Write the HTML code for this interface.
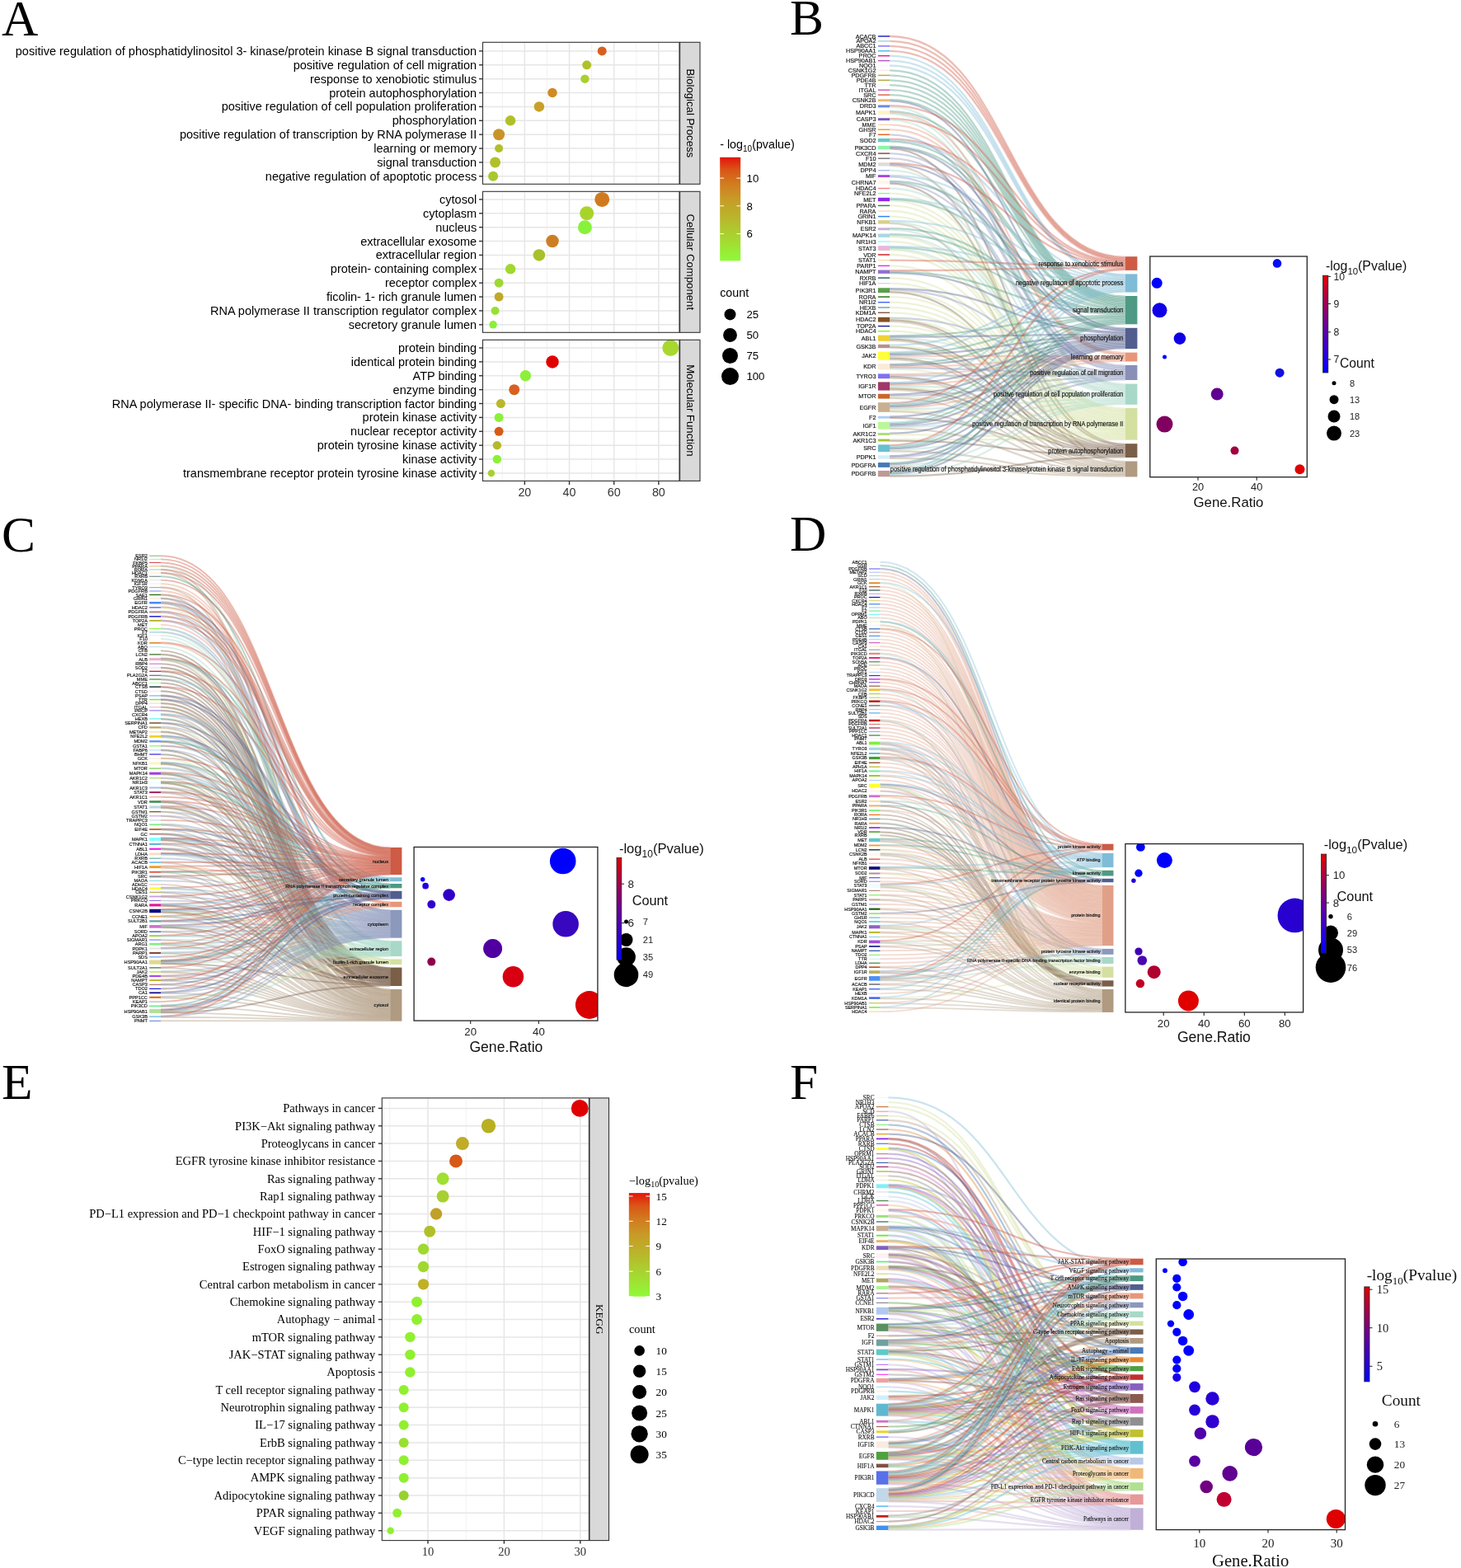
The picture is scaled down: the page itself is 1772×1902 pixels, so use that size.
<!DOCTYPE html>
<html><head><meta charset="utf-8"><title>Enrichment figure</title>
<style>
html,body{margin:0;padding:0;background:#fff;}
body{width:1772px;height:1902px;overflow:hidden;}
svg{display:block;font-family:'Liberation Sans',Arial,Helvetica,sans-serif;}
.sl{stroke:#111;stroke-width:0.16px;}
.sls{stroke:#111;stroke-width:0.1px;}
</style></head><body>
<svg width="1772" height="1902" viewBox="0 0 1772 1902">
<rect width="1772" height="1902" fill="#fff"/>
<text transform="translate(2 43) scale(0.99 1)" font-size="62" font-family="&#39;Liberation Serif&#39;, &#39;Times New Roman&#39;, serif" fill="#000">A</text>
<rect x="585.5" y="51.3" width="238.5" height="172" fill="#ffffff"/>
<line x1="609.28" y1="51.3" x2="609.28" y2="223.3" stroke="#efefef" stroke-width="0.9"/>
<line x1="663.44" y1="51.3" x2="663.44" y2="223.3" stroke="#efefef" stroke-width="0.9"/>
<line x1="717.6" y1="51.3" x2="717.6" y2="223.3" stroke="#efefef" stroke-width="0.9"/>
<line x1="771.76" y1="51.3" x2="771.76" y2="223.3" stroke="#efefef" stroke-width="0.9"/>
<line x1="636.36" y1="51.3" x2="636.36" y2="223.3" stroke="#e6e6e6" stroke-width="1.5"/>
<line x1="690.52" y1="51.3" x2="690.52" y2="223.3" stroke="#e6e6e6" stroke-width="1.5"/>
<line x1="744.68" y1="51.3" x2="744.68" y2="223.3" stroke="#e6e6e6" stroke-width="1.5"/>
<line x1="798.84" y1="51.3" x2="798.84" y2="223.3" stroke="#e6e6e6" stroke-width="1.5"/>
<line x1="585.5" y1="61.9" x2="824" y2="61.9" stroke="#e6e6e6" stroke-width="1.5"/>
<line x1="585.5" y1="78.78" x2="824" y2="78.78" stroke="#e6e6e6" stroke-width="1.5"/>
<line x1="585.5" y1="95.66" x2="824" y2="95.66" stroke="#e6e6e6" stroke-width="1.5"/>
<line x1="585.5" y1="112.54" x2="824" y2="112.54" stroke="#e6e6e6" stroke-width="1.5"/>
<line x1="585.5" y1="129.42" x2="824" y2="129.42" stroke="#e6e6e6" stroke-width="1.5"/>
<line x1="585.5" y1="146.3" x2="824" y2="146.3" stroke="#e6e6e6" stroke-width="1.5"/>
<line x1="585.5" y1="163.18" x2="824" y2="163.18" stroke="#e6e6e6" stroke-width="1.5"/>
<line x1="585.5" y1="180.06" x2="824" y2="180.06" stroke="#e6e6e6" stroke-width="1.5"/>
<line x1="585.5" y1="196.94" x2="824" y2="196.94" stroke="#e6e6e6" stroke-width="1.5"/>
<line x1="585.5" y1="213.82" x2="824" y2="213.82" stroke="#e6e6e6" stroke-width="1.5"/>
<circle cx="730.2" cy="61.9" r="5.5" fill="#d8601e"/>
<circle cx="711.7" cy="78.78" r="5.5" fill="#b0c02a"/>
<circle cx="709.4" cy="95.66" r="5.25" fill="#a8d030"/>
<circle cx="670" cy="112.54" r="5.75" fill="#d08a22"/>
<circle cx="653.9" cy="129.42" r="6.25" fill="#c8a028"/>
<circle cx="619.1" cy="146.3" r="6.25" fill="#b0c02a"/>
<circle cx="605.1" cy="163.18" r="7" fill="#c89428"/>
<circle cx="605.1" cy="180.06" r="5" fill="#b0c02a"/>
<circle cx="600.6" cy="196.94" r="6.5" fill="#b0c02a"/>
<circle cx="598.1" cy="213.82" r="6" fill="#a8c82c"/>
<rect x="585.5" y="51.3" width="238.5" height="172" fill="none" stroke="#333333" stroke-width="1.1"/>
<rect x="824.6" y="51.3" width="24.4" height="172" fill="#d9d9d9" stroke="#333333" stroke-width="1.1"/>
<text x="837.3" y="137.3" font-size="13.2" text-anchor="middle" transform="rotate(90 837.3 137.3)" dominant-baseline="central">Biological Process</text>
<line x1="581" y1="61.9" x2="585.5" y2="61.9" stroke="#333333" stroke-width="1.4"/>
<text x="578.2" y="66.9" font-size="14.5" text-anchor="end">positive regulation of phosphatidylinositol 3- kinase/protein kinase B signal transduction</text>
<line x1="581" y1="78.78" x2="585.5" y2="78.78" stroke="#333333" stroke-width="1.4"/>
<text x="578.2" y="83.78" font-size="14.5" text-anchor="end">positive regulation of cell migration</text>
<line x1="581" y1="95.66" x2="585.5" y2="95.66" stroke="#333333" stroke-width="1.4"/>
<text x="578.2" y="100.66" font-size="14.5" text-anchor="end">response to xenobiotic stimulus</text>
<line x1="581" y1="112.54" x2="585.5" y2="112.54" stroke="#333333" stroke-width="1.4"/>
<text x="578.2" y="117.54" font-size="14.5" text-anchor="end">protein autophosphorylation</text>
<line x1="581" y1="129.42" x2="585.5" y2="129.42" stroke="#333333" stroke-width="1.4"/>
<text x="578.2" y="134.42" font-size="14.5" text-anchor="end">positive regulation of cell population proliferation</text>
<line x1="581" y1="146.3" x2="585.5" y2="146.3" stroke="#333333" stroke-width="1.4"/>
<text x="578.2" y="151.3" font-size="14.5" text-anchor="end">phosphorylation</text>
<line x1="581" y1="163.18" x2="585.5" y2="163.18" stroke="#333333" stroke-width="1.4"/>
<text x="578.2" y="168.18" font-size="14.5" text-anchor="end">positive regulation of transcription by RNA polymerase II</text>
<line x1="581" y1="180.06" x2="585.5" y2="180.06" stroke="#333333" stroke-width="1.4"/>
<text x="578.2" y="185.06" font-size="14.5" text-anchor="end">learning or memory</text>
<line x1="581" y1="196.94" x2="585.5" y2="196.94" stroke="#333333" stroke-width="1.4"/>
<text x="578.2" y="201.94" font-size="14.5" text-anchor="end">signal transduction</text>
<line x1="581" y1="213.82" x2="585.5" y2="213.82" stroke="#333333" stroke-width="1.4"/>
<text x="578.2" y="218.82" font-size="14.5" text-anchor="end">negative regulation of apoptotic process</text>
<rect x="585.5" y="232.3" width="238.5" height="171" fill="#ffffff"/>
<line x1="609.28" y1="232.3" x2="609.28" y2="403.3" stroke="#efefef" stroke-width="0.9"/>
<line x1="663.44" y1="232.3" x2="663.44" y2="403.3" stroke="#efefef" stroke-width="0.9"/>
<line x1="717.6" y1="232.3" x2="717.6" y2="403.3" stroke="#efefef" stroke-width="0.9"/>
<line x1="771.76" y1="232.3" x2="771.76" y2="403.3" stroke="#efefef" stroke-width="0.9"/>
<line x1="636.36" y1="232.3" x2="636.36" y2="403.3" stroke="#e6e6e6" stroke-width="1.5"/>
<line x1="690.52" y1="232.3" x2="690.52" y2="403.3" stroke="#e6e6e6" stroke-width="1.5"/>
<line x1="744.68" y1="232.3" x2="744.68" y2="403.3" stroke="#e6e6e6" stroke-width="1.5"/>
<line x1="798.84" y1="232.3" x2="798.84" y2="403.3" stroke="#e6e6e6" stroke-width="1.5"/>
<line x1="585.5" y1="241.9" x2="824" y2="241.9" stroke="#e6e6e6" stroke-width="1.5"/>
<line x1="585.5" y1="258.78" x2="824" y2="258.78" stroke="#e6e6e6" stroke-width="1.5"/>
<line x1="585.5" y1="275.66" x2="824" y2="275.66" stroke="#e6e6e6" stroke-width="1.5"/>
<line x1="585.5" y1="292.54" x2="824" y2="292.54" stroke="#e6e6e6" stroke-width="1.5"/>
<line x1="585.5" y1="309.42" x2="824" y2="309.42" stroke="#e6e6e6" stroke-width="1.5"/>
<line x1="585.5" y1="326.3" x2="824" y2="326.3" stroke="#e6e6e6" stroke-width="1.5"/>
<line x1="585.5" y1="343.18" x2="824" y2="343.18" stroke="#e6e6e6" stroke-width="1.5"/>
<line x1="585.5" y1="360.06" x2="824" y2="360.06" stroke="#e6e6e6" stroke-width="1.5"/>
<line x1="585.5" y1="376.94" x2="824" y2="376.94" stroke="#e6e6e6" stroke-width="1.5"/>
<line x1="585.5" y1="393.82" x2="824" y2="393.82" stroke="#e6e6e6" stroke-width="1.5"/>
<circle cx="730.2" cy="241.9" r="9" fill="#d07a20"/>
<circle cx="711.7" cy="258.78" r="8.5" fill="#a8d42a"/>
<circle cx="709.4" cy="275.66" r="8.5" fill="#88f23a"/>
<circle cx="670" cy="292.54" r="7.75" fill="#cc7f22"/>
<circle cx="653.9" cy="309.42" r="7.25" fill="#a8c02a"/>
<circle cx="619.1" cy="326.3" r="6.25" fill="#a0d830"/>
<circle cx="605.1" cy="343.18" r="5.5" fill="#9ed835"/>
<circle cx="605.1" cy="360.06" r="5.5" fill="#c0a828"/>
<circle cx="600.6" cy="376.94" r="5" fill="#98e032"/>
<circle cx="598.1" cy="393.82" r="4.75" fill="#8aef3a"/>
<rect x="585.5" y="232.3" width="238.5" height="171" fill="none" stroke="#333333" stroke-width="1.1"/>
<rect x="824.6" y="232.3" width="24.4" height="171" fill="#d9d9d9" stroke="#333333" stroke-width="1.1"/>
<text x="837.3" y="317.8" font-size="13.2" text-anchor="middle" transform="rotate(90 837.3 317.8)" dominant-baseline="central">Cellular Component</text>
<line x1="581" y1="241.9" x2="585.5" y2="241.9" stroke="#333333" stroke-width="1.4"/>
<text x="578.2" y="246.9" font-size="14.5" text-anchor="end">cytosol</text>
<line x1="581" y1="258.78" x2="585.5" y2="258.78" stroke="#333333" stroke-width="1.4"/>
<text x="578.2" y="263.78" font-size="14.5" text-anchor="end">cytoplasm</text>
<line x1="581" y1="275.66" x2="585.5" y2="275.66" stroke="#333333" stroke-width="1.4"/>
<text x="578.2" y="280.66" font-size="14.5" text-anchor="end">nucleus</text>
<line x1="581" y1="292.54" x2="585.5" y2="292.54" stroke="#333333" stroke-width="1.4"/>
<text x="578.2" y="297.54" font-size="14.5" text-anchor="end">extracellular exosome</text>
<line x1="581" y1="309.42" x2="585.5" y2="309.42" stroke="#333333" stroke-width="1.4"/>
<text x="578.2" y="314.42" font-size="14.5" text-anchor="end">extracellular region</text>
<line x1="581" y1="326.3" x2="585.5" y2="326.3" stroke="#333333" stroke-width="1.4"/>
<text x="578.2" y="331.3" font-size="14.5" text-anchor="end">protein- containing complex</text>
<line x1="581" y1="343.18" x2="585.5" y2="343.18" stroke="#333333" stroke-width="1.4"/>
<text x="578.2" y="348.18" font-size="14.5" text-anchor="end">receptor complex</text>
<line x1="581" y1="360.06" x2="585.5" y2="360.06" stroke="#333333" stroke-width="1.4"/>
<text x="578.2" y="365.06" font-size="14.5" text-anchor="end">ficolin- 1- rich granule lumen</text>
<line x1="581" y1="376.94" x2="585.5" y2="376.94" stroke="#333333" stroke-width="1.4"/>
<text x="578.2" y="381.94" font-size="14.5" text-anchor="end">RNA polymerase II transcription regulator complex</text>
<line x1="581" y1="393.82" x2="585.5" y2="393.82" stroke="#333333" stroke-width="1.4"/>
<text x="578.2" y="398.82" font-size="14.5" text-anchor="end">secretory granule lumen</text>
<rect x="585.5" y="412.3" width="238.5" height="171.1" fill="#ffffff"/>
<line x1="609.28" y1="412.3" x2="609.28" y2="583.4" stroke="#efefef" stroke-width="0.9"/>
<line x1="663.44" y1="412.3" x2="663.44" y2="583.4" stroke="#efefef" stroke-width="0.9"/>
<line x1="717.6" y1="412.3" x2="717.6" y2="583.4" stroke="#efefef" stroke-width="0.9"/>
<line x1="771.76" y1="412.3" x2="771.76" y2="583.4" stroke="#efefef" stroke-width="0.9"/>
<line x1="636.36" y1="412.3" x2="636.36" y2="583.4" stroke="#e6e6e6" stroke-width="1.5"/>
<line x1="690.52" y1="412.3" x2="690.52" y2="583.4" stroke="#e6e6e6" stroke-width="1.5"/>
<line x1="744.68" y1="412.3" x2="744.68" y2="583.4" stroke="#e6e6e6" stroke-width="1.5"/>
<line x1="798.84" y1="412.3" x2="798.84" y2="583.4" stroke="#e6e6e6" stroke-width="1.5"/>
<line x1="585.5" y1="422" x2="824" y2="422" stroke="#e6e6e6" stroke-width="1.5"/>
<line x1="585.5" y1="438.88" x2="824" y2="438.88" stroke="#e6e6e6" stroke-width="1.5"/>
<line x1="585.5" y1="455.76" x2="824" y2="455.76" stroke="#e6e6e6" stroke-width="1.5"/>
<line x1="585.5" y1="472.64" x2="824" y2="472.64" stroke="#e6e6e6" stroke-width="1.5"/>
<line x1="585.5" y1="489.52" x2="824" y2="489.52" stroke="#e6e6e6" stroke-width="1.5"/>
<line x1="585.5" y1="506.4" x2="824" y2="506.4" stroke="#e6e6e6" stroke-width="1.5"/>
<line x1="585.5" y1="523.28" x2="824" y2="523.28" stroke="#e6e6e6" stroke-width="1.5"/>
<line x1="585.5" y1="540.16" x2="824" y2="540.16" stroke="#e6e6e6" stroke-width="1.5"/>
<line x1="585.5" y1="557.04" x2="824" y2="557.04" stroke="#e6e6e6" stroke-width="1.5"/>
<line x1="585.5" y1="573.92" x2="824" y2="573.92" stroke="#e6e6e6" stroke-width="1.5"/>
<circle cx="813.3" cy="422" r="10" fill="#a8d830"/>
<circle cx="670" cy="438.88" r="7.75" fill="#e00000"/>
<circle cx="637.4" cy="455.76" r="6.75" fill="#8cf038"/>
<circle cx="623.7" cy="472.64" r="6.5" fill="#d86020"/>
<circle cx="607.4" cy="489.52" r="5.5" fill="#b8b82c"/>
<circle cx="605.1" cy="506.4" r="5.5" fill="#8cf038"/>
<circle cx="605.1" cy="523.28" r="5.5" fill="#d85a18"/>
<circle cx="602.9" cy="540.16" r="5.25" fill="#b8b82c"/>
<circle cx="602.9" cy="557.04" r="5.25" fill="#8cf038"/>
<circle cx="595.9" cy="573.92" r="4.25" fill="#a8d030"/>
<rect x="585.5" y="412.3" width="238.5" height="171.1" fill="none" stroke="#333333" stroke-width="1.1"/>
<rect x="824.6" y="412.3" width="24.4" height="171.1" fill="#d9d9d9" stroke="#333333" stroke-width="1.1"/>
<text x="837.3" y="497.85" font-size="13.2" text-anchor="middle" transform="rotate(90 837.3 497.85)" dominant-baseline="central">Molecular Function</text>
<line x1="581" y1="422" x2="585.5" y2="422" stroke="#333333" stroke-width="1.4"/>
<text x="578.2" y="427" font-size="14.5" text-anchor="end">protein binding</text>
<line x1="581" y1="438.88" x2="585.5" y2="438.88" stroke="#333333" stroke-width="1.4"/>
<text x="578.2" y="443.88" font-size="14.5" text-anchor="end">identical protein binding</text>
<line x1="581" y1="455.76" x2="585.5" y2="455.76" stroke="#333333" stroke-width="1.4"/>
<text x="578.2" y="460.76" font-size="14.5" text-anchor="end">ATP binding</text>
<line x1="581" y1="472.64" x2="585.5" y2="472.64" stroke="#333333" stroke-width="1.4"/>
<text x="578.2" y="477.64" font-size="14.5" text-anchor="end">enzyme binding</text>
<line x1="581" y1="489.52" x2="585.5" y2="489.52" stroke="#333333" stroke-width="1.4"/>
<text x="578.2" y="494.52" font-size="14.5" text-anchor="end">RNA polymerase II- specific DNA- binding transcription factor binding</text>
<line x1="581" y1="506.4" x2="585.5" y2="506.4" stroke="#333333" stroke-width="1.4"/>
<text x="578.2" y="511.4" font-size="14.5" text-anchor="end">protein kinase activity</text>
<line x1="581" y1="523.28" x2="585.5" y2="523.28" stroke="#333333" stroke-width="1.4"/>
<text x="578.2" y="528.28" font-size="14.5" text-anchor="end">nuclear receptor activity</text>
<line x1="581" y1="540.16" x2="585.5" y2="540.16" stroke="#333333" stroke-width="1.4"/>
<text x="578.2" y="545.16" font-size="14.5" text-anchor="end">protein tyrosine kinase activity</text>
<line x1="581" y1="557.04" x2="585.5" y2="557.04" stroke="#333333" stroke-width="1.4"/>
<text x="578.2" y="562.04" font-size="14.5" text-anchor="end">kinase activity</text>
<line x1="581" y1="573.92" x2="585.5" y2="573.92" stroke="#333333" stroke-width="1.4"/>
<text x="578.2" y="578.92" font-size="14.5" text-anchor="end">transmembrane receptor protein tyrosine kinase activity</text>
<line x1="636.36" y1="583.4" x2="636.36" y2="588" stroke="#333333" stroke-width="1.4"/>
<text x="636.36" y="602.3" font-size="14.3" text-anchor="middle" fill="#333333">20</text>
<line x1="690.52" y1="583.4" x2="690.52" y2="588" stroke="#333333" stroke-width="1.4"/>
<text x="690.52" y="602.3" font-size="14.3" text-anchor="middle" fill="#333333">40</text>
<line x1="744.68" y1="583.4" x2="744.68" y2="588" stroke="#333333" stroke-width="1.4"/>
<text x="744.68" y="602.3" font-size="14.3" text-anchor="middle" fill="#333333">60</text>
<line x1="798.84" y1="583.4" x2="798.84" y2="588" stroke="#333333" stroke-width="1.4"/>
<text x="798.84" y="602.3" font-size="14.3" text-anchor="middle" fill="#333333">80</text>
<defs><linearGradient id="gA" x1="0" y1="1" x2="0" y2="0"><stop offset="0" stop-color="#8ffa38"/><stop offset="0.2" stop-color="#a5d931"/><stop offset="0.4" stop-color="#b8b82c"/><stop offset="0.6" stop-color="#c89a26"/><stop offset="0.75" stop-color="#d27a1f"/><stop offset="0.88" stop-color="#da5516"/><stop offset="1" stop-color="#e3140b"/></linearGradient><linearGradient id="gB" x1="0" y1="1" x2="0" y2="0"><stop offset="0" stop-color="#0000ff"/><stop offset="0.35" stop-color="#3a00c0"/><stop offset="0.6" stop-color="#70008a"/><stop offset="0.8" stop-color="#a00050"/><stop offset="1" stop-color="#e00000"/></linearGradient></defs>
<text x="873.2" y="179.5" font-size="14.3">- log<tspan font-size="10" dy="4">10</tspan><tspan dy="-4">(pvalue)</tspan></text>
<rect x="873.2" y="190.8" width="25" height="125.6" fill="url(#gA)"/>
<line x1="873.2" y1="216.1" x2="878" y2="216.1" stroke="#ffffff" stroke-width="1"/>
<line x1="893.4" y1="216.1" x2="898.2" y2="216.1" stroke="#ffffff" stroke-width="1"/>
<text x="905.6" y="220.9" font-size="13.2">10</text>
<line x1="873.2" y1="249.8" x2="878" y2="249.8" stroke="#ffffff" stroke-width="1"/>
<line x1="893.4" y1="249.8" x2="898.2" y2="249.8" stroke="#ffffff" stroke-width="1"/>
<text x="905.6" y="254.6" font-size="13.2">8</text>
<line x1="873.2" y1="283.6" x2="878" y2="283.6" stroke="#ffffff" stroke-width="1"/>
<line x1="893.4" y1="283.6" x2="898.2" y2="283.6" stroke="#ffffff" stroke-width="1"/>
<text x="905.6" y="288.4" font-size="13.2">6</text>
<text x="873.2" y="360" font-size="14.3">count</text>
<circle cx="885.5" cy="381.4" r="7" fill="#000"/>
<text x="905.4" y="386.2" font-size="13.2">25</text>
<circle cx="885.5" cy="406.5" r="8.4" fill="#000"/>
<text x="905.4" y="411.3" font-size="13.2">50</text>
<circle cx="885.5" cy="431.5" r="9.5" fill="#000"/>
<text x="905.4" y="436.3" font-size="13.2">75</text>
<circle cx="885.5" cy="456.6" r="10.5" fill="#000"/>
<text x="905.4" y="461.4" font-size="13.2">100</text>
<text transform="translate(958 42.4) scale(0.99 1)" font-size="62" font-family="&#39;Liberation Serif&#39;, &#39;Times New Roman&#39;, serif" fill="#000">B</text>
<g fill="none" stroke-opacity="0.4" stroke-width="2.3">
<path d="M1079.1 44C1222 44 1222 311.9 1364.9 311.9" stroke="#cf5b45"/>
<path d="M1079.1 49.9C1222 49.9 1222 313.29 1364.9 313.29" stroke="#cf5b45"/>
<path d="M1079.1 55.9C1222 55.9 1222 314.68 1364.9 314.68" stroke="#cf5b45"/>
<path d="M1079.1 61.8C1222 61.8 1222 316.07 1364.9 316.07" stroke="#cf5b45"/>
<path d="M1079.1 67.7C1222 67.7 1222 333.14 1364.9 333.14" stroke="#7fbcd6"/>
<path d="M1079.1 73.6C1222 73.6 1222 334.61 1364.9 334.61" stroke="#7fbcd6"/>
<path d="M1079.1 79.5C1222 79.5 1222 336.08 1364.9 336.08" stroke="#7fbcd6"/>
<path d="M1079.1 85.4C1222 85.4 1222 359.71 1364.9 359.71" stroke="#4e9a84"/>
<path d="M1079.1 91.4C1222 91.4 1222 361.14 1364.9 361.14" stroke="#4e9a84"/>
<path d="M1079.1 97.3C1222 97.3 1222 362.57 1364.9 362.57" stroke="#4e9a84"/>
<path d="M1079.1 103.2C1222 103.2 1222 364 1364.9 364" stroke="#4e9a84"/>
<path d="M1079.1 109.2C1222 109.2 1222 365.43 1364.9 365.43" stroke="#4e9a84"/>
<path d="M1079.1 115.1C1222 115.1 1222 366.86 1364.9 366.86" stroke="#4e9a84"/>
<path d="M1079.1 120.97C1222 120.97 1222 368.29 1364.9 368.29" stroke="#4e9a84"/>
<path d="M1079.1 122.42C1222 122.42 1222 398.5 1364.9 398.5" stroke="#525e8e"/>
<path d="M1079.1 128.18C1222 128.18 1222 317.46 1364.9 317.46" stroke="#cf5b45"/>
<path d="M1079.1 129.62C1222 129.62 1222 466.34 1364.9 466.34" stroke="#a8d8c8"/>
<path d="M1079.1 135.15C1222 135.15 1222 369.72 1364.9 369.72" stroke="#4e9a84"/>
<path d="M1079.1 136.6C1222 136.6 1222 428.28 1364.9 428.28" stroke="#e8967a"/>
<path d="M1079.1 138.05C1222 138.05 1222 467.82 1364.9 467.82" stroke="#a8d8c8"/>
<path d="M1079.1 143.97C1222 143.97 1222 318.85 1364.9 318.85" stroke="#cf5b45"/>
<path d="M1079.1 145.43C1222 145.43 1222 469.31 1364.9 469.31" stroke="#a8d8c8"/>
<path d="M1079.1 151.3C1222 151.3 1222 429.64 1364.9 429.64" stroke="#e8967a"/>
<path d="M1079.1 157.2C1222 157.2 1222 431.01 1364.9 431.01" stroke="#e8967a"/>
<path d="M1079.1 163.3C1222 163.3 1222 443.75 1364.9 443.75" stroke="#8890b8"/>
<path d="M1079.1 168.65C1222 168.65 1222 320.25 1364.9 320.25" stroke="#cf5b45"/>
<path d="M1079.1 170.1C1222 170.1 1222 337.56 1364.9 337.56" stroke="#7fbcd6"/>
<path d="M1079.1 171.55C1222 171.55 1222 371.15 1364.9 371.15" stroke="#4e9a84"/>
<path d="M1079.1 177.55C1222 177.55 1222 372.58 1364.9 372.58" stroke="#4e9a84"/>
<path d="M1079.1 179C1222 179 1222 399.91 1364.9 399.91" stroke="#525e8e"/>
<path d="M1079.1 180.45C1222 180.45 1222 538.9 1364.9 538.9" stroke="#7a5e48"/>
<path d="M1079.1 186.1C1222 186.1 1222 445.25 1364.9 445.25" stroke="#8890b8"/>
<path d="M1079.1 192.2C1222 192.2 1222 446.75 1364.9 446.75" stroke="#8890b8"/>
<path d="M1079.1 197.85C1222 197.85 1222 321.64 1364.9 321.64" stroke="#cf5b45"/>
<path d="M1079.1 199.3C1222 199.3 1222 401.31 1364.9 401.31" stroke="#525e8e"/>
<path d="M1079.1 200.75C1222 200.75 1222 560.23 1364.9 560.23" stroke="#b09a80"/>
<path d="M1079.1 206.7C1222 206.7 1222 470.79 1364.9 470.79" stroke="#a8d8c8"/>
<path d="M1079.1 212.88C1222 212.88 1222 339.03 1364.9 339.03" stroke="#7fbcd6"/>
<path d="M1079.1 214.33C1222 214.33 1222 448.25 1364.9 448.25" stroke="#8890b8"/>
<path d="M1079.1 219.75C1222 219.75 1222 374.01 1364.9 374.01" stroke="#4e9a84"/>
<path d="M1079.1 221.2C1222 221.2 1222 449.75 1364.9 449.75" stroke="#8890b8"/>
<path d="M1079.1 222.65C1222 222.65 1222 540.3 1364.9 540.3" stroke="#7a5e48"/>
<path d="M1079.1 228.5C1222 228.5 1222 472.27 1364.9 472.27" stroke="#a8d8c8"/>
<path d="M1079.1 234.6C1222 234.6 1222 495.62 1364.9 495.62" stroke="#d4e0a0"/>
<path d="M1079.1 240.55C1222 240.55 1222 340.5 1364.9 340.5" stroke="#7fbcd6"/>
<path d="M1079.1 242C1222 242 1222 375.44 1364.9 375.44" stroke="#4e9a84"/>
<path d="M1079.1 243.45C1222 243.45 1222 497.06 1364.9 497.06" stroke="#d4e0a0"/>
<path d="M1079.1 249.4C1222 249.4 1222 498.49 1364.9 498.49" stroke="#d4e0a0"/>
<path d="M1079.1 256C1222 256 1222 499.93 1364.9 499.93" stroke="#d4e0a0"/>
<path d="M1079.1 262.6C1222 262.6 1222 501.37 1364.9 501.37" stroke="#d4e0a0"/>
<path d="M1079.1 267.95C1222 267.95 1222 341.98 1364.9 341.98" stroke="#7fbcd6"/>
<path d="M1079.1 269.4C1222 269.4 1222 473.75 1364.9 473.75" stroke="#a8d8c8"/>
<path d="M1079.1 270.85C1222 270.85 1222 561.68 1364.9 561.68" stroke="#b09a80"/>
<path d="M1079.1 277.08C1222 277.08 1222 376.86 1364.9 376.86" stroke="#4e9a84"/>
<path d="M1079.1 278.53C1222 278.53 1222 475.24 1364.9 475.24" stroke="#a8d8c8"/>
<path d="M1079.1 284.25C1222 284.25 1222 378.29 1364.9 378.29" stroke="#4e9a84"/>
<path d="M1079.1 285.7C1222 285.7 1222 476.72 1364.9 476.72" stroke="#a8d8c8"/>
<path d="M1079.1 287.15C1222 287.15 1222 502.8 1364.9 502.8" stroke="#d4e0a0"/>
<path d="M1079.1 293C1222 293 1222 504.24 1364.9 504.24" stroke="#d4e0a0"/>
<path d="M1079.1 298.83C1222 298.83 1222 343.45 1364.9 343.45" stroke="#7fbcd6"/>
<path d="M1079.1 300.28C1222 300.28 1222 379.72 1364.9 379.72" stroke="#4e9a84"/>
<path d="M1079.1 301.73C1222 301.73 1222 478.2 1364.9 478.2" stroke="#a8d8c8"/>
<path d="M1079.1 303.18C1222 303.18 1222 505.68 1364.9 505.68" stroke="#d4e0a0"/>
<path d="M1079.1 309C1222 309 1222 507.11 1364.9 507.11" stroke="#d4e0a0"/>
<path d="M1079.1 315.6C1222 315.6 1222 323.03 1364.9 323.03" stroke="#cf5b45"/>
<path d="M1079.1 322.4C1222 322.4 1222 508.55 1364.9 508.55" stroke="#d4e0a0"/>
<path d="M1079.1 328.25C1222 328.25 1222 324.42 1364.9 324.42" stroke="#cf5b45"/>
<path d="M1079.1 329.7C1222 329.7 1222 381.15 1364.9 381.15" stroke="#4e9a84"/>
<path d="M1079.1 331.15C1222 331.15 1222 402.72 1364.9 402.72" stroke="#525e8e"/>
<path d="M1079.1 337.1C1222 337.1 1222 509.99 1364.9 509.99" stroke="#d4e0a0"/>
<path d="M1079.1 343.7C1222 343.7 1222 511.43 1364.9 511.43" stroke="#d4e0a0"/>
<path d="M1079.1 350.03C1222 350.03 1222 404.12 1364.9 404.12" stroke="#525e8e"/>
<path d="M1079.1 351.48C1222 351.48 1222 451.25 1364.9 451.25" stroke="#8890b8"/>
<path d="M1079.1 352.93C1222 352.93 1222 512.86 1364.9 512.86" stroke="#d4e0a0"/>
<path d="M1079.1 354.38C1222 354.38 1222 541.7 1364.9 541.7" stroke="#7a5e48"/>
<path d="M1079.1 360.1C1222 360.1 1222 514.3 1364.9 514.3" stroke="#d4e0a0"/>
<path d="M1079.1 366.7C1222 366.7 1222 515.74 1364.9 515.74" stroke="#d4e0a0"/>
<path d="M1079.1 373C1222 373 1222 517.17 1364.9 517.17" stroke="#d4e0a0"/>
<path d="M1079.1 379.3C1222 379.3 1222 518.61 1364.9 518.61" stroke="#d4e0a0"/>
<path d="M1079.1 385.53C1222 385.53 1222 452.75 1364.9 452.75" stroke="#8890b8"/>
<path d="M1079.1 386.98C1222 386.98 1222 520.05 1364.9 520.05" stroke="#d4e0a0"/>
<path d="M1079.1 388.43C1222 388.43 1222 543.1 1364.9 543.1" stroke="#7a5e48"/>
<path d="M1079.1 389.88C1222 389.88 1222 563.13 1364.9 563.13" stroke="#b09a80"/>
<path d="M1079.1 395.6C1222 395.6 1222 521.49 1364.9 521.49" stroke="#d4e0a0"/>
<path d="M1079.1 401.7C1222 401.7 1222 522.92 1364.9 522.92" stroke="#d4e0a0"/>
<path d="M1079.1 407.3C1222 407.3 1222 382.58 1364.9 382.58" stroke="#4e9a84"/>
<path d="M1079.1 408.75C1222 408.75 1222 405.53 1364.9 405.53" stroke="#525e8e"/>
<path d="M1079.1 410.2C1222 410.2 1222 479.68 1364.9 479.68" stroke="#a8d8c8"/>
<path d="M1079.1 411.65C1222 411.65 1222 544.5 1364.9 544.5" stroke="#7a5e48"/>
<path d="M1079.1 413.1C1222 413.1 1222 564.59 1364.9 564.59" stroke="#b09a80"/>
<path d="M1079.1 418.55C1222 418.55 1222 344.92 1364.9 344.92" stroke="#7fbcd6"/>
<path d="M1079.1 420C1222 420 1222 524.36 1364.9 524.36" stroke="#d4e0a0"/>
<path d="M1079.1 421.45C1222 421.45 1222 545.9 1364.9 545.9" stroke="#7a5e48"/>
<path d="M1079.1 427.35C1222 427.35 1222 346.4 1364.9 346.4" stroke="#7fbcd6"/>
<path d="M1079.1 428.8C1222 428.8 1222 384.01 1364.9 384.01" stroke="#4e9a84"/>
<path d="M1079.1 430.25C1222 430.25 1222 406.94 1364.9 406.94" stroke="#525e8e"/>
<path d="M1079.1 431.7C1222 431.7 1222 432.37 1364.9 432.37" stroke="#e8967a"/>
<path d="M1079.1 433.15C1222 433.15 1222 481.16 1364.9 481.16" stroke="#a8d8c8"/>
<path d="M1079.1 434.6C1222 434.6 1222 547.3 1364.9 547.3" stroke="#7a5e48"/>
<path d="M1079.1 436.05C1222 436.05 1222 566.04 1364.9 566.04" stroke="#b09a80"/>
<path d="M1079.1 441.9C1222 441.9 1222 385.44 1364.9 385.44" stroke="#4e9a84"/>
<path d="M1079.1 443.35C1222 443.35 1222 408.34 1364.9 408.34" stroke="#525e8e"/>
<path d="M1079.1 444.8C1222 444.8 1222 433.73 1364.9 433.73" stroke="#e8967a"/>
<path d="M1079.1 446.25C1222 446.25 1222 454.25 1364.9 454.25" stroke="#8890b8"/>
<path d="M1079.1 447.7C1222 447.7 1222 525.8 1364.9 525.8" stroke="#d4e0a0"/>
<path d="M1079.1 454.13C1222 454.13 1222 435.09 1364.9 435.09" stroke="#e8967a"/>
<path d="M1079.1 455.58C1222 455.58 1222 455.75 1364.9 455.75" stroke="#8890b8"/>
<path d="M1079.1 457.03C1222 457.03 1222 548.7 1364.9 548.7" stroke="#7a5e48"/>
<path d="M1079.1 458.48C1222 458.48 1222 567.5 1364.9 567.5" stroke="#b09a80"/>
<path d="M1079.1 464.15C1222 464.15 1222 347.87 1364.9 347.87" stroke="#7fbcd6"/>
<path d="M1079.1 465.6C1222 465.6 1222 409.75 1364.9 409.75" stroke="#525e8e"/>
<path d="M1079.1 467.05C1222 467.05 1222 436.46 1364.9 436.46" stroke="#e8967a"/>
<path d="M1079.1 468.5C1222 468.5 1222 482.65 1364.9 482.65" stroke="#a8d8c8"/>
<path d="M1079.1 469.95C1222 469.95 1222 527.23 1364.9 527.23" stroke="#d4e0a0"/>
<path d="M1079.1 471.4C1222 471.4 1222 550.1 1364.9 550.1" stroke="#7a5e48"/>
<path d="M1079.1 472.85C1222 472.85 1222 568.95 1364.9 568.95" stroke="#b09a80"/>
<path d="M1079.1 478.53C1222 478.53 1222 411.15 1364.9 411.15" stroke="#525e8e"/>
<path d="M1079.1 479.98C1222 479.98 1222 457.25 1364.9 457.25" stroke="#8890b8"/>
<path d="M1079.1 481.43C1222 481.43 1222 528.67 1364.9 528.67" stroke="#d4e0a0"/>
<path d="M1079.1 482.88C1222 482.88 1222 570.4 1364.9 570.4" stroke="#b09a80"/>
<path d="M1079.1 488.93C1222 488.93 1222 325.81 1364.9 325.81" stroke="#cf5b45"/>
<path d="M1079.1 490.38C1222 490.38 1222 349.34 1364.9 349.34" stroke="#7fbcd6"/>
<path d="M1079.1 491.82C1222 491.82 1222 386.87 1364.9 386.87" stroke="#4e9a84"/>
<path d="M1079.1 493.27C1222 493.27 1222 412.56 1364.9 412.56" stroke="#525e8e"/>
<path d="M1079.1 494.72C1222 494.72 1222 437.82 1364.9 437.82" stroke="#e8967a"/>
<path d="M1079.1 496.18C1222 496.18 1222 484.13 1364.9 484.13" stroke="#a8d8c8"/>
<path d="M1079.1 497.62C1222 497.62 1222 530.11 1364.9 530.11" stroke="#d4e0a0"/>
<path d="M1079.1 499.07C1222 499.07 1222 571.86 1364.9 571.86" stroke="#b09a80"/>
<path d="M1079.1 505.48C1222 505.48 1222 413.96 1364.9 413.96" stroke="#525e8e"/>
<path d="M1079.1 506.93C1222 506.93 1222 551.5 1364.9 551.5" stroke="#7a5e48"/>
<path d="M1079.1 512.67C1222 512.67 1222 350.82 1364.9 350.82" stroke="#7fbcd6"/>
<path d="M1079.1 514.12C1222 514.12 1222 388.3 1364.9 388.3" stroke="#4e9a84"/>
<path d="M1079.1 515.57C1222 515.57 1222 415.37 1364.9 415.37" stroke="#525e8e"/>
<path d="M1079.1 517.02C1222 517.02 1222 458.75 1364.9 458.75" stroke="#8890b8"/>
<path d="M1079.1 518.47C1222 518.47 1222 485.61 1364.9 485.61" stroke="#a8d8c8"/>
<path d="M1079.1 519.92C1222 519.92 1222 573.31 1364.9 573.31" stroke="#b09a80"/>
<path d="M1079.1 525.77C1222 525.77 1222 416.78 1364.9 416.78" stroke="#525e8e"/>
<path d="M1079.1 527.22C1222 527.22 1222 531.54 1364.9 531.54" stroke="#d4e0a0"/>
<path d="M1079.1 533.27C1222 533.27 1222 532.98 1364.9 532.98" stroke="#d4e0a0"/>
<path d="M1079.1 534.72C1222 534.72 1222 552.9 1364.9 552.9" stroke="#7a5e48"/>
<path d="M1079.1 540.08C1222 540.08 1222 327.2 1364.9 327.2" stroke="#cf5b45"/>
<path d="M1079.1 541.52C1222 541.52 1222 352.29 1364.9 352.29" stroke="#7fbcd6"/>
<path d="M1079.1 542.98C1222 542.98 1222 389.73 1364.9 389.73" stroke="#4e9a84"/>
<path d="M1079.1 544.43C1222 544.43 1222 418.18 1364.9 418.18" stroke="#525e8e"/>
<path d="M1079.1 545.88C1222 545.88 1222 487.09 1364.9 487.09" stroke="#a8d8c8"/>
<path d="M1079.1 547.33C1222 547.33 1222 574.77 1364.9 574.77" stroke="#b09a80"/>
<path d="M1079.1 553.05C1222 553.05 1222 419.59 1364.9 419.59" stroke="#525e8e"/>
<path d="M1079.1 554.5C1222 554.5 1222 460.25 1364.9 460.25" stroke="#8890b8"/>
<path d="M1079.1 555.95C1222 555.95 1222 576.22 1364.9 576.22" stroke="#b09a80"/>
<path d="M1079.1 561.83C1222 561.83 1222 391.16 1364.9 391.16" stroke="#4e9a84"/>
<path d="M1079.1 563.27C1222 563.27 1222 420.99 1364.9 420.99" stroke="#525e8e"/>
<path d="M1079.1 564.73C1222 564.73 1222 488.58 1364.9 488.58" stroke="#a8d8c8"/>
<path d="M1079.1 566.18C1222 566.18 1222 577.67 1364.9 577.67" stroke="#b09a80"/>
<path d="M1079.1 571.7C1222 571.7 1222 353.76 1364.9 353.76" stroke="#7fbcd6"/>
<path d="M1079.1 573.15C1222 573.15 1222 392.59 1364.9 392.59" stroke="#4e9a84"/>
<path d="M1079.1 574.6C1222 574.6 1222 422.4 1364.9 422.4" stroke="#525e8e"/>
<path d="M1079.1 576.05C1222 576.05 1222 490.06 1364.9 490.06" stroke="#a8d8c8"/>
<path d="M1079.1 577.5C1222 577.5 1222 554.3 1364.9 554.3" stroke="#7a5e48"/>
</g>
<rect x="1064.9" y="43.27" width="14.2" height="1.45" fill="#2020c8"/>
<rect x="1064.9" y="49.17" width="14.2" height="1.45" fill="#a8d0e0"/>
<rect x="1064.9" y="55.17" width="14.2" height="1.45" fill="#8070f8"/>
<rect x="1064.9" y="61.07" width="14.2" height="1.45" fill="#50b8f0"/>
<rect x="1064.9" y="66.98" width="14.2" height="1.45" fill="#e0208a"/>
<rect x="1064.9" y="72.88" width="14.2" height="1.45" fill="#c050c0"/>
<rect x="1064.9" y="78.78" width="14.2" height="1.45" fill="#eefaff"/>
<rect x="1064.9" y="84.68" width="14.2" height="1.45" fill="#ffe4ee"/>
<rect x="1064.9" y="90.68" width="14.2" height="1.45" fill="#b8b020"/>
<rect x="1064.9" y="96.58" width="14.2" height="1.45" fill="#b0a848"/>
<rect x="1064.9" y="102.48" width="14.2" height="1.45" fill="#eefff0"/>
<rect x="1064.9" y="108.48" width="14.2" height="1.45" fill="#c858c0"/>
<rect x="1064.9" y="114.38" width="14.2" height="1.45" fill="#e06048"/>
<rect x="1064.9" y="120.25" width="14.2" height="2.9" fill="#f0b878"/>
<rect x="1064.9" y="127.45" width="14.2" height="2.9" fill="#6888e8"/>
<rect x="1064.9" y="134.42" width="14.2" height="4.35" fill="#fff2c4"/>
<rect x="1064.9" y="143.25" width="14.2" height="2.9" fill="#7858c8"/>
<rect x="1064.9" y="150.58" width="14.2" height="1.45" fill="#f8d8b0"/>
<rect x="1064.9" y="156.47" width="14.2" height="1.45" fill="#f0a020"/>
<rect x="1064.9" y="162.58" width="14.2" height="1.45" fill="#e06818"/>
<rect x="1064.9" y="167.92" width="14.2" height="4.35" fill="#68c8c8"/>
<rect x="1064.9" y="176.82" width="14.2" height="4.35" fill="#88f8a8"/>
<rect x="1064.9" y="185.38" width="14.2" height="1.45" fill="#884838"/>
<rect x="1064.9" y="191.47" width="14.2" height="1.45" fill="#787878"/>
<rect x="1064.9" y="197.12" width="14.2" height="4.35" fill="#dcdcdc"/>
<rect x="1064.9" y="205.97" width="14.2" height="1.45" fill="#a8b8f0"/>
<rect x="1064.9" y="212.15" width="14.2" height="2.9" fill="#a848d8"/>
<rect x="1064.9" y="219.02" width="14.2" height="4.35" fill="#fff6e8"/>
<rect x="1064.9" y="227.78" width="14.2" height="1.45" fill="#f08888"/>
<rect x="1064.9" y="233.88" width="14.2" height="1.45" fill="#88f898"/>
<rect x="1064.9" y="239.82" width="14.2" height="4.35" fill="#9028e8"/>
<rect x="1064.9" y="248.68" width="14.2" height="1.45" fill="#288848"/>
<rect x="1064.9" y="255.28" width="14.2" height="1.45" fill="#f8dcc0"/>
<rect x="1064.9" y="261.88" width="14.2" height="1.45" fill="#2888f0"/>
<rect x="1064.9" y="267.22" width="14.2" height="4.35" fill="#d8d088"/>
<rect x="1064.9" y="276.35" width="14.2" height="2.9" fill="#c8b0d8"/>
<rect x="1064.9" y="283.52" width="14.2" height="4.35" fill="#a8d8e0"/>
<rect x="1064.9" y="292.27" width="14.2" height="1.45" fill="#88ffff"/>
<rect x="1064.9" y="298.1" width="14.2" height="5.8" fill="#e8b8d8"/>
<rect x="1064.9" y="308.27" width="14.2" height="1.45" fill="#c82020"/>
<rect x="1064.9" y="314.88" width="14.2" height="1.45" fill="#f8dca8"/>
<rect x="1064.9" y="321.67" width="14.2" height="1.45" fill="#f028f0"/>
<rect x="1064.9" y="327.52" width="14.2" height="4.35" fill="#9070d0"/>
<rect x="1064.9" y="336.38" width="14.2" height="1.45" fill="#286858"/>
<rect x="1064.9" y="342.97" width="14.2" height="1.45" fill="#d8d8d8"/>
<rect x="1064.9" y="349.3" width="14.2" height="5.8" fill="#58a048"/>
<rect x="1064.9" y="359.38" width="14.2" height="1.45" fill="#287010"/>
<rect x="1064.9" y="365.97" width="14.2" height="1.45" fill="#4868f0"/>
<rect x="1064.9" y="372.27" width="14.2" height="1.45" fill="#68a8a8"/>
<rect x="1064.9" y="378.57" width="14.2" height="1.45" fill="#885848"/>
<rect x="1064.9" y="384.8" width="14.2" height="5.8" fill="#885020"/>
<rect x="1064.9" y="394.88" width="14.2" height="1.45" fill="#2020a0"/>
<rect x="1064.9" y="400.97" width="14.2" height="1.45" fill="#88f040"/>
<rect x="1064.9" y="406.57" width="14.2" height="7.25" fill="#f0d038"/>
<rect x="1064.9" y="417.82" width="14.2" height="4.35" fill="#b89090"/>
<rect x="1064.9" y="426.62" width="14.2" height="10.15" fill="#ffff38"/>
<rect x="1064.9" y="441.18" width="14.2" height="7.25" fill="#f8ecd8"/>
<rect x="1064.9" y="453.4" width="14.2" height="5.8" fill="#8070f0"/>
<rect x="1064.9" y="463.43" width="14.2" height="10.15" fill="#a03868"/>
<rect x="1064.9" y="477.8" width="14.2" height="5.8" fill="#c86828"/>
<rect x="1064.9" y="488.2" width="14.2" height="11.6" fill="#c8b090"/>
<rect x="1064.9" y="504.75" width="14.2" height="2.9" fill="#a8d0f0"/>
<rect x="1064.9" y="511.95" width="14.2" height="8.7" fill="#b8f898"/>
<rect x="1064.9" y="525.05" width="14.2" height="2.9" fill="#a8e078"/>
<rect x="1064.9" y="532.55" width="14.2" height="2.9" fill="#a8c038"/>
<rect x="1064.9" y="539.35" width="14.2" height="8.7" fill="#68c0d0"/>
<rect x="1064.9" y="552.33" width="14.2" height="4.35" fill="#d0f0f8"/>
<rect x="1064.9" y="561.1" width="14.2" height="5.8" fill="#4878b8"/>
<rect x="1064.9" y="570.98" width="14.2" height="7.25" fill="#c09898"/>
<text x="1062.4" y="46.59" font-size="7.2" text-anchor="end" fill="#111" class="sl">ACACB</text>
<text x="1062.4" y="52.49" font-size="7.2" text-anchor="end" fill="#111" class="sl">APOA2</text>
<text x="1062.4" y="58.49" font-size="7.2" text-anchor="end" fill="#111" class="sl">ABCC1</text>
<text x="1062.4" y="64.39" font-size="7.2" text-anchor="end" fill="#111" class="sl">HSP90AA1</text>
<text x="1062.4" y="70.29" font-size="7.2" text-anchor="end" fill="#111" class="sl">PROC</text>
<text x="1062.4" y="76.19" font-size="7.2" text-anchor="end" fill="#111" class="sl">HSP90AB1</text>
<text x="1062.4" y="82.09" font-size="7.2" text-anchor="end" fill="#111" class="sl">NQO1</text>
<text x="1062.4" y="87.99" font-size="7.2" text-anchor="end" fill="#111" class="sl">CSNK1G2</text>
<text x="1062.4" y="93.99" font-size="7.2" text-anchor="end" fill="#111" class="sl">PDGFRB</text>
<text x="1062.4" y="99.89" font-size="7.2" text-anchor="end" fill="#111" class="sl">PDE4B</text>
<text x="1062.4" y="105.79" font-size="7.2" text-anchor="end" fill="#111" class="sl">TTR</text>
<text x="1062.4" y="111.79" font-size="7.2" text-anchor="end" fill="#111" class="sl">ITGAL</text>
<text x="1062.4" y="117.69" font-size="7.2" text-anchor="end" fill="#111" class="sl">SRC</text>
<text x="1062.4" y="124.29" font-size="7.2" text-anchor="end" fill="#111" class="sl">CSNK2B</text>
<text x="1062.4" y="131.49" font-size="7.2" text-anchor="end" fill="#111" class="sl">DRD3</text>
<text x="1062.4" y="139.19" font-size="7.2" text-anchor="end" fill="#111" class="sl">MAPK1</text>
<text x="1062.4" y="147.29" font-size="7.2" text-anchor="end" fill="#111" class="sl">CASP3</text>
<text x="1062.4" y="153.89" font-size="7.2" text-anchor="end" fill="#111" class="sl">MME</text>
<text x="1062.4" y="159.79" font-size="7.2" text-anchor="end" fill="#111" class="sl">GHSR</text>
<text x="1062.4" y="165.89" font-size="7.2" text-anchor="end" fill="#111" class="sl">F7</text>
<text x="1062.4" y="172.69" font-size="7.2" text-anchor="end" fill="#111" class="sl">SOD2</text>
<text x="1062.4" y="181.59" font-size="7.2" text-anchor="end" fill="#111" class="sl">PIK3CD</text>
<text x="1062.4" y="188.69" font-size="7.2" text-anchor="end" fill="#111" class="sl">CXCR4</text>
<text x="1062.4" y="194.79" font-size="7.2" text-anchor="end" fill="#111" class="sl">F10</text>
<text x="1062.4" y="201.89" font-size="7.2" text-anchor="end" fill="#111" class="sl">MDM2</text>
<text x="1062.4" y="209.29" font-size="7.2" text-anchor="end" fill="#111" class="sl">DPP4</text>
<text x="1062.4" y="216.19" font-size="7.2" text-anchor="end" fill="#111" class="sl">MIF</text>
<text x="1062.4" y="223.79" font-size="7.2" text-anchor="end" fill="#111" class="sl">CHRNA7</text>
<text x="1062.4" y="231.09" font-size="7.2" text-anchor="end" fill="#111" class="sl">HDAC4</text>
<text x="1062.4" y="237.19" font-size="7.2" text-anchor="end" fill="#111" class="sl">NFE2L2</text>
<text x="1062.4" y="244.59" font-size="7.2" text-anchor="end" fill="#111" class="sl">MET</text>
<text x="1062.4" y="251.99" font-size="7.2" text-anchor="end" fill="#111" class="sl">PPARA</text>
<text x="1062.4" y="258.59" font-size="7.2" text-anchor="end" fill="#111" class="sl">RARA</text>
<text x="1062.4" y="265.19" font-size="7.2" text-anchor="end" fill="#111" class="sl">GRIN1</text>
<text x="1062.4" y="271.99" font-size="7.2" text-anchor="end" fill="#111" class="sl">NFKB1</text>
<text x="1062.4" y="280.39" font-size="7.2" text-anchor="end" fill="#111" class="sl">ESR2</text>
<text x="1062.4" y="288.29" font-size="7.2" text-anchor="end" fill="#111" class="sl">MAPK14</text>
<text x="1062.4" y="295.59" font-size="7.2" text-anchor="end" fill="#111" class="sl">NR1H3</text>
<text x="1062.4" y="303.59" font-size="7.2" text-anchor="end" fill="#111" class="sl">STAT3</text>
<text x="1062.4" y="311.59" font-size="7.2" text-anchor="end" fill="#111" class="sl">VDR</text>
<text x="1062.4" y="318.19" font-size="7.2" text-anchor="end" fill="#111" class="sl">STAT1</text>
<text x="1062.4" y="324.99" font-size="7.2" text-anchor="end" fill="#111" class="sl">PARP1</text>
<text x="1062.4" y="332.29" font-size="7.2" text-anchor="end" fill="#111" class="sl">NAMPT</text>
<text x="1062.4" y="339.69" font-size="7.2" text-anchor="end" fill="#111" class="sl">RXRB</text>
<text x="1062.4" y="346.29" font-size="7.2" text-anchor="end" fill="#111" class="sl">HIF1A</text>
<text x="1062.4" y="354.79" font-size="7.2" text-anchor="end" fill="#111" class="sl">PIK3R1</text>
<text x="1062.4" y="362.69" font-size="7.2" text-anchor="end" fill="#111" class="sl">RORA</text>
<text x="1062.4" y="369.29" font-size="7.2" text-anchor="end" fill="#111" class="sl">NR1I2</text>
<text x="1062.4" y="375.59" font-size="7.2" text-anchor="end" fill="#111" class="sl">HEXB</text>
<text x="1062.4" y="381.89" font-size="7.2" text-anchor="end" fill="#111" class="sl">KDM1A</text>
<text x="1062.4" y="390.29" font-size="7.2" text-anchor="end" fill="#111" class="sl">HDAC2</text>
<text x="1062.4" y="398.19" font-size="7.2" text-anchor="end" fill="#111" class="sl">TOP2A</text>
<text x="1062.4" y="404.29" font-size="7.2" text-anchor="end" fill="#111" class="sl">HDAC4</text>
<text x="1062.4" y="412.79" font-size="7.2" text-anchor="end" fill="#111" class="sl">ABL1</text>
<text x="1062.4" y="422.59" font-size="7.2" text-anchor="end" fill="#111" class="sl">GSK3B</text>
<text x="1062.4" y="434.29" font-size="7.2" text-anchor="end" fill="#111" class="sl">JAK2</text>
<text x="1062.4" y="447.39" font-size="7.2" text-anchor="end" fill="#111" class="sl">KDR</text>
<text x="1062.4" y="458.89" font-size="7.2" text-anchor="end" fill="#111" class="sl">TYRO3</text>
<text x="1062.4" y="471.09" font-size="7.2" text-anchor="end" fill="#111" class="sl">IGF1R</text>
<text x="1062.4" y="483.29" font-size="7.2" text-anchor="end" fill="#111" class="sl">MTOR</text>
<text x="1062.4" y="496.59" font-size="7.2" text-anchor="end" fill="#111" class="sl">EGFR</text>
<text x="1062.4" y="508.79" font-size="7.2" text-anchor="end" fill="#111" class="sl">F2</text>
<text x="1062.4" y="518.89" font-size="7.2" text-anchor="end" fill="#111" class="sl">IGF1</text>
<text x="1062.4" y="529.09" font-size="7.2" text-anchor="end" fill="#111" class="sl">AKR1C2</text>
<text x="1062.4" y="536.59" font-size="7.2" text-anchor="end" fill="#111" class="sl">AKR1C3</text>
<text x="1062.4" y="546.29" font-size="7.2" text-anchor="end" fill="#111" class="sl">SRC</text>
<text x="1062.4" y="557.09" font-size="7.2" text-anchor="end" fill="#111" class="sl">PDPK1</text>
<text x="1062.4" y="566.59" font-size="7.2" text-anchor="end" fill="#111" class="sl">PDGFRA</text>
<text x="1062.4" y="577.19" font-size="7.2" text-anchor="end" fill="#111" class="sl">PDGFRB</text>
<rect x="1364.9" y="311.2" width="14.5" height="16.7" fill="#cf5b45"/>
<text transform="translate(1362.4 322.5) scale(0.9 1)" font-size="8.2" text-anchor="end" fill="#111" class="sl">response to xenobiotic stimulus</text>
<rect x="1364.9" y="332.4" width="14.5" height="22.1" fill="#7fbcd6"/>
<text transform="translate(1362.4 346.4) scale(0.9 1)" font-size="8.2" text-anchor="end" fill="#111" class="sl">negative regulation of apoptotic process</text>
<rect x="1364.9" y="359" width="14.5" height="34.3" fill="#4e9a84"/>
<text transform="translate(1362.4 379.1) scale(0.9 1)" font-size="8.2" text-anchor="end" fill="#111" class="sl">signal transduction</text>
<rect x="1364.9" y="397.8" width="14.5" height="25.3" fill="#525e8e"/>
<text transform="translate(1362.4 413.4) scale(0.9 1)" font-size="8.2" text-anchor="end" fill="#111" class="sl">phosphorylation</text>
<rect x="1364.9" y="427.6" width="14.5" height="10.9" fill="#e8967a"/>
<text transform="translate(1362.4 436) scale(0.9 1)" font-size="8.2" text-anchor="end" fill="#111" class="sl">learning or memory</text>
<rect x="1364.9" y="443" width="14.5" height="18" fill="#8890b8"/>
<text transform="translate(1362.4 454.95) scale(0.9 1)" font-size="8.2" text-anchor="end" fill="#111" class="sl">positive regulation of cell migration</text>
<rect x="1364.9" y="465.6" width="14.5" height="25.2" fill="#a8d8c8"/>
<text transform="translate(1362.4 481.15) scale(0.9 1)" font-size="8.2" text-anchor="end" fill="#111" class="sl">positive regulation of cell population proliferation</text>
<rect x="1364.9" y="494.9" width="14.5" height="38.8" fill="#d4e0a0"/>
<text transform="translate(1362.4 517.25) scale(0.9 1)" font-size="8.2" text-anchor="end" fill="#111" class="sl">positive regulation of transcription by RNA polymerase II</text>
<rect x="1364.9" y="538.2" width="14.5" height="16.8" fill="#7a5e48"/>
<text transform="translate(1362.4 549.55) scale(0.9 1)" font-size="8.2" text-anchor="end" fill="#111" class="sl">protein autophosphorylation</text>
<rect x="1364.9" y="559.5" width="14.5" height="18.9" fill="#b09a80"/>
<text transform="translate(1362.4 571.9) scale(0.9 1)" font-size="8.2" text-anchor="end" fill="#111" class="sl">positive regulation of phosphatidylinositol 3-kinase/protein kinase B signal transduction</text>
<defs><clipPath id="clipB"><rect x="1394.8" y="311" width="190.5" height="267.7"/></clipPath></defs>
<g clip-path="url(#clipB)">
<circle cx="1549" cy="319.4" r="5.3" fill="#0010f0"/>
<circle cx="1403.2" cy="343.3" r="6.5" fill="#0000ff"/>
<circle cx="1406.5" cy="376.3" r="9" fill="#1000e8"/>
<circle cx="1430.9" cy="410.6" r="7.3" fill="#1000e4"/>
<circle cx="1412.5" cy="432.9" r="2.5" fill="#0000ff"/>
<circle cx="1552.1" cy="452.2" r="5.5" fill="#1010e0"/>
<circle cx="1476.2" cy="478" r="7.5" fill="#600090"/>
<circle cx="1412.5" cy="514.6" r="10" fill="#800060"/>
<circle cx="1497.5" cy="546.6" r="5" fill="#a00040"/>
<circle cx="1576.5" cy="569.2" r="6" fill="#e00000"/>
</g>
<rect x="1394.8" y="311" width="190.5" height="267.7" fill="none" stroke="#222" stroke-width="1.3"/>
<line x1="1453" y1="578.7" x2="1453" y2="582.7" stroke="#222" stroke-width="1.1"/>
<text x="1453" y="595.4" font-size="12.8" text-anchor="middle" fill="#222">20</text>
<line x1="1524.2" y1="578.7" x2="1524.2" y2="582.7" stroke="#222" stroke-width="1.1"/>
<text x="1524.2" y="595.4" font-size="12.8" text-anchor="middle" fill="#222">40</text>
<text x="1490" y="614.6" font-size="16.8" text-anchor="middle" fill="#111">Gene.Ratio</text>
<defs><linearGradient id="gBR" x1="0" y1="1" x2="0" y2="0"><stop offset="0" stop-color="#0000ff"/><stop offset="0.5" stop-color="#6a0095"/><stop offset="1" stop-color="#e00000"/></linearGradient></defs>
<text x="1607.9" y="327.8" font-size="15.9" fill="#111">-log<tspan font-size="11.4" dy="5">10</tspan><tspan dy="-5">(Pvalue)</tspan></text>
<rect x="1604.6" y="334.2" width="6.2" height="117.8" fill="url(#gBR)" stroke="#222" stroke-width="0.8"/>
<line x1="1610.8" y1="335.4" x2="1614" y2="335.4" stroke="#222" stroke-width="1"/>
<text x="1617.5" y="339.7" font-size="12.2" fill="#222">10</text>
<line x1="1610.8" y1="368.5" x2="1614" y2="368.5" stroke="#222" stroke-width="1"/>
<text x="1617.5" y="372.8" font-size="12.2" fill="#222">9</text>
<line x1="1610.8" y1="402.8" x2="1614" y2="402.8" stroke="#222" stroke-width="1"/>
<text x="1617.5" y="407.1" font-size="12.2" fill="#222">8</text>
<line x1="1610.8" y1="436" x2="1614" y2="436" stroke="#222" stroke-width="1"/>
<text x="1617.5" y="440.3" font-size="12.2" fill="#222">7</text>
<text x="1625" y="446" font-size="15.7" fill="#111">Count</text>
<circle cx="1618" cy="464.8" r="2.5" fill="#000"/>
<text x="1637" y="468.8" font-size="11" fill="#222">8</text>
<circle cx="1618" cy="484.7" r="5.5" fill="#000"/>
<text x="1637" y="488.7" font-size="11" fill="#222">13</text>
<circle cx="1618" cy="505" r="7.5" fill="#000"/>
<text x="1637" y="509" font-size="11" fill="#222">18</text>
<circle cx="1618" cy="525.6" r="9" fill="#000"/>
<text x="1637" y="529.6" font-size="11" fill="#222">23</text>
<text transform="translate(2 668.5) scale(0.99 1)" font-size="62" font-family="&#39;Liberation Serif&#39;, &#39;Times New Roman&#39;, serif" fill="#000">C</text>
<g fill="none" stroke-opacity="0.42" stroke-width="1.9">
<path d="M195 674.2C334.1 674.2 334.1 1028.32 473.2 1028.32" stroke="#cd5b45"/>
<path d="M195 678.4C334.1 678.4 334.1 1028.97 473.2 1028.97" stroke="#cd5b45"/>
<path d="M195 682.5C334.1 682.5 334.1 1029.62 473.2 1029.62" stroke="#cd5b45"/>
<path d="M195 686.5C334.1 686.5 334.1 1030.27 473.2 1030.27" stroke="#cd5b45"/>
<path d="M195 687.1C334.1 687.1 334.1 1141.62 473.2 1141.62" stroke="#a8d8c8"/>
<path d="M195 690.6C334.1 690.6 334.1 1030.92 473.2 1030.92" stroke="#cd5b45"/>
<path d="M195 691.2C334.1 691.2 334.1 1200.32 473.2 1200.32" stroke="#b09a80"/>
<path d="M195 694.7C334.1 694.7 334.1 1031.57 473.2 1031.57" stroke="#cd5b45"/>
<path d="M195 695.3C334.1 695.3 334.1 1200.97 473.2 1200.97" stroke="#b09a80"/>
<path d="M195 699.2C334.1 699.2 334.1 1072.33 473.2 1072.33" stroke="#4e9a84"/>
<path d="M195 703.6C334.1 703.6 334.1 1032.22 473.2 1032.22" stroke="#cd5b45"/>
<path d="M195 708.1C334.1 708.1 334.1 1094.12 473.2 1094.12" stroke="#e8967a"/>
<path d="M195 712.3C334.1 712.3 334.1 1094.77 473.2 1094.77" stroke="#e8967a"/>
<path d="M195 712.9C334.1 712.9 334.1 1201.61 473.2 1201.61" stroke="#b09a80"/>
<path d="M195 717C334.1 717 334.1 1095.42 473.2 1095.42" stroke="#e8967a"/>
<path d="M195 721.2C334.1 721.2 334.1 1032.87 473.2 1032.87" stroke="#cd5b45"/>
<path d="M195 721.8C334.1 721.8 334.1 1202.26 473.2 1202.26" stroke="#b09a80"/>
<path d="M195 725.6C334.1 725.6 334.1 1081.12 473.2 1081.12" stroke="#505e90"/>
<path d="M195 726.2C334.1 726.2 334.1 1202.9 473.2 1202.9" stroke="#b09a80"/>
<path d="M195 730.26C334.1 730.26 334.1 1033.52 473.2 1033.52" stroke="#cd5b45"/>
<path d="M195 730.89C334.1 730.89 334.1 1064.61 473.2 1064.61" stroke="#80bcd8"/>
<path d="M195 731.51C334.1 731.51 334.1 1104.13 473.2 1104.13" stroke="#8c98bc"/>
<path d="M195 732.14C334.1 732.14 334.1 1203.55 473.2 1203.55" stroke="#b09a80"/>
<path d="M195 736.55C334.1 736.55 334.1 1034.17 473.2 1034.17" stroke="#cd5b45"/>
<path d="M195 737.25C334.1 737.25 334.1 1163.83 473.2 1163.83" stroke="#d4e0a0"/>
<path d="M195 741.67C334.1 741.67 334.1 1034.81 473.2 1034.81" stroke="#cd5b45"/>
<path d="M195 742.4C334.1 742.4 334.1 1104.78 473.2 1104.78" stroke="#8c98bc"/>
<path d="M195 743.13C334.1 743.13 334.1 1204.19 473.2 1204.19" stroke="#b09a80"/>
<path d="M195 747.45C334.1 747.45 334.1 1035.46 473.2 1035.46" stroke="#cd5b45"/>
<path d="M195 748.15C334.1 748.15 334.1 1105.43 473.2 1105.43" stroke="#8c98bc"/>
<path d="M195 752.47C334.1 752.47 334.1 1036.11 473.2 1036.11" stroke="#cd5b45"/>
<path d="M195 753.32C334.1 753.32 334.1 1106.08 473.2 1106.08" stroke="#8c98bc"/>
<path d="M195 757.9C334.1 757.9 334.1 1096.08 473.2 1096.08" stroke="#e8967a"/>
<path d="M195 762.3C334.1 762.3 334.1 1106.73 473.2 1106.73" stroke="#8c98bc"/>
<path d="M195 762.9C334.1 762.9 334.1 1142.27 473.2 1142.27" stroke="#a8d8c8"/>
<path d="M195 766.6C334.1 766.6 334.1 1107.39 473.2 1107.39" stroke="#8c98bc"/>
<path d="M195 767.2C334.1 767.2 334.1 1142.91 473.2 1142.91" stroke="#a8d8c8"/>
<path d="M195 770.9C334.1 770.9 334.1 1143.56 473.2 1143.56" stroke="#a8d8c8"/>
<path d="M195 775C334.1 775 334.1 1144.2 473.2 1144.2" stroke="#a8d8c8"/>
<path d="M195 779.55C334.1 779.55 334.1 1036.76 473.2 1036.76" stroke="#cd5b45"/>
<path d="M195 780.25C334.1 780.25 334.1 1096.72 473.2 1096.72" stroke="#e8967a"/>
<path d="M195 784.7C334.1 784.7 334.1 1144.85 473.2 1144.85" stroke="#a8d8c8"/>
<path d="M195 789.4C334.1 789.4 334.1 1173.92 473.2 1173.92" stroke="#7a5e48"/>
<path d="M195 793.6C334.1 793.6 334.1 1174.56 473.2 1174.56" stroke="#7a5e48"/>
<path d="M195 794.2C334.1 794.2 334.1 1204.84 473.2 1204.84" stroke="#b09a80"/>
<path d="M195 798.5C334.1 798.5 334.1 1037.41 473.2 1037.41" stroke="#cd5b45"/>
<path d="M195 799.1C334.1 799.1 334.1 1072.99 473.2 1072.99" stroke="#4e9a84"/>
<path d="M195 799.7C334.1 799.7 334.1 1108.04 473.2 1108.04" stroke="#8c98bc"/>
<path d="M195 800.3C334.1 800.3 334.1 1164.47 473.2 1164.47" stroke="#d4e0a0"/>
<path d="M195 800.9C334.1 800.9 334.1 1205.48 473.2 1205.48" stroke="#b09a80"/>
<path d="M195 805.2C334.1 805.2 334.1 1175.2 473.2 1175.2" stroke="#7a5e48"/>
<path d="M195 809.7C334.1 809.7 334.1 1175.84 473.2 1175.84" stroke="#7a5e48"/>
<path d="M195 810.3C334.1 810.3 334.1 1206.13 473.2 1206.13" stroke="#b09a80"/>
<path d="M195 814C334.1 814 334.1 1038.06 473.2 1038.06" stroke="#cd5b45"/>
<path d="M195 814.6C334.1 814.6 334.1 1176.48 473.2 1176.48" stroke="#7a5e48"/>
<path d="M195 819C334.1 819 334.1 1145.49 473.2 1145.49" stroke="#a8d8c8"/>
<path d="M195 819.6C334.1 819.6 334.1 1177.12 473.2 1177.12" stroke="#7a5e48"/>
<path d="M195 823.65C334.1 823.65 334.1 1065.22 473.2 1065.22" stroke="#80bcd8"/>
<path d="M195 824.35C334.1 824.35 334.1 1177.76 473.2 1177.76" stroke="#7a5e48"/>
<path d="M195 828.5C334.1 828.5 334.1 1178.4 473.2 1178.4" stroke="#7a5e48"/>
<path d="M195 832.83C334.1 832.83 334.1 1038.71 473.2 1038.71" stroke="#cd5b45"/>
<path d="M195 833.58C334.1 833.58 334.1 1179.04 473.2 1179.04" stroke="#7a5e48"/>
<path d="M195 838.12C334.1 838.12 334.1 1179.68 473.2 1179.68" stroke="#7a5e48"/>
<path d="M195 838.88C334.1 838.88 334.1 1206.77 473.2 1206.77" stroke="#b09a80"/>
<path d="M195 843.55C334.1 843.55 334.1 1081.77 473.2 1081.77" stroke="#505e90"/>
<path d="M195 844.25C334.1 844.25 334.1 1180.32 473.2 1180.32" stroke="#7a5e48"/>
<path d="M195 848.25C334.1 848.25 334.1 1082.42 473.2 1082.42" stroke="#505e90"/>
<path d="M195 848.95C334.1 848.95 334.1 1180.96 473.2 1180.96" stroke="#7a5e48"/>
<path d="M195 852.9C334.1 852.9 334.1 1181.6 473.2 1181.6" stroke="#7a5e48"/>
<path d="M195 853.5C334.1 853.5 334.1 1207.42 473.2 1207.42" stroke="#b09a80"/>
<path d="M195 857.5C334.1 857.5 334.1 1182.24 473.2 1182.24" stroke="#7a5e48"/>
<path d="M195 858.1C334.1 858.1 334.1 1208.06 473.2 1208.06" stroke="#b09a80"/>
<path d="M195 861.6C334.1 861.6 334.1 1182.88 473.2 1182.88" stroke="#7a5e48"/>
<path d="M195 862.2C334.1 862.2 334.1 1208.71 473.2 1208.71" stroke="#b09a80"/>
<path d="M195 866.07C334.1 866.07 334.1 1065.83 473.2 1065.83" stroke="#80bcd8"/>
<path d="M195 866.8C334.1 866.8 334.1 1108.69 473.2 1108.69" stroke="#8c98bc"/>
<path d="M195 867.53C334.1 867.53 334.1 1209.35 473.2 1209.35" stroke="#b09a80"/>
<path d="M195 871.52C334.1 871.52 334.1 1146.14 473.2 1146.14" stroke="#a8d8c8"/>
<path d="M195 872.27C334.1 872.27 334.1 1183.52 473.2 1183.52" stroke="#7a5e48"/>
<path d="M195 876.62C334.1 876.62 334.1 1083.06 473.2 1083.06" stroke="#505e90"/>
<path d="M195 877.38C334.1 877.38 334.1 1184.16 473.2 1184.16" stroke="#7a5e48"/>
<path d="M195 881.67C334.1 881.67 334.1 1109.34 473.2 1109.34" stroke="#8c98bc"/>
<path d="M195 882.4C334.1 882.4 334.1 1165.12 473.2 1165.12" stroke="#d4e0a0"/>
<path d="M195 883.13C334.1 883.13 334.1 1210 473.2 1210" stroke="#b09a80"/>
<path d="M195 887.55C334.1 887.55 334.1 1184.8 473.2 1184.8" stroke="#7a5e48"/>
<path d="M195 888.25C334.1 888.25 334.1 1210.64 473.2 1210.64" stroke="#b09a80"/>
<path d="M195 892.43C334.1 892.43 334.1 1083.71 473.2 1083.71" stroke="#505e90"/>
<path d="M195 893.08C334.1 893.08 334.1 1109.99 473.2 1109.99" stroke="#8c98bc"/>
<path d="M195 893.73C334.1 893.73 334.1 1146.78 473.2 1146.78" stroke="#a8d8c8"/>
<path d="M195 894.38C334.1 894.38 334.1 1211.29 473.2 1211.29" stroke="#b09a80"/>
<path d="M195 898.57C334.1 898.57 334.1 1066.44 473.2 1066.44" stroke="#80bcd8"/>
<path d="M195 899.3C334.1 899.3 334.1 1073.66 473.2 1073.66" stroke="#4e9a84"/>
<path d="M195 900.03C334.1 900.03 334.1 1185.44 473.2 1185.44" stroke="#7a5e48"/>
<path d="M195 904.45C334.1 904.45 334.1 1039.36 473.2 1039.36" stroke="#cd5b45"/>
<path d="M195 905.15C334.1 905.15 334.1 1067.06 473.2 1067.06" stroke="#80bcd8"/>
<path d="M195 909.37C334.1 909.37 334.1 1110.65 473.2 1110.65" stroke="#8c98bc"/>
<path d="M195 910.22C334.1 910.22 334.1 1186.08 473.2 1186.08" stroke="#7a5e48"/>
<path d="M195 914.65C334.1 914.65 334.1 1147.43 473.2 1147.43" stroke="#a8d8c8"/>
<path d="M195 915.35C334.1 915.35 334.1 1186.72 473.2 1186.72" stroke="#7a5e48"/>
<path d="M195 919.8C334.1 919.8 334.1 1040.01 473.2 1040.01" stroke="#cd5b45"/>
<path d="M195 920.4C334.1 920.4 334.1 1165.78 473.2 1165.78" stroke="#d4e0a0"/>
<path d="M195 924.66C334.1 924.66 334.1 1074.32 473.2 1074.32" stroke="#4e9a84"/>
<path d="M195 925.28C334.1 925.28 334.1 1111.3 473.2 1111.3" stroke="#8c98bc"/>
<path d="M195 925.9C334.1 925.9 334.1 1148.07 473.2 1148.07" stroke="#a8d8c8"/>
<path d="M195 926.52C334.1 926.52 334.1 1187.36 473.2 1187.36" stroke="#7a5e48"/>
<path d="M195 927.14C334.1 927.14 334.1 1211.93 473.2 1211.93" stroke="#b09a80"/>
<path d="M195 931.73C334.1 931.73 334.1 1111.95 473.2 1111.95" stroke="#8c98bc"/>
<path d="M195 932.48C334.1 932.48 334.1 1148.72 473.2 1148.72" stroke="#a8d8c8"/>
<path d="M195 936.96C334.1 936.96 334.1 1040.66 473.2 1040.66" stroke="#cd5b45"/>
<path d="M195 937.58C334.1 937.58 334.1 1112.6 473.2 1112.6" stroke="#8c98bc"/>
<path d="M195 938.2C334.1 938.2 334.1 1149.36 473.2 1149.36" stroke="#a8d8c8"/>
<path d="M195 938.82C334.1 938.82 334.1 1188 473.2 1188" stroke="#7a5e48"/>
<path d="M195 939.44C334.1 939.44 334.1 1212.58 473.2 1212.58" stroke="#b09a80"/>
<path d="M195 943.5C334.1 943.5 334.1 1067.67 473.2 1067.67" stroke="#80bcd8"/>
<path d="M195 944.1C334.1 944.1 334.1 1213.22 473.2 1213.22" stroke="#b09a80"/>
<path d="M195 948C334.1 948 334.1 1041.3 473.2 1041.3" stroke="#cd5b45"/>
<path d="M195 948.6C334.1 948.6 334.1 1074.98 473.2 1074.98" stroke="#4e9a84"/>
<path d="M195 949.2C334.1 949.2 334.1 1166.42 473.2 1166.42" stroke="#d4e0a0"/>
<path d="M195 949.8C334.1 949.8 334.1 1188.64 473.2 1188.64" stroke="#7a5e48"/>
<path d="M195 950.4C334.1 950.4 334.1 1213.87 473.2 1213.87" stroke="#b09a80"/>
<path d="M195 954.83C334.1 954.83 334.1 1113.25 473.2 1113.25" stroke="#8c98bc"/>
<path d="M195 955.5C334.1 955.5 334.1 1167.08 473.2 1167.08" stroke="#d4e0a0"/>
<path d="M195 956.17C334.1 956.17 334.1 1189.28 473.2 1189.28" stroke="#7a5e48"/>
<path d="M195 960.43C334.1 960.43 334.1 1041.95 473.2 1041.95" stroke="#cd5b45"/>
<path d="M195 961.1C334.1 961.1 334.1 1113.9 473.2 1113.9" stroke="#8c98bc"/>
<path d="M195 961.77C334.1 961.77 334.1 1214.51 473.2 1214.51" stroke="#b09a80"/>
<path d="M195 966.8C334.1 966.8 334.1 1042.6 473.2 1042.6" stroke="#cd5b45"/>
<path d="M195 971.53C334.1 971.53 334.1 1043.25 473.2 1043.25" stroke="#cd5b45"/>
<path d="M195 972.18C334.1 972.18 334.1 1114.56 473.2 1114.56" stroke="#8c98bc"/>
<path d="M195 972.83C334.1 972.83 334.1 1189.92 473.2 1189.92" stroke="#7a5e48"/>
<path d="M195 973.48C334.1 973.48 334.1 1215.16 473.2 1215.16" stroke="#b09a80"/>
<path d="M195 977.76C334.1 977.76 334.1 1043.9 473.2 1043.9" stroke="#cd5b45"/>
<path d="M195 978.38C334.1 978.38 334.1 1115.21 473.2 1115.21" stroke="#8c98bc"/>
<path d="M195 979C334.1 979 334.1 1167.72 473.2 1167.72" stroke="#d4e0a0"/>
<path d="M195 979.62C334.1 979.62 334.1 1190.56 473.2 1190.56" stroke="#7a5e48"/>
<path d="M195 980.24C334.1 980.24 334.1 1215.8 473.2 1215.8" stroke="#b09a80"/>
<path d="M195 984.4C334.1 984.4 334.1 1115.86 473.2 1115.86" stroke="#8c98bc"/>
<path d="M195 985C334.1 985 334.1 1216.45 473.2 1216.45" stroke="#b09a80"/>
<path d="M195 989.5C334.1 989.5 334.1 1116.51 473.2 1116.51" stroke="#8c98bc"/>
<path d="M195 990.1C334.1 990.1 334.1 1217.09 473.2 1217.09" stroke="#b09a80"/>
<path d="M195 994.9C334.1 994.9 334.1 1044.55 473.2 1044.55" stroke="#cd5b45"/>
<path d="M195 999.7C334.1 999.7 334.1 1117.16 473.2 1117.16" stroke="#8c98bc"/>
<path d="M195 1000.3C334.1 1000.3 334.1 1150.01 473.2 1150.01" stroke="#a8d8c8"/>
<path d="M195 1000.9C334.1 1000.9 334.1 1217.74 473.2 1217.74" stroke="#b09a80"/>
<path d="M195 1005.4C334.1 1005.4 334.1 1045.2 473.2 1045.2" stroke="#cd5b45"/>
<path d="M195 1006C334.1 1006 334.1 1084.36 473.2 1084.36" stroke="#505e90"/>
<path d="M195 1006.6C334.1 1006.6 334.1 1218.38 473.2 1218.38" stroke="#b09a80"/>
<path d="M195 1011.1C334.1 1011.1 334.1 1117.82 473.2 1117.82" stroke="#8c98bc"/>
<path d="M195 1011.7C334.1 1011.7 334.1 1191.2 473.2 1191.2" stroke="#7a5e48"/>
<path d="M195 1012.3C334.1 1012.3 334.1 1219.03 473.2 1219.03" stroke="#b09a80"/>
<path d="M195 1016.42C334.1 1016.42 334.1 1045.85 473.2 1045.85" stroke="#cd5b45"/>
<path d="M195 1017.05C334.1 1017.05 334.1 1085 473.2 1085" stroke="#505e90"/>
<path d="M195 1017.68C334.1 1017.68 334.1 1118.47 473.2 1118.47" stroke="#8c98bc"/>
<path d="M195 1018.32C334.1 1018.32 334.1 1150.65 473.2 1150.65" stroke="#a8d8c8"/>
<path d="M195 1018.95C334.1 1018.95 334.1 1191.84 473.2 1191.84" stroke="#7a5e48"/>
<path d="M195 1019.58C334.1 1019.58 334.1 1219.67 473.2 1219.67" stroke="#b09a80"/>
<path d="M195 1023.17C334.1 1023.17 334.1 1046.5 473.2 1046.5" stroke="#cd5b45"/>
<path d="M195 1023.9C334.1 1023.9 334.1 1119.12 473.2 1119.12" stroke="#8c98bc"/>
<path d="M195 1024.63C334.1 1024.63 334.1 1220.32 473.2 1220.32" stroke="#b09a80"/>
<path d="M195 1029.07C334.1 1029.07 334.1 1119.77 473.2 1119.77" stroke="#8c98bc"/>
<path d="M195 1029.8C334.1 1029.8 334.1 1192.48 473.2 1192.48" stroke="#7a5e48"/>
<path d="M195 1030.53C334.1 1030.53 334.1 1220.96 473.2 1220.96" stroke="#b09a80"/>
<path d="M195 1034.85C334.1 1034.85 334.1 1047.15 473.2 1047.15" stroke="#cd5b45"/>
<path d="M195 1035.55C334.1 1035.55 334.1 1085.65 473.2 1085.65" stroke="#505e90"/>
<path d="M195 1036.25C334.1 1036.25 334.1 1120.42 473.2 1120.42" stroke="#8c98bc"/>
<path d="M195 1036.95C334.1 1036.95 334.1 1151.29 473.2 1151.29" stroke="#a8d8c8"/>
<path d="M195 1041.2C334.1 1041.2 334.1 1121.08 473.2 1121.08" stroke="#8c98bc"/>
<path d="M195 1045.75C334.1 1045.75 334.1 1047.8 473.2 1047.8" stroke="#cd5b45"/>
<path d="M195 1046.45C334.1 1046.45 334.1 1221.61 473.2 1221.61" stroke="#b09a80"/>
<path d="M195 1050.65C334.1 1050.65 334.1 1048.44 473.2 1048.44" stroke="#cd5b45"/>
<path d="M195 1051.35C334.1 1051.35 334.1 1097.38 473.2 1097.38" stroke="#e8967a"/>
<path d="M195 1052.05C334.1 1052.05 334.1 1168.38 473.2 1168.38" stroke="#d4e0a0"/>
<path d="M195 1052.75C334.1 1052.75 334.1 1222.25 473.2 1222.25" stroke="#b09a80"/>
<path d="M195 1057.2C334.1 1057.2 334.1 1049.09 473.2 1049.09" stroke="#cd5b45"/>
<path d="M195 1057.8C334.1 1057.8 334.1 1075.64 473.2 1075.64" stroke="#4e9a84"/>
<path d="M195 1058.4C334.1 1058.4 334.1 1222.9 473.2 1222.9" stroke="#b09a80"/>
<path d="M195 1062.57C334.1 1062.57 334.1 1049.74 473.2 1049.74" stroke="#cd5b45"/>
<path d="M195 1063.3C334.1 1063.3 334.1 1121.73 473.2 1121.73" stroke="#8c98bc"/>
<path d="M195 1064.03C334.1 1064.03 334.1 1223.54 473.2 1223.54" stroke="#b09a80"/>
<path d="M195 1068.4C334.1 1068.4 334.1 1122.38 473.2 1122.38" stroke="#8c98bc"/>
<path d="M195 1072.9C334.1 1072.9 334.1 1224.19 473.2 1224.19" stroke="#b09a80"/>
<path d="M195 1076.77C334.1 1076.77 334.1 1050.39 473.2 1050.39" stroke="#cd5b45"/>
<path d="M195 1077.5C334.1 1077.5 334.1 1123.03 473.2 1123.03" stroke="#8c98bc"/>
<path d="M195 1078.23C334.1 1078.23 334.1 1151.94 473.2 1151.94" stroke="#a8d8c8"/>
<path d="M195 1082.05C334.1 1082.05 334.1 1123.68 473.2 1123.68" stroke="#8c98bc"/>
<path d="M195 1082.75C334.1 1082.75 334.1 1224.83 473.2 1224.83" stroke="#b09a80"/>
<path d="M195 1086.9C334.1 1086.9 334.1 1051.04 473.2 1051.04" stroke="#cd5b45"/>
<path d="M195 1087.5C334.1 1087.5 334.1 1124.34 473.2 1124.34" stroke="#8c98bc"/>
<path d="M195 1088.1C334.1 1088.1 334.1 1225.48 473.2 1225.48" stroke="#b09a80"/>
<path d="M195 1092.4C334.1 1092.4 334.1 1124.99 473.2 1124.99" stroke="#8c98bc"/>
<path d="M195 1096.66C334.1 1096.66 334.1 1051.69 473.2 1051.69" stroke="#cd5b45"/>
<path d="M195 1097.28C334.1 1097.28 334.1 1068.28 473.2 1068.28" stroke="#80bcd8"/>
<path d="M195 1097.9C334.1 1097.9 334.1 1125.64 473.2 1125.64" stroke="#8c98bc"/>
<path d="M195 1098.52C334.1 1098.52 334.1 1193.12 473.2 1193.12" stroke="#7a5e48"/>
<path d="M195 1099.14C334.1 1099.14 334.1 1226.12 473.2 1226.12" stroke="#b09a80"/>
<path d="M195 1103.07C334.1 1103.07 334.1 1052.34 473.2 1052.34" stroke="#cd5b45"/>
<path d="M195 1103.71C334.1 1103.71 334.1 1086.3 473.2 1086.3" stroke="#505e90"/>
<path d="M195 1104.36C334.1 1104.36 334.1 1126.29 473.2 1126.29" stroke="#8c98bc"/>
<path d="M195 1105C334.1 1105 334.1 1152.58 473.2 1152.58" stroke="#a8d8c8"/>
<path d="M195 1105.64C334.1 1105.64 334.1 1169.03 473.2 1169.03" stroke="#d4e0a0"/>
<path d="M195 1106.29C334.1 1106.29 334.1 1193.76 473.2 1193.76" stroke="#7a5e48"/>
<path d="M195 1106.93C334.1 1106.93 334.1 1226.77 473.2 1226.77" stroke="#b09a80"/>
<path d="M195 1111.1C334.1 1111.1 334.1 1052.99 473.2 1052.99" stroke="#cd5b45"/>
<path d="M195 1111.7C334.1 1111.7 334.1 1153.23 473.2 1153.23" stroke="#a8d8c8"/>
<path d="M195 1112.3C334.1 1112.3 334.1 1227.41 473.2 1227.41" stroke="#b09a80"/>
<path d="M195 1116.67C334.1 1116.67 334.1 1053.64 473.2 1053.64" stroke="#cd5b45"/>
<path d="M195 1117.4C334.1 1117.4 334.1 1086.94 473.2 1086.94" stroke="#505e90"/>
<path d="M195 1118.13C334.1 1118.13 334.1 1126.94 473.2 1126.94" stroke="#8c98bc"/>
<path d="M195 1122.4C334.1 1122.4 334.1 1087.59 473.2 1087.59" stroke="#505e90"/>
<path d="M195 1123C334.1 1123 334.1 1098.02 473.2 1098.02" stroke="#e8967a"/>
<path d="M195 1123.6C334.1 1123.6 334.1 1127.6 473.2 1127.6" stroke="#8c98bc"/>
<path d="M195 1124.2C334.1 1124.2 334.1 1153.87 473.2 1153.87" stroke="#a8d8c8"/>
<path d="M195 1124.8C334.1 1124.8 334.1 1194.4 473.2 1194.4" stroke="#7a5e48"/>
<path d="M195 1125.4C334.1 1125.4 334.1 1228.06 473.2 1228.06" stroke="#b09a80"/>
<path d="M195 1129.85C334.1 1129.85 334.1 1128.25 473.2 1128.25" stroke="#8c98bc"/>
<path d="M195 1130.55C334.1 1130.55 334.1 1228.7 473.2 1228.7" stroke="#b09a80"/>
<path d="M195 1134.6C334.1 1134.6 334.1 1054.29 473.2 1054.29" stroke="#cd5b45"/>
<path d="M195 1135.2C334.1 1135.2 334.1 1128.9 473.2 1128.9" stroke="#8c98bc"/>
<path d="M195 1135.8C334.1 1135.8 334.1 1154.52 473.2 1154.52" stroke="#a8d8c8"/>
<path d="M195 1139.75C334.1 1139.75 334.1 1155.16 473.2 1155.16" stroke="#a8d8c8"/>
<path d="M195 1140.45C334.1 1140.45 334.1 1229.35 473.2 1229.35" stroke="#b09a80"/>
<path d="M195 1144.23C334.1 1144.23 334.1 1054.93 473.2 1054.93" stroke="#cd5b45"/>
<path d="M195 1144.88C334.1 1144.88 334.1 1129.55 473.2 1129.55" stroke="#8c98bc"/>
<path d="M195 1145.53C334.1 1145.53 334.1 1155.81 473.2 1155.81" stroke="#a8d8c8"/>
<path d="M195 1146.18C334.1 1146.18 334.1 1229.99 473.2 1229.99" stroke="#b09a80"/>
<path d="M195 1149.9C334.1 1149.9 334.1 1055.58 473.2 1055.58" stroke="#cd5b45"/>
<path d="M195 1150.5C334.1 1150.5 334.1 1130.2 473.2 1130.2" stroke="#8c98bc"/>
<path d="M195 1151.1C334.1 1151.1 334.1 1156.45 473.2 1156.45" stroke="#a8d8c8"/>
<path d="M195 1155.4C334.1 1155.4 334.1 1130.85 473.2 1130.85" stroke="#8c98bc"/>
<path d="M195 1156C334.1 1156 334.1 1157.1 473.2 1157.1" stroke="#a8d8c8"/>
<path d="M195 1156.6C334.1 1156.6 334.1 1230.64 473.2 1230.64" stroke="#b09a80"/>
<path d="M195 1160.45C334.1 1160.45 334.1 1056.23 473.2 1056.23" stroke="#cd5b45"/>
<path d="M195 1161.15C334.1 1161.15 334.1 1157.74 473.2 1157.74" stroke="#a8d8c8"/>
<path d="M195 1164.87C334.1 1164.87 334.1 1056.88 473.2 1056.88" stroke="#cd5b45"/>
<path d="M195 1165.51C334.1 1165.51 334.1 1076.31 473.2 1076.31" stroke="#4e9a84"/>
<path d="M195 1166.14C334.1 1166.14 334.1 1088.24 473.2 1088.24" stroke="#505e90"/>
<path d="M195 1166.78C334.1 1166.78 334.1 1098.67 473.2 1098.67" stroke="#e8967a"/>
<path d="M195 1167.42C334.1 1167.42 334.1 1131.51 473.2 1131.51" stroke="#8c98bc"/>
<path d="M195 1168.06C334.1 1168.06 334.1 1158.39 473.2 1158.39" stroke="#a8d8c8"/>
<path d="M195 1168.69C334.1 1168.69 334.1 1195.04 473.2 1195.04" stroke="#7a5e48"/>
<path d="M195 1169.33C334.1 1169.33 334.1 1231.28 473.2 1231.28" stroke="#b09a80"/>
<path d="M195 1173.55C334.1 1173.55 334.1 1057.53 473.2 1057.53" stroke="#cd5b45"/>
<path d="M195 1174.25C334.1 1174.25 334.1 1231.93 473.2 1231.93" stroke="#b09a80"/>
<path d="M195 1178.3C334.1 1178.3 334.1 1132.16 473.2 1132.16" stroke="#8c98bc"/>
<path d="M195 1178.9C334.1 1178.9 334.1 1159.03 473.2 1159.03" stroke="#a8d8c8"/>
<path d="M195 1179.5C334.1 1179.5 334.1 1232.57 473.2 1232.57" stroke="#b09a80"/>
<path d="M195 1183.4C334.1 1183.4 334.1 1099.33 473.2 1099.33" stroke="#e8967a"/>
<path d="M195 1184C334.1 1184 334.1 1132.81 473.2 1132.81" stroke="#8c98bc"/>
<path d="M195 1184.6C334.1 1184.6 334.1 1233.22 473.2 1233.22" stroke="#b09a80"/>
<path d="M195 1188.5C334.1 1188.5 334.1 1058.18 473.2 1058.18" stroke="#cd5b45"/>
<path d="M195 1189.1C334.1 1189.1 334.1 1133.46 473.2 1133.46" stroke="#8c98bc"/>
<path d="M195 1189.7C334.1 1189.7 334.1 1233.86 473.2 1233.86" stroke="#b09a80"/>
<path d="M195 1194.05C334.1 1194.05 334.1 1088.88 473.2 1088.88" stroke="#505e90"/>
<path d="M195 1194.75C334.1 1194.75 334.1 1234.51 473.2 1234.51" stroke="#b09a80"/>
<path d="M195 1199.1C334.1 1199.1 334.1 1058.83 473.2 1058.83" stroke="#cd5b45"/>
<path d="M195 1199.7C334.1 1199.7 334.1 1134.11 473.2 1134.11" stroke="#8c98bc"/>
<path d="M195 1203.7C334.1 1203.7 334.1 1089.53 473.2 1089.53" stroke="#505e90"/>
<path d="M195 1204.3C334.1 1204.3 334.1 1134.77 473.2 1134.77" stroke="#8c98bc"/>
<path d="M195 1204.9C334.1 1204.9 334.1 1235.15 473.2 1235.15" stroke="#b09a80"/>
<path d="M195 1209.07C334.1 1209.07 334.1 1135.42 473.2 1135.42" stroke="#8c98bc"/>
<path d="M195 1209.8C334.1 1209.8 334.1 1169.67 473.2 1169.67" stroke="#d4e0a0"/>
<path d="M195 1210.53C334.1 1210.53 334.1 1235.8 473.2 1235.8" stroke="#b09a80"/>
<path d="M195 1215.1C334.1 1215.1 334.1 1059.48 473.2 1059.48" stroke="#cd5b45"/>
<path d="M195 1219.8C334.1 1219.8 334.1 1076.97 473.2 1076.97" stroke="#4e9a84"/>
<path d="M195 1220.4C334.1 1220.4 334.1 1136.07 473.2 1136.07" stroke="#8c98bc"/>
<path d="M195 1221C334.1 1221 334.1 1236.44 473.2 1236.44" stroke="#b09a80"/>
<path d="M195 1224.4C334.1 1224.4 334.1 1060.13 473.2 1060.13" stroke="#cd5b45"/>
<path d="M195 1225C334.1 1225 334.1 1068.89 473.2 1068.89" stroke="#80bcd8"/>
<path d="M195 1225.6C334.1 1225.6 334.1 1090.18 473.2 1090.18" stroke="#505e90"/>
<path d="M195 1226.2C334.1 1226.2 334.1 1099.97 473.2 1099.97" stroke="#e8967a"/>
<path d="M195 1226.8C334.1 1226.8 334.1 1136.72 473.2 1136.72" stroke="#8c98bc"/>
<path d="M195 1227.4C334.1 1227.4 334.1 1159.68 473.2 1159.68" stroke="#a8d8c8"/>
<path d="M195 1228C334.1 1228 334.1 1195.68 473.2 1195.68" stroke="#7a5e48"/>
<path d="M195 1228.6C334.1 1228.6 334.1 1237.09 473.2 1237.09" stroke="#b09a80"/>
<path d="M195 1232.6C334.1 1232.6 334.1 1060.78 473.2 1060.78" stroke="#cd5b45"/>
<path d="M195 1233.2C334.1 1233.2 334.1 1137.37 473.2 1137.37" stroke="#8c98bc"/>
<path d="M195 1233.8C334.1 1233.8 334.1 1237.73 473.2 1237.73" stroke="#b09a80"/>
<path d="M195 1238.3C334.1 1238.3 334.1 1238.38 473.2 1238.38" stroke="#b09a80"/>
</g>
<rect x="181.2" y="673.75" width="13.8" height="0.9" fill="#70b050"/>
<rect x="181.2" y="677.95" width="13.8" height="0.9" fill="#b8dce8"/>
<rect x="181.2" y="682.05" width="13.8" height="0.9" fill="#d03040"/>
<rect x="181.2" y="686.2" width="13.8" height="1.2" fill="#f8c088"/>
<rect x="181.2" y="690.3" width="13.8" height="1.2" fill="#90e0e0"/>
<rect x="181.2" y="694.4" width="13.8" height="1.2" fill="#fff0c8"/>
<rect x="181.2" y="698.75" width="13.8" height="0.9" fill="#507068"/>
<rect x="181.2" y="703.15" width="13.8" height="0.9" fill="#e0e0e0"/>
<rect x="181.2" y="707.7" width="13.8" height="0.8" fill="#e8e8e8"/>
<rect x="181.2" y="712" width="13.8" height="1.2" fill="#c0a890"/>
<rect x="181.2" y="716.55" width="13.8" height="0.9" fill="#6080f8"/>
<rect x="181.2" y="720.9" width="13.8" height="1.2" fill="#206010"/>
<rect x="181.2" y="725.3" width="13.8" height="1.2" fill="#f8e8c8"/>
<rect x="181.2" y="729.95" width="13.8" height="2.5" fill="#4888f8"/>
<rect x="181.2" y="736.2" width="13.8" height="1.4" fill="#7060e8"/>
<rect x="181.2" y="741.3" width="13.8" height="2.2" fill="#b89088"/>
<rect x="181.2" y="747.1" width="13.8" height="1.4" fill="#1010d0"/>
<rect x="181.2" y="752.05" width="13.8" height="1.7" fill="#b0b020"/>
<rect x="181.2" y="757.45" width="13.8" height="0.9" fill="#fffaf0"/>
<rect x="181.2" y="762" width="13.8" height="1.2" fill="#90f840"/>
<rect x="181.2" y="766.3" width="13.8" height="1.2" fill="#90d0e0"/>
<rect x="181.2" y="770.45" width="13.8" height="0.9" fill="#ececec"/>
<rect x="181.2" y="774.6" width="13.8" height="0.8" fill="#fffcf4"/>
<rect x="181.2" y="779.2" width="13.8" height="1.4" fill="#e87010"/>
<rect x="181.2" y="784.25" width="13.8" height="0.9" fill="#b0d8e8"/>
<rect x="181.2" y="788.95" width="13.8" height="0.9" fill="#f4fff4"/>
<rect x="181.2" y="793.3" width="13.8" height="1.2" fill="#306820"/>
<rect x="181.2" y="798.2" width="13.8" height="3" fill="#e8b0d0"/>
<rect x="181.2" y="804.75" width="13.8" height="0.9" fill="#d050c0"/>
<rect x="181.2" y="809.4" width="13.8" height="1.2" fill="#d0e8f0"/>
<rect x="181.2" y="813.7" width="13.8" height="1.2" fill="#c01818"/>
<rect x="181.2" y="818.7" width="13.8" height="1.2" fill="#8050c0"/>
<rect x="181.2" y="823.3" width="13.8" height="1.4" fill="#60a040"/>
<rect x="181.2" y="828.1" width="13.8" height="0.8" fill="#a8f898"/>
<rect x="181.2" y="832.45" width="13.8" height="1.5" fill="#204040"/>
<rect x="181.2" y="837.75" width="13.8" height="1.5" fill="#ffe8f0"/>
<rect x="181.2" y="843.2" width="13.8" height="1.4" fill="#90c0e8"/>
<rect x="181.2" y="847.9" width="13.8" height="1.4" fill="#70f020"/>
<rect x="181.2" y="852.6" width="13.8" height="1.2" fill="#f8e0c0"/>
<rect x="181.2" y="857.2" width="13.8" height="1.2" fill="#f0b8d8"/>
<rect x="181.2" y="861.3" width="13.8" height="1.2" fill="#9080f8"/>
<rect x="181.2" y="865.7" width="13.8" height="2.2" fill="#f0ffff"/>
<rect x="181.2" y="871.15" width="13.8" height="1.5" fill="#70f8f8"/>
<rect x="181.2" y="876.25" width="13.8" height="1.5" fill="#804838"/>
<rect x="181.2" y="881.3" width="13.8" height="2.2" fill="#b0a860"/>
<rect x="181.2" y="887.2" width="13.8" height="1.4" fill="#f8dcb0"/>
<rect x="181.2" y="892.1" width="13.8" height="2.6" fill="#f0d020"/>
<rect x="181.2" y="898.2" width="13.8" height="2.2" fill="#6090e8"/>
<rect x="181.2" y="904.1" width="13.8" height="1.4" fill="#a0f080"/>
<rect x="181.2" y="908.95" width="13.8" height="1.7" fill="#c8e8f8"/>
<rect x="181.2" y="914.3" width="13.8" height="1.4" fill="#5040e8"/>
<rect x="181.2" y="919.5" width="13.8" height="1.2" fill="#fce8dc"/>
<rect x="181.2" y="924.35" width="13.8" height="3.1" fill="#fff4c0"/>
<rect x="181.2" y="931.35" width="13.8" height="1.5" fill="#90d870"/>
<rect x="181.2" y="936.65" width="13.8" height="3.1" fill="#a040d8"/>
<rect x="181.2" y="943.2" width="13.8" height="1.2" fill="#a8d870"/>
<rect x="181.2" y="947.7" width="13.8" height="3" fill="#f0ffff"/>
<rect x="181.2" y="954.5" width="13.8" height="2" fill="#a8c0e8"/>
<rect x="181.2" y="960.1" width="13.8" height="2" fill="#a02060"/>
<rect x="181.2" y="966.3" width="13.8" height="1" fill="#f09090"/>
<rect x="181.2" y="971.2" width="13.8" height="2.6" fill="#409050"/>
<rect x="181.2" y="977.45" width="13.8" height="3.1" fill="#b8d8e0"/>
<rect x="181.2" y="984.1" width="13.8" height="1.2" fill="#804010"/>
<rect x="181.2" y="989.2" width="13.8" height="1.2" fill="#c0a8e0"/>
<rect x="181.2" y="994.4" width="13.8" height="1" fill="#c0d0f0"/>
<rect x="181.2" y="999.4" width="13.8" height="1.8" fill="#80f080"/>
<rect x="181.2" y="1005.1" width="13.8" height="1.8" fill="#c06020"/>
<rect x="181.2" y="1010.8" width="13.8" height="1.8" fill="#b08080"/>
<rect x="181.2" y="1016.1" width="13.8" height="3.8" fill="#80ffff"/>
<rect x="181.2" y="1022.8" width="13.8" height="2.2" fill="#60b8d0"/>
<rect x="181.2" y="1028.7" width="13.8" height="2.2" fill="#f020f0"/>
<rect x="181.2" y="1034.5" width="13.8" height="2.8" fill="#f8dcc0"/>
<rect x="181.2" y="1040.7" width="13.8" height="1" fill="#50a0a0"/>
<rect x="181.2" y="1045.4" width="13.8" height="1.4" fill="#50b0f0"/>
<rect x="181.2" y="1050.3" width="13.8" height="2.8" fill="#e8a020"/>
<rect x="181.2" y="1056.9" width="13.8" height="1.8" fill="#e05040"/>
<rect x="181.2" y="1062.2" width="13.8" height="2.2" fill="#909090"/>
<rect x="181.2" y="1067.9" width="13.8" height="1" fill="#80d8e0"/>
<rect x="181.2" y="1072.4" width="13.8" height="1" fill="#f8b0b0"/>
<rect x="181.2" y="1076.4" width="13.8" height="2.2" fill="#ffff20"/>
<rect x="181.2" y="1081.7" width="13.8" height="1.4" fill="#b8b060"/>
<rect x="181.2" y="1086.6" width="13.8" height="1.8" fill="#c0a0e0"/>
<rect x="181.2" y="1091.9" width="13.8" height="1" fill="#9060e0"/>
<rect x="181.2" y="1096.35" width="13.8" height="3.1" fill="#e01890"/>
<rect x="181.2" y="1102.75" width="13.8" height="4.5" fill="#101080"/>
<rect x="181.2" y="1110.8" width="13.8" height="1.8" fill="#f0b060"/>
<rect x="181.2" y="1116.3" width="13.8" height="2.2" fill="#60a0a0"/>
<rect x="181.2" y="1122.1" width="13.8" height="3.6" fill="#d070c8"/>
<rect x="181.2" y="1129.5" width="13.8" height="1.4" fill="#3060c0"/>
<rect x="181.2" y="1134.3" width="13.8" height="1.8" fill="#a0c830"/>
<rect x="181.2" y="1139.4" width="13.8" height="1.4" fill="#80a0f8"/>
<rect x="181.2" y="1143.9" width="13.8" height="2.6" fill="#80f080"/>
<rect x="181.2" y="1149.6" width="13.8" height="1.8" fill="#e0e0e0"/>
<rect x="181.2" y="1155.1" width="13.8" height="1.8" fill="#803020"/>
<rect x="181.2" y="1160.1" width="13.8" height="1.4" fill="#80b0f8"/>
<rect x="181.2" y="1164.55" width="13.8" height="5.1" fill="#e0d890"/>
<rect x="181.2" y="1173.2" width="13.8" height="1.4" fill="#409050"/>
<rect x="181.2" y="1178" width="13.8" height="1.8" fill="#d8e070"/>
<rect x="181.2" y="1183.1" width="13.8" height="1.8" fill="#a030f0"/>
<rect x="181.2" y="1188.2" width="13.8" height="1.8" fill="#c0b020"/>
<rect x="181.2" y="1193.7" width="13.8" height="1.4" fill="#c08080"/>
<rect x="181.2" y="1198.8" width="13.8" height="1.2" fill="#2020d0"/>
<rect x="181.2" y="1203.4" width="13.8" height="1.8" fill="#101090"/>
<rect x="181.2" y="1208.7" width="13.8" height="2.2" fill="#e87010"/>
<rect x="181.2" y="1214.7" width="13.8" height="0.8" fill="#909090"/>
<rect x="181.2" y="1219.5" width="13.8" height="1.8" fill="#70f090"/>
<rect x="181.2" y="1224.1" width="13.8" height="4.8" fill="#b0e090"/>
<rect x="181.2" y="1232.3" width="13.8" height="1.8" fill="#90c8f0"/>
<rect x="181.2" y="1237.9" width="13.8" height="0.8" fill="#3060c0"/>
<text x="178.9" y="676.22" font-size="5.6" text-anchor="end" fill="#111" class="sl">ESR2</text>
<text x="178.9" y="680.42" font-size="5.6" text-anchor="end" fill="#111" class="sl">NR1I2</text>
<text x="178.9" y="684.52" font-size="5.6" text-anchor="end" fill="#111" class="sl">FKBP5</text>
<text x="178.9" y="688.82" font-size="5.6" text-anchor="end" fill="#111" class="sl">PPARA</text>
<text x="178.9" y="692.92" font-size="5.6" text-anchor="end" fill="#111" class="sl">RORA</text>
<text x="178.9" y="697.02" font-size="5.6" text-anchor="end" fill="#111" class="sl">HDAC1</text>
<text x="178.9" y="701.22" font-size="5.6" text-anchor="end" fill="#111" class="sl">RXRB</text>
<text x="178.9" y="705.62" font-size="5.6" text-anchor="end" fill="#111" class="sl">KDM1A</text>
<text x="178.9" y="710.12" font-size="5.6" text-anchor="end" fill="#111" class="sl">IGF1R</text>
<text x="178.9" y="714.62" font-size="5.6" text-anchor="end" fill="#111" class="sl">TYRO3</text>
<text x="178.9" y="719.02" font-size="5.6" text-anchor="end" fill="#111" class="sl">PDGFRB</text>
<text x="178.9" y="723.52" font-size="5.6" text-anchor="end" fill="#111" class="sl">SAE1</text>
<text x="178.9" y="727.92" font-size="5.6" text-anchor="end" fill="#111" class="sl">GRIN1</text>
<text x="178.9" y="733.22" font-size="5.6" text-anchor="end" fill="#111" class="sl">EGFR</text>
<text x="178.9" y="738.92" font-size="5.6" text-anchor="end" fill="#111" class="sl">HDAC2</text>
<text x="178.9" y="744.42" font-size="5.6" text-anchor="end" fill="#111" class="sl">PDGFRA</text>
<text x="178.9" y="749.82" font-size="5.6" text-anchor="end" fill="#111" class="sl">PDGFRB</text>
<text x="178.9" y="754.92" font-size="5.6" text-anchor="end" fill="#111" class="sl">TOP2A</text>
<text x="178.9" y="759.92" font-size="5.6" text-anchor="end" fill="#111" class="sl">MET</text>
<text x="178.9" y="764.62" font-size="5.6" text-anchor="end" fill="#111" class="sl">PROC</text>
<text x="178.9" y="768.92" font-size="5.6" text-anchor="end" fill="#111" class="sl">F7</text>
<text x="178.9" y="772.92" font-size="5.6" text-anchor="end" fill="#111" class="sl">IGF1</text>
<text x="178.9" y="777.02" font-size="5.6" text-anchor="end" fill="#111" class="sl">F10</text>
<text x="178.9" y="781.92" font-size="5.6" text-anchor="end" fill="#111" class="sl">KDR</text>
<text x="178.9" y="786.72" font-size="5.6" text-anchor="end" fill="#111" class="sl">ABO</text>
<text x="178.9" y="791.42" font-size="5.6" text-anchor="end" fill="#111" class="sl">CFB</text>
<text x="178.9" y="795.92" font-size="5.6" text-anchor="end" fill="#111" class="sl">LCN2</text>
<text x="178.9" y="801.72" font-size="5.6" text-anchor="end" fill="#111" class="sl">ALB</text>
<text x="178.9" y="807.22" font-size="5.6" text-anchor="end" fill="#111" class="sl">RBP4</text>
<text x="178.9" y="812.02" font-size="5.6" text-anchor="end" fill="#111" class="sl">SOD2</text>
<text x="178.9" y="816.32" font-size="5.6" text-anchor="end" fill="#111" class="sl">F2</text>
<text x="178.9" y="821.32" font-size="5.6" text-anchor="end" fill="#111" class="sl">PLA2G2A</text>
<text x="178.9" y="826.02" font-size="5.6" text-anchor="end" fill="#111" class="sl">MME</text>
<text x="178.9" y="830.52" font-size="5.6" text-anchor="end" fill="#111" class="sl">ABCC1</text>
<text x="178.9" y="835.22" font-size="5.6" text-anchor="end" fill="#111" class="sl">CTSB</text>
<text x="178.9" y="840.52" font-size="5.6" text-anchor="end" fill="#111" class="sl">CTSD</text>
<text x="178.9" y="845.92" font-size="5.6" text-anchor="end" fill="#111" class="sl">PSAP</text>
<text x="178.9" y="850.62" font-size="5.6" text-anchor="end" fill="#111" class="sl">TTR</text>
<text x="178.9" y="855.22" font-size="5.6" text-anchor="end" fill="#111" class="sl">DPP4</text>
<text x="178.9" y="859.82" font-size="5.6" text-anchor="end" fill="#111" class="sl">ITGAL</text>
<text x="178.9" y="863.92" font-size="5.6" text-anchor="end" fill="#111" class="sl">PRCP</text>
<text x="178.9" y="868.82" font-size="5.6" text-anchor="end" fill="#111" class="sl">CXCR4</text>
<text x="178.9" y="873.92" font-size="5.6" text-anchor="end" fill="#111" class="sl">HEXB</text>
<text x="178.9" y="879.02" font-size="5.6" text-anchor="end" fill="#111" class="sl">SERPINA1</text>
<text x="178.9" y="884.42" font-size="5.6" text-anchor="end" fill="#111" class="sl">CFD</text>
<text x="178.9" y="889.92" font-size="5.6" text-anchor="end" fill="#111" class="sl">METAP2</text>
<text x="178.9" y="895.42" font-size="5.6" text-anchor="end" fill="#111" class="sl">NFE2L2</text>
<text x="178.9" y="901.32" font-size="5.6" text-anchor="end" fill="#111" class="sl">MDM2</text>
<text x="178.9" y="906.82" font-size="5.6" text-anchor="end" fill="#111" class="sl">GSTA1</text>
<text x="178.9" y="911.82" font-size="5.6" text-anchor="end" fill="#111" class="sl">FABP6</text>
<text x="178.9" y="917.02" font-size="5.6" text-anchor="end" fill="#111" class="sl">BHMT</text>
<text x="178.9" y="922.12" font-size="5.6" text-anchor="end" fill="#111" class="sl">GCK</text>
<text x="178.9" y="927.92" font-size="5.6" text-anchor="end" fill="#111" class="sl">NFKB1</text>
<text x="178.9" y="934.12" font-size="5.6" text-anchor="end" fill="#111" class="sl">MTOR</text>
<text x="178.9" y="940.22" font-size="5.6" text-anchor="end" fill="#111" class="sl">MAPK14</text>
<text x="178.9" y="945.82" font-size="5.6" text-anchor="end" fill="#111" class="sl">AKR1C2</text>
<text x="178.9" y="951.22" font-size="5.6" text-anchor="end" fill="#111" class="sl">NR1H3</text>
<text x="178.9" y="957.52" font-size="5.6" text-anchor="end" fill="#111" class="sl">AKR1C3</text>
<text x="178.9" y="963.12" font-size="5.6" text-anchor="end" fill="#111" class="sl">STAT3</text>
<text x="178.9" y="968.82" font-size="5.6" text-anchor="end" fill="#111" class="sl">AKR1C1</text>
<text x="178.9" y="974.52" font-size="5.6" text-anchor="end" fill="#111" class="sl">VDR</text>
<text x="178.9" y="981.02" font-size="5.6" text-anchor="end" fill="#111" class="sl">STAT1</text>
<text x="178.9" y="986.72" font-size="5.6" text-anchor="end" fill="#111" class="sl">GSTM1</text>
<text x="178.9" y="991.82" font-size="5.6" text-anchor="end" fill="#111" class="sl">GSTM2</text>
<text x="178.9" y="996.92" font-size="5.6" text-anchor="end" fill="#111" class="sl">TRAPPC3</text>
<text x="178.9" y="1002.32" font-size="5.6" text-anchor="end" fill="#111" class="sl">NQO1</text>
<text x="178.9" y="1008.02" font-size="5.6" text-anchor="end" fill="#111" class="sl">EIF4E</text>
<text x="178.9" y="1013.72" font-size="5.6" text-anchor="end" fill="#111" class="sl">GC</text>
<text x="178.9" y="1020.02" font-size="5.6" text-anchor="end" fill="#111" class="sl">MAPK1</text>
<text x="178.9" y="1025.92" font-size="5.6" text-anchor="end" fill="#111" class="sl">CTNNA1</text>
<text x="178.9" y="1031.82" font-size="5.6" text-anchor="end" fill="#111" class="sl">ABL1</text>
<text x="178.9" y="1037.92" font-size="5.6" text-anchor="end" fill="#111" class="sl">LDHA</text>
<text x="178.9" y="1043.22" font-size="5.6" text-anchor="end" fill="#111" class="sl">RXRB</text>
<text x="178.9" y="1048.12" font-size="5.6" text-anchor="end" fill="#111" class="sl">ACACB</text>
<text x="178.9" y="1053.72" font-size="5.6" text-anchor="end" fill="#111" class="sl">HIF1A</text>
<text x="178.9" y="1059.82" font-size="5.6" text-anchor="end" fill="#111" class="sl">PIK3R1</text>
<text x="178.9" y="1065.32" font-size="5.6" text-anchor="end" fill="#111" class="sl">SRC</text>
<text x="178.9" y="1070.42" font-size="5.6" text-anchor="end" fill="#111" class="sl">MAOA</text>
<text x="178.9" y="1074.92" font-size="5.6" text-anchor="end" fill="#111" class="sl">ADH1C</text>
<text x="178.9" y="1079.52" font-size="5.6" text-anchor="end" fill="#111" class="sl">HDAC4</text>
<text x="178.9" y="1084.42" font-size="5.6" text-anchor="end" fill="#111" class="sl">CES1</text>
<text x="178.9" y="1089.52" font-size="5.6" text-anchor="end" fill="#111" class="sl">CSNK1G2</text>
<text x="178.9" y="1094.42" font-size="5.6" text-anchor="end" fill="#111" class="sl">PRKCQ</text>
<text x="178.9" y="1099.92" font-size="5.6" text-anchor="end" fill="#111" class="sl">RARA</text>
<text x="178.9" y="1107.02" font-size="5.6" text-anchor="end" fill="#111" class="sl">CSNK2B</text>
<text x="178.9" y="1113.72" font-size="5.6" text-anchor="end" fill="#111" class="sl">CCNE1</text>
<text x="178.9" y="1119.42" font-size="5.6" text-anchor="end" fill="#111" class="sl">SULT2B1</text>
<text x="178.9" y="1125.92" font-size="5.6" text-anchor="end" fill="#111" class="sl">MIF</text>
<text x="178.9" y="1132.22" font-size="5.6" text-anchor="end" fill="#111" class="sl">SORD</text>
<text x="178.9" y="1137.22" font-size="5.6" text-anchor="end" fill="#111" class="sl">APOA2</text>
<text x="178.9" y="1142.12" font-size="5.6" text-anchor="end" fill="#111" class="sl">SIGMAR1</text>
<text x="178.9" y="1147.22" font-size="5.6" text-anchor="end" fill="#111" class="sl">ARG1</text>
<text x="178.9" y="1152.52" font-size="5.6" text-anchor="end" fill="#111" class="sl">PDPK1</text>
<text x="178.9" y="1158.02" font-size="5.6" text-anchor="end" fill="#111" class="sl">PARP1</text>
<text x="178.9" y="1162.82" font-size="5.6" text-anchor="end" fill="#111" class="sl">SDS</text>
<text x="178.9" y="1169.12" font-size="5.6" text-anchor="end" fill="#111" class="sl">HSP90AA1</text>
<text x="178.9" y="1175.92" font-size="5.6" text-anchor="end" fill="#111" class="sl">SULT2A1</text>
<text x="178.9" y="1180.92" font-size="5.6" text-anchor="end" fill="#111" class="sl">JAK2</text>
<text x="178.9" y="1186.02" font-size="5.6" text-anchor="end" fill="#111" class="sl">PDE4B</text>
<text x="178.9" y="1191.12" font-size="5.6" text-anchor="end" fill="#111" class="sl">NAMPT</text>
<text x="178.9" y="1196.42" font-size="5.6" text-anchor="end" fill="#111" class="sl">CASP3</text>
<text x="178.9" y="1201.42" font-size="5.6" text-anchor="end" fill="#111" class="sl">TDO2</text>
<text x="178.9" y="1206.32" font-size="5.6" text-anchor="end" fill="#111" class="sl">CA1</text>
<text x="178.9" y="1211.82" font-size="5.6" text-anchor="end" fill="#111" class="sl">PPP1CC</text>
<text x="178.9" y="1217.12" font-size="5.6" text-anchor="end" fill="#111" class="sl">KEAP1</text>
<text x="178.9" y="1222.42" font-size="5.6" text-anchor="end" fill="#111" class="sl">PIK3CD</text>
<text x="178.9" y="1228.52" font-size="5.6" text-anchor="end" fill="#111" class="sl">HSP90AB1</text>
<text x="178.9" y="1235.22" font-size="5.6" text-anchor="end" fill="#111" class="sl">GSK3B</text>
<text x="178.9" y="1240.32" font-size="5.6" text-anchor="end" fill="#111" class="sl">PNMT</text>
<rect x="473.2" y="1028" width="14.2" height="33.1" fill="#cd5b45"/>
<text x="471" y="1046.57" font-size="5.6" text-anchor="end" fill="#111" class="sl">nucleus</text>
<rect x="473.2" y="1064.3" width="14.2" height="4.9" fill="#80bcd8"/>
<text x="471" y="1068.77" font-size="5.6" text-anchor="end" fill="#111" class="sl">secretory granule lumen</text>
<rect x="473.2" y="1072" width="14.2" height="5.3" fill="#4e9a84"/>
<text x="471" y="1076.67" font-size="5.6" text-anchor="end" fill="#111" class="sl">RNA polymerase II transcription regulator complex</text>
<rect x="473.2" y="1080.8" width="14.2" height="9.7" fill="#505e90"/>
<text x="471" y="1087.67" font-size="5.6" text-anchor="end" fill="#111" class="sl">protein-containing complex</text>
<rect x="473.2" y="1093.8" width="14.2" height="6.5" fill="#e8967a"/>
<text x="471" y="1099.07" font-size="5.6" text-anchor="end" fill="#111" class="sl">receptor complex</text>
<rect x="473.2" y="1103.8" width="14.2" height="33.9" fill="#8c98bc"/>
<text x="471" y="1122.77" font-size="5.6" text-anchor="end" fill="#111" class="sl">cytoplasm</text>
<rect x="473.2" y="1141.3" width="14.2" height="18.7" fill="#a8d8c8"/>
<text x="471" y="1152.67" font-size="5.6" text-anchor="end" fill="#111" class="sl">extracellular region</text>
<rect x="473.2" y="1163.5" width="14.2" height="6.5" fill="#d4e0a0"/>
<text x="471" y="1168.77" font-size="5.6" text-anchor="end" fill="#111" class="sl">ficolin-1-rich granule lumen</text>
<rect x="473.2" y="1173.6" width="14.2" height="22.4" fill="#7a5e48"/>
<text x="471" y="1186.82" font-size="5.6" text-anchor="end" fill="#111" class="sl">extracellular exosome</text>
<rect x="473.2" y="1200" width="14.2" height="38.7" fill="#b09a80"/>
<text x="471" y="1221.37" font-size="5.6" text-anchor="end" fill="#111" class="sl">cytosol</text>
<defs><clipPath id="clipC"><rect x="502.1" y="1027.5" width="222.8" height="210.6"/></clipPath></defs>
<g clip-path="url(#clipC)">
<circle cx="682.7" cy="1044.5" r="15.8" fill="#0000ff"/>
<circle cx="512.7" cy="1066.8" r="2.7" fill="#0000ff"/>
<circle cx="516.1" cy="1074.7" r="3.85" fill="#2000e0"/>
<circle cx="544.6" cy="1085.6" r="7.35" fill="#3000c8"/>
<circle cx="523.3" cy="1097.1" r="5" fill="#3000d0"/>
<circle cx="686.1" cy="1120.8" r="15.8" fill="#3808c0"/>
<circle cx="597.6" cy="1150.6" r="11.5" fill="#5000a0"/>
<circle cx="523.3" cy="1166.6" r="5" fill="#900050"/>
<circle cx="622.4" cy="1184.7" r="12.75" fill="#d80010"/>
<circle cx="714.8" cy="1219" r="16.9" fill="#d80000"/>
</g>
<rect x="502.1" y="1027.5" width="222.8" height="210.6" fill="none" stroke="#222" stroke-width="1.3"/>
<line x1="570.7" y1="1238.1" x2="570.7" y2="1242.1" stroke="#222" stroke-width="1.1"/>
<text x="570.7" y="1256.4" font-size="13.2" text-anchor="middle" fill="#222">20</text>
<line x1="653.4" y1="1238.1" x2="653.4" y2="1242.1" stroke="#222" stroke-width="1.1"/>
<text x="653.4" y="1256.4" font-size="13.2" text-anchor="middle" fill="#222">40</text>
<text x="613.9" y="1276" font-size="17.6" text-anchor="middle" fill="#111">Gene.Ratio</text>
<text x="750.9" y="1034.5" font-size="16.6" fill="#111">-log<tspan font-size="12" dy="5">10</tspan><tspan dy="-5">(Pvalue)</tspan></text>
<circle cx="759.5" cy="1118" r="2.5" fill="#000"/>
<text x="779.8" y="1122" font-size="11.2" fill="#222">7</text>
<circle cx="759.5" cy="1140" r="8" fill="#000"/>
<text x="779.8" y="1144" font-size="11.2" fill="#222">21</text>
<circle cx="759.5" cy="1160.7" r="11.4" fill="#000"/>
<text x="779.8" y="1164.7" font-size="11.2" fill="#222">35</text>
<circle cx="759.5" cy="1182.4" r="14.8" fill="#000"/>
<text x="779.8" y="1186.4" font-size="11.2" fill="#222">49</text>
<rect x="748" y="1040.6" width="5.8" height="123.5" fill="url(#gBR)" stroke="#222" stroke-width="0.8"/>
<line x1="753.8" y1="1072.2" x2="757" y2="1072.2" stroke="#222" stroke-width="1"/>
<text x="761.5" y="1076.8" font-size="13.4" fill="#222">8</text>
<line x1="753.8" y1="1119.6" x2="757" y2="1119.6" stroke="#222" stroke-width="1"/>
<text x="761.5" y="1124.2" font-size="13.4" fill="#222">6</text>
<text x="766.7" y="1098.3" font-size="16.3" fill="#111">Count</text>
<text transform="translate(958 667.9) scale(0.99 1)" font-size="62" font-family="&#39;Liberation Serif&#39;, &#39;Times New Roman&#39;, serif" fill="#000">D</text>
<g fill="none" stroke-opacity="0.36" stroke-width="1.9">
<path d="M1067.4 681.7C1202 681.7 1202 1035.35 1336.6 1035.35" stroke="#80bcd8"/>
<path d="M1067.4 685.9C1202 685.9 1202 1056.28 1336.6 1056.28" stroke="#4e9a84"/>
<path d="M1067.4 690C1202 690 1202 1066.24 1336.6 1066.24" stroke="#505e90"/>
<path d="M1067.4 694.2C1202 694.2 1202 1074.29 1336.6 1074.29" stroke="#e0a088"/>
<path d="M1067.4 698.3C1202 698.3 1202 1075.08 1336.6 1075.08" stroke="#e0a088"/>
<path d="M1067.4 702.6C1202 702.6 1202 1075.87 1336.6 1075.87" stroke="#e0a088"/>
<path d="M1067.4 706.8C1202 706.8 1202 1036.26 1336.6 1036.26" stroke="#80bcd8"/>
<path d="M1067.4 707.6C1202 707.6 1202 1173.11 1336.6 1173.11" stroke="#d4e0a0"/>
<path d="M1067.4 711.7C1202 711.7 1202 1076.66 1336.6 1076.66" stroke="#e0a088"/>
<path d="M1067.4 716C1202 716 1202 1077.45 1336.6 1077.45" stroke="#e0a088"/>
<path d="M1067.4 720.3C1202 720.3 1202 1078.23 1336.6 1078.23" stroke="#e0a088"/>
<path d="M1067.4 724.5C1202 724.5 1202 1079.02 1336.6 1079.02" stroke="#e0a088"/>
<path d="M1067.4 728.6C1202 728.6 1202 1079.81 1336.6 1079.81" stroke="#e0a088"/>
<path d="M1067.4 732.8C1202 732.8 1202 1080.6 1336.6 1080.6" stroke="#e0a088"/>
<path d="M1067.4 737C1202 737 1202 1081.39 1336.6 1081.39" stroke="#e0a088"/>
<path d="M1067.4 741.1C1202 741.1 1202 1082.18 1336.6 1082.18" stroke="#e0a088"/>
<path d="M1067.4 745.3C1202 745.3 1202 1082.96 1336.6 1082.96" stroke="#e0a088"/>
<path d="M1067.4 749.5C1202 749.5 1202 1083.75 1336.6 1083.75" stroke="#e0a088"/>
<path d="M1067.4 753.6C1202 753.6 1202 1037.16 1336.6 1037.16" stroke="#80bcd8"/>
<path d="M1067.4 754.4C1202 754.4 1202 1057.24 1336.6 1057.24" stroke="#4e9a84"/>
<path d="M1067.4 758.2C1202 758.2 1202 1084.54 1336.6 1084.54" stroke="#e0a088"/>
<path d="M1067.4 759C1202 759 1202 1174.12 1336.6 1174.12" stroke="#d4e0a0"/>
<path d="M1067.4 762.4C1202 762.4 1202 1024.13 1336.6 1024.13" stroke="#cd5b45"/>
<path d="M1067.4 763.2C1202 763.2 1202 1085.33 1336.6 1085.33" stroke="#e0a088"/>
<path d="M1067.4 767.1C1202 767.1 1202 1086.12 1336.6 1086.12" stroke="#e0a088"/>
<path d="M1067.4 771.4C1202 771.4 1202 1086.9 1336.6 1086.9" stroke="#e0a088"/>
<path d="M1067.4 775.6C1202 775.6 1202 1087.69 1336.6 1087.69" stroke="#e0a088"/>
<path d="M1067.4 779.7C1202 779.7 1202 1088.48 1336.6 1088.48" stroke="#e0a088"/>
<path d="M1067.4 784C1202 784 1202 1089.27 1336.6 1089.27" stroke="#e0a088"/>
<path d="M1067.4 788.2C1202 788.2 1202 1090.06 1336.6 1090.06" stroke="#e0a088"/>
<path d="M1067.4 792.35C1202 792.35 1202 1090.85 1336.6 1090.85" stroke="#e0a088"/>
<path d="M1067.4 793.45C1202 793.45 1202 1161.44 1336.6 1161.44" stroke="#a8d8c8"/>
<path d="M1067.4 797.55C1202 797.55 1202 1067.12 1336.6 1067.12" stroke="#505e90"/>
<path d="M1067.4 798.45C1202 798.45 1202 1091.63 1336.6 1091.63" stroke="#e0a088"/>
<path d="M1067.4 802.8C1202 802.8 1202 1092.42 1336.6 1092.42" stroke="#e0a088"/>
<path d="M1067.4 806.9C1202 806.9 1202 1093.21 1336.6 1093.21" stroke="#e0a088"/>
<path d="M1067.4 811.2C1202 811.2 1202 1094 1336.6 1094" stroke="#e0a088"/>
<path d="M1067.4 815.4C1202 815.4 1202 1094.79 1336.6 1094.79" stroke="#e0a088"/>
<path d="M1067.4 819.5C1202 819.5 1202 1095.57 1336.6 1095.57" stroke="#e0a088"/>
<path d="M1067.4 823.5C1202 823.5 1202 1024.98 1336.6 1024.98" stroke="#cd5b45"/>
<path d="M1067.4 824.3C1202 824.3 1202 1096.36 1336.6 1096.36" stroke="#e0a088"/>
<path d="M1067.4 827.7C1202 827.7 1202 1097.15 1336.6 1097.15" stroke="#e0a088"/>
<path d="M1067.4 832.2C1202 832.2 1202 1097.94 1336.6 1097.94" stroke="#e0a088"/>
<path d="M1067.4 835.87C1202 835.87 1202 1025.84 1336.6 1025.84" stroke="#cd5b45"/>
<path d="M1067.4 836.7C1202 836.7 1202 1098.73 1336.6 1098.73" stroke="#e0a088"/>
<path d="M1067.4 837.53C1202 837.53 1202 1162.33 1336.6 1162.33" stroke="#a8d8c8"/>
<path d="M1067.4 841.7C1202 841.7 1202 1099.52 1336.6 1099.52" stroke="#e0a088"/>
<path d="M1067.4 846.2C1202 846.2 1202 1100.3 1336.6 1100.3" stroke="#e0a088"/>
<path d="M1067.4 849.87C1202 849.87 1202 1026.69 1336.6 1026.69" stroke="#cd5b45"/>
<path d="M1067.4 850.7C1202 850.7 1202 1101.09 1336.6 1101.09" stroke="#e0a088"/>
<path d="M1067.4 851.53C1202 851.53 1202 1151.33 1336.6 1151.33" stroke="#8c98bc"/>
<path d="M1067.4 855.5C1202 855.5 1202 1038.07 1336.6 1038.07" stroke="#80bcd8"/>
<path d="M1067.4 856.3C1202 856.3 1202 1101.88 1336.6 1101.88" stroke="#e0a088"/>
<path d="M1067.4 860.6C1202 860.6 1202 1102.67 1336.6 1102.67" stroke="#e0a088"/>
<path d="M1067.4 864.9C1202 864.9 1202 1103.46 1336.6 1103.46" stroke="#e0a088"/>
<path d="M1067.4 869.4C1202 869.4 1202 1104.24 1336.6 1104.24" stroke="#e0a088"/>
<path d="M1067.4 873.17C1202 873.17 1202 1105.03 1336.6 1105.03" stroke="#e0a088"/>
<path d="M1067.4 874C1202 874 1202 1163.22 1336.6 1163.22" stroke="#a8d8c8"/>
<path d="M1067.4 874.83C1202 874.83 1202 1200.52 1336.6 1200.52" stroke="#b09a80"/>
<path d="M1067.4 878.5C1202 878.5 1202 1105.82 1336.6 1105.82" stroke="#e0a088"/>
<path d="M1067.4 883C1202 883 1202 1106.61 1336.6 1106.61" stroke="#e0a088"/>
<path d="M1067.4 887.5C1202 887.5 1202 1107.4 1336.6 1107.4" stroke="#e0a088"/>
<path d="M1067.4 892C1202 892 1202 1108.19 1336.6 1108.19" stroke="#e0a088"/>
<path d="M1067.4 895.8C1202 895.8 1202 1108.97 1336.6 1108.97" stroke="#e0a088"/>
<path d="M1067.4 900.08C1202 900.08 1202 1038.97 1336.6 1038.97" stroke="#80bcd8"/>
<path d="M1067.4 901.02C1202 901.02 1202 1109.76 1336.6 1109.76" stroke="#e0a088"/>
<path d="M1067.4 901.98C1202 901.98 1202 1152.19 1336.6 1152.19" stroke="#8c98bc"/>
<path d="M1067.4 902.93C1202 902.93 1202 1201.55 1336.6 1201.55" stroke="#b09a80"/>
<path d="M1067.4 907.1C1202 907.1 1202 1039.88 1336.6 1039.88" stroke="#80bcd8"/>
<path d="M1067.4 907.9C1202 907.9 1202 1110.55 1336.6 1110.55" stroke="#e0a088"/>
<path d="M1067.4 908.7C1202 908.7 1202 1153.06 1336.6 1153.06" stroke="#8c98bc"/>
<path d="M1067.4 909.5C1202 909.5 1202 1202.58 1336.6 1202.58" stroke="#b09a80"/>
<path d="M1067.4 913.5C1202 913.5 1202 1111.34 1336.6 1111.34" stroke="#e0a088"/>
<path d="M1067.4 914.3C1202 914.3 1202 1203.62 1336.6 1203.62" stroke="#b09a80"/>
<path d="M1067.4 918.3C1202 918.3 1202 1027.55 1336.6 1027.55" stroke="#cd5b45"/>
<path d="M1067.4 919.1C1202 919.1 1202 1040.78 1336.6 1040.78" stroke="#80bcd8"/>
<path d="M1067.4 919.9C1202 919.9 1202 1112.13 1336.6 1112.13" stroke="#e0a088"/>
<path d="M1067.4 920.7C1202 920.7 1202 1204.65 1336.6 1204.65" stroke="#b09a80"/>
<path d="M1067.4 925.2C1202 925.2 1202 1112.91 1336.6 1112.91" stroke="#e0a088"/>
<path d="M1067.4 930.2C1202 930.2 1202 1113.7 1336.6 1113.7" stroke="#e0a088"/>
<path d="M1067.4 934.9C1202 934.9 1202 1041.69 1336.6 1041.69" stroke="#80bcd8"/>
<path d="M1067.4 935.9C1202 935.9 1202 1114.49 1336.6 1114.49" stroke="#e0a088"/>
<path d="M1067.4 940.5C1202 940.5 1202 1042.59 1336.6 1042.59" stroke="#80bcd8"/>
<path d="M1067.4 941.5C1202 941.5 1202 1115.28 1336.6 1115.28" stroke="#e0a088"/>
<path d="M1067.4 946.5C1202 946.5 1202 1116.07 1336.6 1116.07" stroke="#e0a088"/>
<path d="M1067.4 951C1202 951 1202 1043.5 1336.6 1043.5" stroke="#80bcd8"/>
<path d="M1067.4 951.8C1202 951.8 1202 1068 1336.6 1068" stroke="#505e90"/>
<path d="M1067.4 952.6C1202 952.6 1202 1116.86 1336.6 1116.86" stroke="#e0a088"/>
<path d="M1067.4 953.4C1202 953.4 1202 1164.11 1336.6 1164.11" stroke="#a8d8c8"/>
<path d="M1067.4 954.2C1202 954.2 1202 1175.14 1336.6 1175.14" stroke="#d4e0a0"/>
<path d="M1067.4 955C1202 955 1202 1205.68 1336.6 1205.68" stroke="#b09a80"/>
<path d="M1067.4 959.1C1202 959.1 1202 1117.64 1336.6 1117.64" stroke="#e0a088"/>
<path d="M1067.4 959.9C1202 959.9 1202 1153.92 1336.6 1153.92" stroke="#8c98bc"/>
<path d="M1067.4 964.87C1202 964.87 1202 1028.41 1336.6 1028.41" stroke="#cd5b45"/>
<path d="M1067.4 965.8C1202 965.8 1202 1118.43 1336.6 1118.43" stroke="#e0a088"/>
<path d="M1067.4 966.73C1202 966.73 1202 1176.15 1336.6 1176.15" stroke="#d4e0a0"/>
<path d="M1067.4 971.35C1202 971.35 1202 1044.41 1336.6 1044.41" stroke="#80bcd8"/>
<path d="M1067.4 972.45C1202 972.45 1202 1189.76 1336.6 1189.76" stroke="#7a5e48"/>
<path d="M1067.4 976.9C1202 976.9 1202 1058.19 1336.6 1058.19" stroke="#4e9a84"/>
<path d="M1067.4 977.9C1202 977.9 1202 1190.67 1336.6 1190.67" stroke="#7a5e48"/>
<path d="M1067.4 982.6C1202 982.6 1202 1119.22 1336.6 1119.22" stroke="#e0a088"/>
<path d="M1067.4 983.6C1202 983.6 1202 1206.72 1336.6 1206.72" stroke="#b09a80"/>
<path d="M1067.4 988.4C1202 988.4 1202 1191.58 1336.6 1191.58" stroke="#7a5e48"/>
<path d="M1067.4 993.4C1202 993.4 1202 1192.49 1336.6 1192.49" stroke="#7a5e48"/>
<path d="M1067.4 998.25C1202 998.25 1202 1165 1336.6 1165" stroke="#a8d8c8"/>
<path d="M1067.4 999.15C1202 999.15 1202 1193.41 1336.6 1193.41" stroke="#7a5e48"/>
<path d="M1067.4 1003.6C1202 1003.6 1202 1068.88 1336.6 1068.88" stroke="#505e90"/>
<path d="M1067.4 1004.4C1202 1004.4 1202 1194.32 1336.6 1194.32" stroke="#7a5e48"/>
<path d="M1067.4 1008.7C1202 1008.7 1202 1177.17 1336.6 1177.17" stroke="#d4e0a0"/>
<path d="M1067.4 1009.5C1202 1009.5 1202 1195.23 1336.6 1195.23" stroke="#7a5e48"/>
<path d="M1067.4 1013.3C1202 1013.3 1202 1196.14 1336.6 1196.14" stroke="#7a5e48"/>
<path d="M1067.4 1017.28C1202 1017.28 1202 1059.15 1336.6 1059.15" stroke="#4e9a84"/>
<path d="M1067.4 1018.14C1202 1018.14 1202 1120.01 1336.6 1120.01" stroke="#e0a088"/>
<path d="M1067.4 1019C1202 1019 1202 1154.78 1336.6 1154.78" stroke="#8c98bc"/>
<path d="M1067.4 1019.86C1202 1019.86 1202 1178.18 1336.6 1178.18" stroke="#d4e0a0"/>
<path d="M1067.4 1020.72C1202 1020.72 1202 1207.75 1336.6 1207.75" stroke="#b09a80"/>
<path d="M1067.4 1025.05C1202 1025.05 1202 1060.11 1336.6 1060.11" stroke="#4e9a84"/>
<path d="M1067.4 1025.95C1202 1025.95 1202 1120.8 1336.6 1120.8" stroke="#e0a088"/>
<path d="M1067.4 1030.4C1202 1030.4 1202 1121.58 1336.6 1121.58" stroke="#e0a088"/>
<path d="M1067.4 1031.2C1202 1031.2 1202 1179.2 1336.6 1179.2" stroke="#d4e0a0"/>
<path d="M1067.4 1035.06C1202 1035.06 1202 1122.37 1336.6 1122.37" stroke="#e0a088"/>
<path d="M1067.4 1035.89C1202 1035.89 1202 1155.64 1336.6 1155.64" stroke="#8c98bc"/>
<path d="M1067.4 1036.71C1202 1036.71 1202 1180.22 1336.6 1180.22" stroke="#d4e0a0"/>
<path d="M1067.4 1037.54C1202 1037.54 1202 1208.78 1336.6 1208.78" stroke="#b09a80"/>
<path d="M1067.4 1042.2C1202 1042.2 1202 1123.16 1336.6 1123.16" stroke="#e0a088"/>
<path d="M1067.4 1047.3C1202 1047.3 1202 1123.95 1336.6 1123.95" stroke="#e0a088"/>
<path d="M1067.4 1051.61C1202 1051.61 1202 1045.31 1336.6 1045.31" stroke="#80bcd8"/>
<path d="M1067.4 1052.54C1202 1052.54 1202 1061.06 1336.6 1061.06" stroke="#4e9a84"/>
<path d="M1067.4 1053.46C1202 1053.46 1202 1124.74 1336.6 1124.74" stroke="#e0a088"/>
<path d="M1067.4 1054.39C1202 1054.39 1202 1209.82 1336.6 1209.82" stroke="#b09a80"/>
<path d="M1067.4 1059C1202 1059 1202 1125.53 1336.6 1125.53" stroke="#e0a088"/>
<path d="M1067.4 1060C1202 1060 1202 1181.23 1336.6 1181.23" stroke="#d4e0a0"/>
<path d="M1067.4 1064.7C1202 1064.7 1202 1126.31 1336.6 1126.31" stroke="#e0a088"/>
<path d="M1067.4 1069.2C1202 1069.2 1202 1127.1 1336.6 1127.1" stroke="#e0a088"/>
<path d="M1067.4 1072.5C1202 1072.5 1202 1029.26 1336.6 1029.26" stroke="#cd5b45"/>
<path d="M1067.4 1073.3C1202 1073.3 1202 1046.22 1336.6 1046.22" stroke="#80bcd8"/>
<path d="M1067.4 1074.1C1202 1074.1 1202 1127.89 1336.6 1127.89" stroke="#e0a088"/>
<path d="M1067.4 1074.9C1202 1074.9 1202 1165.89 1336.6 1165.89" stroke="#a8d8c8"/>
<path d="M1067.4 1075.7C1202 1075.7 1202 1182.25 1336.6 1182.25" stroke="#d4e0a0"/>
<path d="M1067.4 1076.5C1202 1076.5 1202 1210.85 1336.6 1210.85" stroke="#b09a80"/>
<path d="M1067.4 1080.4C1202 1080.4 1202 1128.68 1336.6 1128.68" stroke="#e0a088"/>
<path d="M1067.4 1085.3C1202 1085.3 1202 1129.47 1336.6 1129.47" stroke="#e0a088"/>
<path d="M1067.4 1086.1C1202 1086.1 1202 1211.88 1336.6 1211.88" stroke="#b09a80"/>
<path d="M1067.4 1090.85C1202 1090.85 1202 1130.25 1336.6 1130.25" stroke="#e0a088"/>
<path d="M1067.4 1091.95C1202 1091.95 1202 1212.92 1336.6 1212.92" stroke="#b09a80"/>
<path d="M1067.4 1097C1202 1097 1202 1131.04 1336.6 1131.04" stroke="#e0a088"/>
<path d="M1067.4 1102.15C1202 1102.15 1202 1131.83 1336.6 1131.83" stroke="#e0a088"/>
<path d="M1067.4 1103.25C1202 1103.25 1202 1213.95 1336.6 1213.95" stroke="#b09a80"/>
<path d="M1067.4 1107.75C1202 1107.75 1202 1069.76 1336.6 1069.76" stroke="#505e90"/>
<path d="M1067.4 1108.65C1202 1108.65 1202 1132.62 1336.6 1132.62" stroke="#e0a088"/>
<path d="M1067.4 1113.1C1202 1113.1 1202 1133.41 1336.6 1133.41" stroke="#e0a088"/>
<path d="M1067.4 1117.6C1202 1117.6 1202 1134.2 1336.6 1134.2" stroke="#e0a088"/>
<path d="M1067.4 1118.4C1202 1118.4 1202 1214.98 1336.6 1214.98" stroke="#b09a80"/>
<path d="M1067.4 1122.66C1202 1122.66 1202 1047.12 1336.6 1047.12" stroke="#80bcd8"/>
<path d="M1067.4 1123.48C1202 1123.48 1202 1134.98 1336.6 1134.98" stroke="#e0a088"/>
<path d="M1067.4 1124.3C1202 1124.3 1202 1166.78 1336.6 1166.78" stroke="#a8d8c8"/>
<path d="M1067.4 1125.12C1202 1125.12 1202 1183.26 1336.6 1183.26" stroke="#d4e0a0"/>
<path d="M1067.4 1125.94C1202 1125.94 1202 1216.02 1336.6 1216.02" stroke="#b09a80"/>
<path d="M1067.4 1130.45C1202 1130.45 1202 1135.77 1336.6 1135.77" stroke="#e0a088"/>
<path d="M1067.4 1131.55C1202 1131.55 1202 1217.05 1336.6 1217.05" stroke="#b09a80"/>
<path d="M1067.4 1136.1C1202 1136.1 1202 1136.56 1336.6 1136.56" stroke="#e0a088"/>
<path d="M1067.4 1136.9C1202 1136.9 1202 1184.28 1336.6 1184.28" stroke="#d4e0a0"/>
<path d="M1067.4 1141.01C1202 1141.01 1202 1030.12 1336.6 1030.12" stroke="#cd5b45"/>
<path d="M1067.4 1141.94C1202 1141.94 1202 1137.35 1336.6 1137.35" stroke="#e0a088"/>
<path d="M1067.4 1142.86C1202 1142.86 1202 1167.67 1336.6 1167.67" stroke="#a8d8c8"/>
<path d="M1067.4 1143.79C1202 1143.79 1202 1218.08 1336.6 1218.08" stroke="#b09a80"/>
<path d="M1067.4 1147.6C1202 1147.6 1202 1138.14 1336.6 1138.14" stroke="#e0a088"/>
<path d="M1067.4 1148.4C1202 1148.4 1202 1219.12 1336.6 1219.12" stroke="#b09a80"/>
<path d="M1067.4 1153.3C1202 1153.3 1202 1138.92 1336.6 1138.92" stroke="#e0a088"/>
<path d="M1067.4 1158.4C1202 1158.4 1202 1139.71 1336.6 1139.71" stroke="#e0a088"/>
<path d="M1067.4 1163.3C1202 1163.3 1202 1140.5 1336.6 1140.5" stroke="#e0a088"/>
<path d="M1067.4 1168.2C1202 1168.2 1202 1141.29 1336.6 1141.29" stroke="#e0a088"/>
<path d="M1067.4 1172.8C1202 1172.8 1202 1142.08 1336.6 1142.08" stroke="#e0a088"/>
<path d="M1067.4 1173.6C1202 1173.6 1202 1220.15 1336.6 1220.15" stroke="#b09a80"/>
<path d="M1067.4 1177.71C1202 1177.71 1202 1048.03 1336.6 1048.03" stroke="#80bcd8"/>
<path d="M1067.4 1178.64C1202 1178.64 1202 1142.87 1336.6 1142.87" stroke="#e0a088"/>
<path d="M1067.4 1179.56C1202 1179.56 1202 1156.51 1336.6 1156.51" stroke="#8c98bc"/>
<path d="M1067.4 1180.49C1202 1180.49 1202 1221.18 1336.6 1221.18" stroke="#b09a80"/>
<path d="M1067.4 1184.5C1202 1184.5 1202 1030.97 1336.6 1030.97" stroke="#cd5b45"/>
<path d="M1067.4 1185.3C1202 1185.3 1202 1048.93 1336.6 1048.93" stroke="#80bcd8"/>
<path d="M1067.4 1186.1C1202 1186.1 1202 1062.02 1336.6 1062.02" stroke="#4e9a84"/>
<path d="M1067.4 1186.9C1202 1186.9 1202 1143.65 1336.6 1143.65" stroke="#e0a088"/>
<path d="M1067.4 1187.7C1202 1187.7 1202 1157.37 1336.6 1157.37" stroke="#8c98bc"/>
<path d="M1067.4 1188.5C1202 1188.5 1202 1168.56 1336.6 1168.56" stroke="#a8d8c8"/>
<path d="M1067.4 1189.3C1202 1189.3 1202 1222.22 1336.6 1222.22" stroke="#b09a80"/>
<path d="M1067.4 1193.5C1202 1193.5 1202 1144.44 1336.6 1144.44" stroke="#e0a088"/>
<path d="M1067.4 1194.5C1202 1194.5 1202 1223.25 1336.6 1223.25" stroke="#b09a80"/>
<path d="M1067.4 1199.25C1202 1199.25 1202 1049.84 1336.6 1049.84" stroke="#80bcd8"/>
<path d="M1067.4 1200.15C1202 1200.15 1202 1224.28 1336.6 1224.28" stroke="#b09a80"/>
<path d="M1067.4 1205.1C1202 1205.1 1202 1145.23 1336.6 1145.23" stroke="#e0a088"/>
<path d="M1067.4 1209.8C1202 1209.8 1202 1050.74 1336.6 1050.74" stroke="#80bcd8"/>
<path d="M1067.4 1210.6C1202 1210.6 1202 1185.29 1336.6 1185.29" stroke="#d4e0a0"/>
<path d="M1067.4 1211.4C1202 1211.4 1202 1225.32 1336.6 1225.32" stroke="#b09a80"/>
<path d="M1067.4 1216.3C1202 1216.3 1202 1146.02 1336.6 1146.02" stroke="#e0a088"/>
<path d="M1067.4 1217.1C1202 1217.1 1202 1226.35 1336.6 1226.35" stroke="#b09a80"/>
<path d="M1067.4 1221.6C1202 1221.6 1202 1051.65 1336.6 1051.65" stroke="#80bcd8"/>
<path d="M1067.4 1222.4C1202 1222.4 1202 1227.38 1336.6 1227.38" stroke="#b09a80"/>
<path d="M1067.4 1227.1C1202 1227.1 1202 1146.81 1336.6 1146.81" stroke="#e0a088"/>
</g>
<rect x="1053.9" y="681.15" width="13.5" height="1.1" fill="#f0fcec"/>
<rect x="1053.9" y="685.35" width="13.5" height="1.1" fill="#f0fcfc"/>
<rect x="1053.9" y="689.4" width="13.5" height="1.2" fill="#8070f0"/>
<rect x="1053.9" y="693.7" width="13.5" height="1" fill="#a8c0f0"/>
<rect x="1053.9" y="697.8" width="13.5" height="1" fill="#c8c8c8"/>
<rect x="1053.9" y="702.05" width="13.5" height="1.1" fill="#b0d8e8"/>
<rect x="1053.9" y="706.4" width="13.5" height="1.6" fill="#e87810"/>
<rect x="1053.9" y="711.05" width="13.5" height="1.3" fill="#a07040"/>
<rect x="1053.9" y="715.35" width="13.5" height="1.3" fill="#406060"/>
<rect x="1053.9" y="719.8" width="13.5" height="1" fill="#c0a0e0"/>
<rect x="1053.9" y="723.95" width="13.5" height="1.1" fill="#0000d8"/>
<rect x="1053.9" y="728.05" width="13.5" height="1.1" fill="#d8d880"/>
<rect x="1053.9" y="732.15" width="13.5" height="1.3" fill="#5090f8"/>
<rect x="1053.9" y="736.35" width="13.5" height="1.3" fill="#c0d0f0"/>
<rect x="1053.9" y="740.45" width="13.5" height="1.3" fill="#80f098"/>
<rect x="1053.9" y="744.7" width="13.5" height="1.2" fill="#70f8f8"/>
<rect x="1053.9" y="749" width="13.5" height="1" fill="#d0d0d0"/>
<rect x="1053.9" y="753.2" width="13.5" height="1.6" fill="#fff4c0"/>
<rect x="1053.9" y="757.8" width="13.5" height="1.6" fill="#fff2f2"/>
<rect x="1053.9" y="762" width="13.5" height="1.6" fill="#6090d0"/>
<rect x="1053.9" y="766.5" width="13.5" height="1.2" fill="#b09088"/>
<rect x="1053.9" y="770.85" width="13.5" height="1.1" fill="#5080f0"/>
<rect x="1053.9" y="775.05" width="13.5" height="1.1" fill="#70f8f8"/>
<rect x="1053.9" y="779.15" width="13.5" height="1.1" fill="#d050c0"/>
<rect x="1053.9" y="783.4" width="13.5" height="1.2" fill="#fce8c8"/>
<rect x="1053.9" y="787.6" width="13.5" height="1.2" fill="#80b0b0"/>
<rect x="1053.9" y="791.8" width="13.5" height="2.2" fill="#e88880"/>
<rect x="1053.9" y="797.1" width="13.5" height="1.8" fill="#e0107a"/>
<rect x="1053.9" y="802.15" width="13.5" height="1.3" fill="#609060"/>
<rect x="1053.9" y="806.25" width="13.5" height="1.3" fill="#c8c890"/>
<rect x="1053.9" y="810.65" width="13.5" height="1.1" fill="#fff0d8"/>
<rect x="1053.9" y="814.85" width="13.5" height="1.1" fill="#b8d8e8"/>
<rect x="1053.9" y="818.9" width="13.5" height="1.2" fill="#3030d8"/>
<rect x="1053.9" y="823.1" width="13.5" height="1.6" fill="#e040f0"/>
<rect x="1053.9" y="827.05" width="13.5" height="1.3" fill="#9070d0"/>
<rect x="1053.9" y="831.65" width="13.5" height="1.1" fill="#905040"/>
<rect x="1053.9" y="835.45" width="13.5" height="2.5" fill="#f0c020"/>
<rect x="1053.9" y="841.15" width="13.5" height="1.1" fill="#b0c840"/>
<rect x="1053.9" y="845.65" width="13.5" height="1.1" fill="#a0e060"/>
<rect x="1053.9" y="849.45" width="13.5" height="2.5" fill="#c02020"/>
<rect x="1053.9" y="855.1" width="13.5" height="1.6" fill="#808080"/>
<rect x="1053.9" y="860.05" width="13.5" height="1.1" fill="#f0b0d8"/>
<rect x="1053.9" y="864.3" width="13.5" height="1.2" fill="#50b0f0"/>
<rect x="1053.9" y="868.9" width="13.5" height="1" fill="#f8f0f0"/>
<rect x="1053.9" y="872.75" width="13.5" height="2.5" fill="#c02020"/>
<rect x="1053.9" y="877.95" width="13.5" height="1.1" fill="#e07070"/>
<rect x="1053.9" y="882.4" width="13.5" height="1.2" fill="#a02050"/>
<rect x="1053.9" y="886.95" width="13.5" height="1.1" fill="#80c0e0"/>
<rect x="1053.9" y="891.35" width="13.5" height="1.3" fill="#508050"/>
<rect x="1053.9" y="895.3" width="13.5" height="1" fill="#f0f0f0"/>
<rect x="1053.9" y="899.6" width="13.5" height="3.8" fill="#80f040"/>
<rect x="1053.9" y="906.7" width="13.5" height="3.2" fill="#a8d8e0"/>
<rect x="1053.9" y="913.1" width="13.5" height="1.6" fill="#40b0d0"/>
<rect x="1053.9" y="917.9" width="13.5" height="3.2" fill="#40a030"/>
<rect x="1053.9" y="924.6" width="13.5" height="1.2" fill="#803020"/>
<rect x="1053.9" y="929.6" width="13.5" height="1.2" fill="#c0b020"/>
<rect x="1053.9" y="934.4" width="13.5" height="2" fill="#70f090"/>
<rect x="1053.9" y="940" width="13.5" height="2" fill="#a0c830"/>
<rect x="1053.9" y="945.95" width="13.5" height="1.1" fill="#a8d0f0"/>
<rect x="1053.9" y="950.6" width="13.5" height="4.8" fill="#ffff30"/>
<rect x="1053.9" y="958.7" width="13.5" height="1.6" fill="#fff4e0"/>
<rect x="1053.9" y="964.4" width="13.5" height="2.8" fill="#d070d0"/>
<rect x="1053.9" y="970.8" width="13.5" height="2.2" fill="#f8e0b0"/>
<rect x="1053.9" y="976.4" width="13.5" height="2" fill="#f0b070"/>
<rect x="1053.9" y="982.1" width="13.5" height="2" fill="#80f080"/>
<rect x="1053.9" y="987.8" width="13.5" height="1.2" fill="#e87010"/>
<rect x="1053.9" y="992.9" width="13.5" height="1" fill="#308080"/>
<rect x="1053.9" y="997.8" width="13.5" height="1.8" fill="#f0a050"/>
<rect x="1053.9" y="1003.2" width="13.5" height="1.6" fill="#8020f0"/>
<rect x="1053.9" y="1008.3" width="13.5" height="1.6" fill="#50a030"/>
<rect x="1053.9" y="1012.8" width="13.5" height="1" fill="#fff8f0"/>
<rect x="1053.9" y="1016.85" width="13.5" height="4.3" fill="#60c8d0"/>
<rect x="1053.9" y="1024.6" width="13.5" height="1.8" fill="#f0a020"/>
<rect x="1053.9" y="1030" width="13.5" height="1.6" fill="#305050"/>
<rect x="1053.9" y="1034.65" width="13.5" height="3.3" fill="#fff8f0"/>
<rect x="1053.9" y="1041.55" width="13.5" height="1.3" fill="#e05040"/>
<rect x="1053.9" y="1046.65" width="13.5" height="1.3" fill="#f0a0d0"/>
<rect x="1053.9" y="1051.15" width="13.5" height="3.7" fill="#101080"/>
<rect x="1053.9" y="1058.5" width="13.5" height="2" fill="#b09090"/>
<rect x="1053.9" y="1064.1" width="13.5" height="1.2" fill="#6050f0"/>
<rect x="1053.9" y="1068.8" width="13.5" height="0.8" fill="#7060f0"/>
<rect x="1053.9" y="1072.1" width="13.5" height="4.8" fill="#f0fcff"/>
<rect x="1053.9" y="1079.85" width="13.5" height="1.1" fill="#b08080"/>
<rect x="1053.9" y="1084.9" width="13.5" height="1.6" fill="#a0f080"/>
<rect x="1053.9" y="1090.3" width="13.5" height="2.2" fill="#c8b098"/>
<rect x="1053.9" y="1096.4" width="13.5" height="1.2" fill="#c0a8e8"/>
<rect x="1053.9" y="1101.6" width="13.5" height="2.2" fill="#206010"/>
<rect x="1053.9" y="1107.3" width="13.5" height="1.8" fill="#a0e080"/>
<rect x="1053.9" y="1112.6" width="13.5" height="1" fill="#40b0d0"/>
<rect x="1053.9" y="1117.2" width="13.5" height="1.6" fill="#50c8d0"/>
<rect x="1053.9" y="1122.25" width="13.5" height="4.1" fill="#9060c8"/>
<rect x="1053.9" y="1129.9" width="13.5" height="2.2" fill="#c0b830"/>
<rect x="1053.9" y="1135.7" width="13.5" height="1.6" fill="#a8d8e8"/>
<rect x="1053.9" y="1140.55" width="13.5" height="3.7" fill="#a050d8"/>
<rect x="1053.9" y="1147.2" width="13.5" height="1.6" fill="#101080"/>
<rect x="1053.9" y="1152.7" width="13.5" height="1.2" fill="#2050b0"/>
<rect x="1053.9" y="1157.8" width="13.5" height="1.2" fill="#90f070"/>
<rect x="1053.9" y="1162.8" width="13.5" height="1" fill="#c8ecf8"/>
<rect x="1053.9" y="1167.6" width="13.5" height="1.2" fill="#408040"/>
<rect x="1053.9" y="1172.4" width="13.5" height="1.6" fill="#c05018"/>
<rect x="1053.9" y="1177.25" width="13.5" height="3.7" fill="#b8b060"/>
<rect x="1053.9" y="1184.1" width="13.5" height="5.6" fill="#4890f8"/>
<rect x="1053.9" y="1193" width="13.5" height="2" fill="#909090"/>
<rect x="1053.9" y="1198.8" width="13.5" height="1.8" fill="#6080f0"/>
<rect x="1053.9" y="1204.5" width="13.5" height="1.2" fill="#e8e8e8"/>
<rect x="1053.9" y="1209.4" width="13.5" height="2.4" fill="#4060e8"/>
<rect x="1053.9" y="1215.9" width="13.5" height="1.6" fill="#d0d080"/>
<rect x="1053.9" y="1221.2" width="13.5" height="1.6" fill="#80f030"/>
<rect x="1053.9" y="1226.5" width="13.5" height="1.2" fill="#f8d8a0"/>
<text x="1051.6" y="683.64" font-size="5.4" text-anchor="end" fill="#111" class="sl">ABCC1</text>
<text x="1051.6" y="687.84" font-size="5.4" text-anchor="end" fill="#111" class="sl">GSR</text>
<text x="1051.6" y="691.94" font-size="5.4" text-anchor="end" fill="#111" class="sl">PDGFRB</text>
<text x="1051.6" y="696.14" font-size="5.4" text-anchor="end" fill="#111" class="sl">METAP2</text>
<text x="1051.6" y="700.24" font-size="5.4" text-anchor="end" fill="#111" class="sl">SCD</text>
<text x="1051.6" y="704.54" font-size="5.4" text-anchor="end" fill="#111" class="sl">GRIN1</text>
<text x="1051.6" y="709.14" font-size="5.4" text-anchor="end" fill="#111" class="sl">GCK</text>
<text x="1051.6" y="713.64" font-size="5.4" text-anchor="end" fill="#111" class="sl">AKR1C1</text>
<text x="1051.6" y="717.94" font-size="5.4" text-anchor="end" fill="#111" class="sl">F10</text>
<text x="1051.6" y="722.24" font-size="5.4" text-anchor="end" fill="#111" class="sl">RXRB</text>
<text x="1051.6" y="726.44" font-size="5.4" text-anchor="end" fill="#111" class="sl">PROC</text>
<text x="1051.6" y="730.54" font-size="5.4" text-anchor="end" fill="#111" class="sl">CXCR4</text>
<text x="1051.6" y="734.74" font-size="5.4" text-anchor="end" fill="#111" class="sl">HDAC4</text>
<text x="1051.6" y="738.94" font-size="5.4" text-anchor="end" fill="#111" class="sl">F7</text>
<text x="1051.6" y="743.04" font-size="5.4" text-anchor="end" fill="#111" class="sl">F2</text>
<text x="1051.6" y="747.24" font-size="5.4" text-anchor="end" fill="#111" class="sl">OPRM1</text>
<text x="1051.6" y="751.44" font-size="5.4" text-anchor="end" fill="#111" class="sl">ABO</text>
<text x="1051.6" y="755.94" font-size="5.4" text-anchor="end" fill="#111" class="sl">PDPK1</text>
<text x="1051.6" y="760.54" font-size="5.4" text-anchor="end" fill="#111" class="sl">MME</text>
<text x="1051.6" y="764.74" font-size="5.4" text-anchor="end" fill="#111" class="sl">CTSB</text>
<text x="1051.6" y="769.04" font-size="5.4" text-anchor="end" fill="#111" class="sl">CTSD</text>
<text x="1051.6" y="773.34" font-size="5.4" text-anchor="end" fill="#111" class="sl">CES1</text>
<text x="1051.6" y="777.54" font-size="5.4" text-anchor="end" fill="#111" class="sl">PDE4B</text>
<text x="1051.6" y="781.64" font-size="5.4" text-anchor="end" fill="#111" class="sl">CASP3</text>
<text x="1051.6" y="785.94" font-size="5.4" text-anchor="end" fill="#111" class="sl">CA1</text>
<text x="1051.6" y="790.14" font-size="5.4" text-anchor="end" fill="#111" class="sl">ITGAL</text>
<text x="1051.6" y="794.84" font-size="5.4" text-anchor="end" fill="#111" class="sl">PIK3CD</text>
<text x="1051.6" y="799.94" font-size="5.4" text-anchor="end" fill="#111" class="sl">TOP2A</text>
<text x="1051.6" y="804.74" font-size="5.4" text-anchor="end" fill="#111" class="sl">SCN5A</text>
<text x="1051.6" y="808.84" font-size="5.4" text-anchor="end" fill="#111" class="sl">ACE</text>
<text x="1051.6" y="813.14" font-size="5.4" text-anchor="end" fill="#111" class="sl">PROC</text>
<text x="1051.6" y="817.34" font-size="5.4" text-anchor="end" fill="#111" class="sl">IGF1</text>
<text x="1051.6" y="821.44" font-size="5.4" text-anchor="end" fill="#111" class="sl">TRAPPC3</text>
<text x="1051.6" y="825.84" font-size="5.4" text-anchor="end" fill="#111" class="sl">DRD3</text>
<text x="1051.6" y="829.64" font-size="5.4" text-anchor="end" fill="#111" class="sl">CHRNA7</text>
<text x="1051.6" y="834.14" font-size="5.4" text-anchor="end" fill="#111" class="sl">MAOA</text>
<text x="1051.6" y="838.64" font-size="5.4" text-anchor="end" fill="#111" class="sl">CSNK1G2</text>
<text x="1051.6" y="843.64" font-size="5.4" text-anchor="end" fill="#111" class="sl">CFB</text>
<text x="1051.6" y="848.14" font-size="5.4" text-anchor="end" fill="#111" class="sl">FKBP5</text>
<text x="1051.6" y="852.64" font-size="5.4" text-anchor="end" fill="#111" class="sl">PRKCQ</text>
<text x="1051.6" y="857.84" font-size="5.4" text-anchor="end" fill="#111" class="sl">CCNE1</text>
<text x="1051.6" y="862.54" font-size="5.4" text-anchor="end" fill="#111" class="sl">RBP4</text>
<text x="1051.6" y="866.84" font-size="5.4" text-anchor="end" fill="#111" class="sl">SULT2B1</text>
<text x="1051.6" y="871.34" font-size="5.4" text-anchor="end" fill="#111" class="sl">SDS</text>
<text x="1051.6" y="875.94" font-size="5.4" text-anchor="end" fill="#111" class="sl">PDGFRA</text>
<text x="1051.6" y="880.44" font-size="5.4" text-anchor="end" fill="#111" class="sl">PDGFRB</text>
<text x="1051.6" y="884.94" font-size="5.4" text-anchor="end" fill="#111" class="sl">SULT2A1</text>
<text x="1051.6" y="889.44" font-size="5.4" text-anchor="end" fill="#111" class="sl">PPP1CC</text>
<text x="1051.6" y="893.94" font-size="5.4" text-anchor="end" fill="#111" class="sl">HDAC1</text>
<text x="1051.6" y="897.74" font-size="5.4" text-anchor="end" fill="#111" class="sl">PNMT</text>
<text x="1051.6" y="903.44" font-size="5.4" text-anchor="end" fill="#111" class="sl">ABL1</text>
<text x="1051.6" y="910.24" font-size="5.4" text-anchor="end" fill="#111" class="sl">TYRO3</text>
<text x="1051.6" y="915.84" font-size="5.4" text-anchor="end" fill="#111" class="sl">NFE2L2</text>
<text x="1051.6" y="921.44" font-size="5.4" text-anchor="end" fill="#111" class="sl">GSK3B</text>
<text x="1051.6" y="927.14" font-size="5.4" text-anchor="end" fill="#111" class="sl">EIF4E</text>
<text x="1051.6" y="932.14" font-size="5.4" text-anchor="end" fill="#111" class="sl">APH1A</text>
<text x="1051.6" y="937.34" font-size="5.4" text-anchor="end" fill="#111" class="sl">HIF1A</text>
<text x="1051.6" y="942.94" font-size="5.4" text-anchor="end" fill="#111" class="sl">MAPK14</text>
<text x="1051.6" y="948.44" font-size="5.4" text-anchor="end" fill="#111" class="sl">APOA2</text>
<text x="1051.6" y="954.94" font-size="5.4" text-anchor="end" fill="#111" class="sl">SRC</text>
<text x="1051.6" y="961.44" font-size="5.4" text-anchor="end" fill="#111" class="sl">HDAC2</text>
<text x="1051.6" y="967.74" font-size="5.4" text-anchor="end" fill="#111" class="sl">PDGFRB</text>
<text x="1051.6" y="973.84" font-size="5.4" text-anchor="end" fill="#111" class="sl">ESR2</text>
<text x="1051.6" y="979.34" font-size="5.4" text-anchor="end" fill="#111" class="sl">PPARA</text>
<text x="1051.6" y="985.04" font-size="5.4" text-anchor="end" fill="#111" class="sl">PIK3R1</text>
<text x="1051.6" y="990.34" font-size="5.4" text-anchor="end" fill="#111" class="sl">RORA</text>
<text x="1051.6" y="995.34" font-size="5.4" text-anchor="end" fill="#111" class="sl">NR1H3</text>
<text x="1051.6" y="1000.64" font-size="5.4" text-anchor="end" fill="#111" class="sl">RARA</text>
<text x="1051.6" y="1005.94" font-size="5.4" text-anchor="end" fill="#111" class="sl">NR1I2</text>
<text x="1051.6" y="1011.04" font-size="5.4" text-anchor="end" fill="#111" class="sl">VDR</text>
<text x="1051.6" y="1015.24" font-size="5.4" text-anchor="end" fill="#111" class="sl">RXRB</text>
<text x="1051.6" y="1020.94" font-size="5.4" text-anchor="end" fill="#111" class="sl">MET</text>
<text x="1051.6" y="1027.44" font-size="5.4" text-anchor="end" fill="#111" class="sl">MDM2</text>
<text x="1051.6" y="1032.74" font-size="5.4" text-anchor="end" fill="#111" class="sl">LCN2</text>
<text x="1051.6" y="1038.24" font-size="5.4" text-anchor="end" fill="#111" class="sl">CSNK2B</text>
<text x="1051.6" y="1044.14" font-size="5.4" text-anchor="end" fill="#111" class="sl">ALB</text>
<text x="1051.6" y="1049.24" font-size="5.4" text-anchor="end" fill="#111" class="sl">NFKB1</text>
<text x="1051.6" y="1054.94" font-size="5.4" text-anchor="end" fill="#111" class="sl">MTOR</text>
<text x="1051.6" y="1061.44" font-size="5.4" text-anchor="end" fill="#111" class="sl">SOD2</text>
<text x="1051.6" y="1066.64" font-size="5.4" text-anchor="end" fill="#111" class="sl">MIF</text>
<text x="1051.6" y="1071.14" font-size="5.4" text-anchor="end" fill="#111" class="sl">SORD</text>
<text x="1051.6" y="1076.44" font-size="5.4" text-anchor="end" fill="#111" class="sl">STAT3</text>
<text x="1051.6" y="1082.34" font-size="5.4" text-anchor="end" fill="#111" class="sl">SIGMAR1</text>
<text x="1051.6" y="1087.64" font-size="5.4" text-anchor="end" fill="#111" class="sl">STAT1</text>
<text x="1051.6" y="1093.34" font-size="5.4" text-anchor="end" fill="#111" class="sl">PARP1</text>
<text x="1051.6" y="1098.94" font-size="5.4" text-anchor="end" fill="#111" class="sl">GSTM1</text>
<text x="1051.6" y="1104.64" font-size="5.4" text-anchor="end" fill="#111" class="sl">HSP90AA1</text>
<text x="1051.6" y="1110.14" font-size="5.4" text-anchor="end" fill="#111" class="sl">GSTM2</text>
<text x="1051.6" y="1115.04" font-size="5.4" text-anchor="end" fill="#111" class="sl">GHSR</text>
<text x="1051.6" y="1119.94" font-size="5.4" text-anchor="end" fill="#111" class="sl">NQO1</text>
<text x="1051.6" y="1126.24" font-size="5.4" text-anchor="end" fill="#111" class="sl">JAK2</text>
<text x="1051.6" y="1132.94" font-size="5.4" text-anchor="end" fill="#111" class="sl">MAPK1</text>
<text x="1051.6" y="1138.44" font-size="5.4" text-anchor="end" fill="#111" class="sl">CTNNA1</text>
<text x="1051.6" y="1144.34" font-size="5.4" text-anchor="end" fill="#111" class="sl">KDR</text>
<text x="1051.6" y="1149.94" font-size="5.4" text-anchor="end" fill="#111" class="sl">PSAP</text>
<text x="1051.6" y="1155.24" font-size="5.4" text-anchor="end" fill="#111" class="sl">NAMPT</text>
<text x="1051.6" y="1160.34" font-size="5.4" text-anchor="end" fill="#111" class="sl">TDO2</text>
<text x="1051.6" y="1165.24" font-size="5.4" text-anchor="end" fill="#111" class="sl">TTR</text>
<text x="1051.6" y="1170.14" font-size="5.4" text-anchor="end" fill="#111" class="sl">LDHA</text>
<text x="1051.6" y="1175.14" font-size="5.4" text-anchor="end" fill="#111" class="sl">DPP4</text>
<text x="1051.6" y="1181.04" font-size="5.4" text-anchor="end" fill="#111" class="sl">IGF1R</text>
<text x="1051.6" y="1188.84" font-size="5.4" text-anchor="end" fill="#111" class="sl">EGFR</text>
<text x="1051.6" y="1195.94" font-size="5.4" text-anchor="end" fill="#111" class="sl">ACACB</text>
<text x="1051.6" y="1201.64" font-size="5.4" text-anchor="end" fill="#111" class="sl">KEAP1</text>
<text x="1051.6" y="1207.04" font-size="5.4" text-anchor="end" fill="#111" class="sl">HEXB</text>
<text x="1051.6" y="1212.54" font-size="5.4" text-anchor="end" fill="#111" class="sl">KDM1A</text>
<text x="1051.6" y="1218.64" font-size="5.4" text-anchor="end" fill="#111" class="sl">HSP90AB1</text>
<text x="1051.6" y="1223.94" font-size="5.4" text-anchor="end" fill="#111" class="sl">SERPINA1</text>
<text x="1051.6" y="1229.04" font-size="5.4" text-anchor="end" fill="#111" class="sl">HDAC4</text>
<rect x="1336.6" y="1023.7" width="13.9" height="7.7" fill="#cd5b45"/>
<text x="1334.6" y="1029.49" font-size="5.4" text-anchor="end" fill="#111" class="sl">protein kinase activity</text>
<rect x="1336.6" y="1034.9" width="13.9" height="17.2" fill="#80bcd8"/>
<text x="1334.6" y="1045.44" font-size="5.4" text-anchor="end" fill="#111" class="sl">ATP binding</text>
<rect x="1336.6" y="1055.8" width="13.9" height="6.7" fill="#4e9a84"/>
<text x="1334.6" y="1061.09" font-size="5.4" text-anchor="end" fill="#111" class="sl">kinase activity</text>
<rect x="1336.6" y="1065.8" width="13.9" height="4.4" fill="#505e90"/>
<text x="1334.6" y="1069.94" font-size="5.4" text-anchor="end" fill="#111" class="sl">transmembrane receptor protein tyrosine kinase activity</text>
<rect x="1336.6" y="1073.9" width="13.9" height="73.3" fill="#e0a088"/>
<text x="1334.6" y="1112.49" font-size="5.4" text-anchor="end" fill="#111" class="sl">protein binding</text>
<rect x="1336.6" y="1150.9" width="13.9" height="6.9" fill="#8c98bc"/>
<text x="1334.6" y="1156.29" font-size="5.4" text-anchor="end" fill="#111" class="sl">protein tyrosine kinase activity</text>
<rect x="1336.6" y="1161" width="13.9" height="8" fill="#a8d8c8"/>
<text x="1334.6" y="1166.94" font-size="5.4" text-anchor="end" fill="#111" class="sl">RNA polymerase II-specific DNA-binding transcription factor binding</text>
<rect x="1336.6" y="1172.6" width="13.9" height="13.2" fill="#d4e0a0"/>
<text x="1334.6" y="1181.14" font-size="5.4" text-anchor="end" fill="#111" class="sl">enzyme binding</text>
<rect x="1336.6" y="1189.3" width="13.9" height="7.3" fill="#7a5e48"/>
<text x="1334.6" y="1194.89" font-size="5.4" text-anchor="end" fill="#111" class="sl">nuclear receptor activity</text>
<rect x="1336.6" y="1200" width="13.9" height="27.9" fill="#b09a80"/>
<text x="1334.6" y="1215.89" font-size="5.4" text-anchor="end" fill="#111" class="sl">identical protein binding</text>
<defs><clipPath id="clipD"><rect x="1364.9" y="1023.6" width="215.7" height="204.3"/></clipPath></defs>
<g clip-path="url(#clipD)">
<circle cx="1383.4" cy="1027.5" r="5.35" fill="#0000ff"/>
<circle cx="1412.4" cy="1043.6" r="9.5" fill="#0000ff"/>
<circle cx="1381" cy="1059.2" r="4.65" fill="#0000ff"/>
<circle cx="1374.9" cy="1068.3" r="2.7" fill="#2000e0"/>
<circle cx="1570.4" cy="1110.4" r="20.85" fill="#2800d0"/>
<circle cx="1381" cy="1154.1" r="4.65" fill="#4000b0"/>
<circle cx="1385.3" cy="1165" r="5.85" fill="#4808b0"/>
<circle cx="1399.7" cy="1179.2" r="8" fill="#b00030"/>
<circle cx="1382.9" cy="1193.1" r="5.25" fill="#c00020"/>
<circle cx="1441.4" cy="1214" r="12.5" fill="#e00000"/>
</g>
<rect x="1364.9" y="1023.6" width="215.7" height="204.3" fill="none" stroke="#222" stroke-width="1.3"/>
<line x1="1411.2" y1="1227.9" x2="1411.2" y2="1231.9" stroke="#222" stroke-width="1.1"/>
<text x="1411.2" y="1245.5" font-size="13.2" text-anchor="middle" fill="#222">20</text>
<line x1="1460.25" y1="1227.9" x2="1460.25" y2="1231.9" stroke="#222" stroke-width="1.1"/>
<text x="1460.25" y="1245.5" font-size="13.2" text-anchor="middle" fill="#222">40</text>
<line x1="1509.3" y1="1227.9" x2="1509.3" y2="1231.9" stroke="#222" stroke-width="1.1"/>
<text x="1509.3" y="1245.5" font-size="13.2" text-anchor="middle" fill="#222">60</text>
<line x1="1558.35" y1="1227.9" x2="1558.35" y2="1231.9" stroke="#222" stroke-width="1.1"/>
<text x="1558.35" y="1245.5" font-size="13.2" text-anchor="middle" fill="#222">80</text>
<text x="1472.4" y="1264.4" font-size="17.6" text-anchor="middle" fill="#111">Gene.Ratio</text>
<text x="1605.7" y="1030" font-size="16.4" fill="#111">-log<tspan font-size="11.8" dy="5">10</tspan><tspan dy="-5">(Pvalue)</tspan></text>
<circle cx="1614" cy="1111.7" r="2.7" fill="#000"/>
<text x="1633.8" y="1115.7" font-size="11.2" fill="#222">6</text>
<circle cx="1614" cy="1131.6" r="9" fill="#000"/>
<text x="1633.8" y="1135.6" font-size="11.2" fill="#222">29</text>
<circle cx="1614" cy="1152.4" r="15" fill="#000"/>
<text x="1633.8" y="1156.4" font-size="11.2" fill="#222">53</text>
<circle cx="1614" cy="1173.6" r="18.3" fill="#000"/>
<text x="1633.8" y="1177.6" font-size="11.2" fill="#222">76</text>
<rect x="1602.6" y="1036.1" width="6.1" height="119.9" fill="url(#gBR)" stroke="#222" stroke-width="0.8"/>
<line x1="1608.7" y1="1061.7" x2="1612" y2="1061.7" stroke="#222" stroke-width="1"/>
<text x="1616.7" y="1066.3" font-size="13.2" fill="#222">10</text>
<line x1="1608.7" y1="1095.1" x2="1612" y2="1095.1" stroke="#222" stroke-width="1"/>
<text x="1616.7" y="1099.7" font-size="13.2" fill="#222">8</text>
<text x="1621.6" y="1093.1" font-size="16.3" fill="#111">Count</text>
<text transform="translate(2 1332.9) scale(0.99 1)" font-size="62" font-family="&#39;Liberation Serif&#39;, &#39;Times New Roman&#39;, serif" fill="#000">E</text>
<rect x="463.3" y="1331.9" width="251.1" height="536.7" fill="#fff"/>
<line x1="472.8" y1="1331.9" x2="472.8" y2="1868.6" stroke="#efefef" stroke-width="0.9"/>
<line x1="565.2" y1="1331.9" x2="565.2" y2="1868.6" stroke="#efefef" stroke-width="0.9"/>
<line x1="657.6" y1="1331.9" x2="657.6" y2="1868.6" stroke="#efefef" stroke-width="0.9"/>
<line x1="519" y1="1331.9" x2="519" y2="1868.6" stroke="#e6e6e6" stroke-width="1.5"/>
<line x1="611.4" y1="1331.9" x2="611.4" y2="1868.6" stroke="#e6e6e6" stroke-width="1.5"/>
<line x1="703.8" y1="1331.9" x2="703.8" y2="1868.6" stroke="#e6e6e6" stroke-width="1.5"/>
<line x1="463.3" y1="1344.4" x2="714.4" y2="1344.4" stroke="#e6e6e6" stroke-width="1.5"/>
<line x1="463.3" y1="1365.75" x2="714.4" y2="1365.75" stroke="#e6e6e6" stroke-width="1.5"/>
<line x1="463.3" y1="1387.09" x2="714.4" y2="1387.09" stroke="#e6e6e6" stroke-width="1.5"/>
<line x1="463.3" y1="1408.44" x2="714.4" y2="1408.44" stroke="#e6e6e6" stroke-width="1.5"/>
<line x1="463.3" y1="1429.78" x2="714.4" y2="1429.78" stroke="#e6e6e6" stroke-width="1.5"/>
<line x1="463.3" y1="1451.13" x2="714.4" y2="1451.13" stroke="#e6e6e6" stroke-width="1.5"/>
<line x1="463.3" y1="1472.48" x2="714.4" y2="1472.48" stroke="#e6e6e6" stroke-width="1.5"/>
<line x1="463.3" y1="1493.82" x2="714.4" y2="1493.82" stroke="#e6e6e6" stroke-width="1.5"/>
<line x1="463.3" y1="1515.17" x2="714.4" y2="1515.17" stroke="#e6e6e6" stroke-width="1.5"/>
<line x1="463.3" y1="1536.51" x2="714.4" y2="1536.51" stroke="#e6e6e6" stroke-width="1.5"/>
<line x1="463.3" y1="1557.86" x2="714.4" y2="1557.86" stroke="#e6e6e6" stroke-width="1.5"/>
<line x1="463.3" y1="1579.2" x2="714.4" y2="1579.2" stroke="#e6e6e6" stroke-width="1.5"/>
<line x1="463.3" y1="1600.55" x2="714.4" y2="1600.55" stroke="#e6e6e6" stroke-width="1.5"/>
<line x1="463.3" y1="1621.9" x2="714.4" y2="1621.9" stroke="#e6e6e6" stroke-width="1.5"/>
<line x1="463.3" y1="1643.24" x2="714.4" y2="1643.24" stroke="#e6e6e6" stroke-width="1.5"/>
<line x1="463.3" y1="1664.59" x2="714.4" y2="1664.59" stroke="#e6e6e6" stroke-width="1.5"/>
<line x1="463.3" y1="1685.93" x2="714.4" y2="1685.93" stroke="#e6e6e6" stroke-width="1.5"/>
<line x1="463.3" y1="1707.28" x2="714.4" y2="1707.28" stroke="#e6e6e6" stroke-width="1.5"/>
<line x1="463.3" y1="1728.62" x2="714.4" y2="1728.62" stroke="#e6e6e6" stroke-width="1.5"/>
<line x1="463.3" y1="1749.97" x2="714.4" y2="1749.97" stroke="#e6e6e6" stroke-width="1.5"/>
<line x1="463.3" y1="1771.32" x2="714.4" y2="1771.32" stroke="#e6e6e6" stroke-width="1.5"/>
<line x1="463.3" y1="1792.66" x2="714.4" y2="1792.66" stroke="#e6e6e6" stroke-width="1.5"/>
<line x1="463.3" y1="1814.01" x2="714.4" y2="1814.01" stroke="#e6e6e6" stroke-width="1.5"/>
<line x1="463.3" y1="1835.35" x2="714.4" y2="1835.35" stroke="#e6e6e6" stroke-width="1.5"/>
<line x1="463.3" y1="1856.7" x2="714.4" y2="1856.7" stroke="#e6e6e6" stroke-width="1.5"/>
<circle cx="703.2" cy="1344.4" r="10.45" fill="#e00000"/>
<circle cx="592.5" cy="1365.75" r="8.7" fill="#b8b020"/>
<circle cx="560.9" cy="1387.09" r="8" fill="#c0ac28"/>
<circle cx="553" cy="1408.44" r="7.95" fill="#d85818"/>
<circle cx="537.1" cy="1429.78" r="7.45" fill="#a0e030"/>
<circle cx="537.1" cy="1451.13" r="7.45" fill="#a8d030"/>
<circle cx="529.1" cy="1472.48" r="7.2" fill="#c0a028"/>
<circle cx="521.2" cy="1493.82" r="7" fill="#b0c028"/>
<circle cx="513.5" cy="1515.17" r="6.7" fill="#a0d830"/>
<circle cx="513.5" cy="1536.51" r="6.7" fill="#a0d830"/>
<circle cx="513.5" cy="1557.86" r="6.7" fill="#c0b028"/>
<circle cx="505.6" cy="1579.2" r="6.5" fill="#90f030"/>
<circle cx="505.6" cy="1600.55" r="6.5" fill="#90f030"/>
<circle cx="497.4" cy="1621.9" r="6.25" fill="#90f030"/>
<circle cx="497.4" cy="1643.24" r="6.25" fill="#90f030"/>
<circle cx="497.4" cy="1664.59" r="6.25" fill="#90f030"/>
<circle cx="489.7" cy="1685.93" r="6" fill="#90f030"/>
<circle cx="489.7" cy="1707.28" r="6" fill="#90f030"/>
<circle cx="489.7" cy="1728.62" r="6" fill="#90f030"/>
<circle cx="489.7" cy="1749.97" r="6" fill="#98e030"/>
<circle cx="489.7" cy="1771.32" r="6" fill="#90f030"/>
<circle cx="489.7" cy="1792.66" r="6" fill="#90f030"/>
<circle cx="489.7" cy="1814.01" r="6" fill="#98d030"/>
<circle cx="481.7" cy="1835.35" r="5.5" fill="#90f030"/>
<circle cx="473.6" cy="1856.7" r="4.25" fill="#90f030"/>
<rect x="463.3" y="1331.9" width="251.1" height="536.7" fill="none" stroke="#333" stroke-width="1.1"/>
<rect x="715" y="1331.9" width="23.5" height="536.7" fill="#d9d9d9" stroke="#333" stroke-width="1.1"/>
<text x="727.05" y="1600.25" font-size="13.2" text-anchor="middle" font-family="&#39;Liberation Serif&#39;, &#39;Times New Roman&#39;, serif" transform="rotate(90 727.05 1600.25)" dominant-baseline="central">KEGG</text>
<line x1="458.8" y1="1344.4" x2="463.3" y2="1344.4" stroke="#333" stroke-width="1.4"/>
<text x="455.2" y="1349.2" font-size="14.5" text-anchor="end" font-family="&#39;Liberation Serif&#39;, &#39;Times New Roman&#39;, serif">Pathways in cancer</text>
<line x1="458.8" y1="1365.75" x2="463.3" y2="1365.75" stroke="#333" stroke-width="1.4"/>
<text x="455.2" y="1370.55" font-size="14.5" text-anchor="end" font-family="&#39;Liberation Serif&#39;, &#39;Times New Roman&#39;, serif">PI3K−Akt signaling pathway</text>
<line x1="458.8" y1="1387.09" x2="463.3" y2="1387.09" stroke="#333" stroke-width="1.4"/>
<text x="455.2" y="1391.89" font-size="14.5" text-anchor="end" font-family="&#39;Liberation Serif&#39;, &#39;Times New Roman&#39;, serif">Proteoglycans in cancer</text>
<line x1="458.8" y1="1408.44" x2="463.3" y2="1408.44" stroke="#333" stroke-width="1.4"/>
<text x="455.2" y="1413.24" font-size="14.5" text-anchor="end" font-family="&#39;Liberation Serif&#39;, &#39;Times New Roman&#39;, serif">EGFR tyrosine kinase inhibitor resistance</text>
<line x1="458.8" y1="1429.78" x2="463.3" y2="1429.78" stroke="#333" stroke-width="1.4"/>
<text x="455.2" y="1434.58" font-size="14.5" text-anchor="end" font-family="&#39;Liberation Serif&#39;, &#39;Times New Roman&#39;, serif">Ras signaling pathway</text>
<line x1="458.8" y1="1451.13" x2="463.3" y2="1451.13" stroke="#333" stroke-width="1.4"/>
<text x="455.2" y="1455.93" font-size="14.5" text-anchor="end" font-family="&#39;Liberation Serif&#39;, &#39;Times New Roman&#39;, serif">Rap1 signaling pathway</text>
<line x1="458.8" y1="1472.48" x2="463.3" y2="1472.48" stroke="#333" stroke-width="1.4"/>
<text x="455.2" y="1477.28" font-size="14.5" text-anchor="end" font-family="&#39;Liberation Serif&#39;, &#39;Times New Roman&#39;, serif">PD−L1 expression and PD−1 checkpoint pathway in cancer</text>
<line x1="458.8" y1="1493.82" x2="463.3" y2="1493.82" stroke="#333" stroke-width="1.4"/>
<text x="455.2" y="1498.62" font-size="14.5" text-anchor="end" font-family="&#39;Liberation Serif&#39;, &#39;Times New Roman&#39;, serif">HIF−1 signaling pathway</text>
<line x1="458.8" y1="1515.17" x2="463.3" y2="1515.17" stroke="#333" stroke-width="1.4"/>
<text x="455.2" y="1519.97" font-size="14.5" text-anchor="end" font-family="&#39;Liberation Serif&#39;, &#39;Times New Roman&#39;, serif">FoxO signaling pathway</text>
<line x1="458.8" y1="1536.51" x2="463.3" y2="1536.51" stroke="#333" stroke-width="1.4"/>
<text x="455.2" y="1541.31" font-size="14.5" text-anchor="end" font-family="&#39;Liberation Serif&#39;, &#39;Times New Roman&#39;, serif">Estrogen signaling pathway</text>
<line x1="458.8" y1="1557.86" x2="463.3" y2="1557.86" stroke="#333" stroke-width="1.4"/>
<text x="455.2" y="1562.66" font-size="14.5" text-anchor="end" font-family="&#39;Liberation Serif&#39;, &#39;Times New Roman&#39;, serif">Central carbon metabolism in cancer</text>
<line x1="458.8" y1="1579.2" x2="463.3" y2="1579.2" stroke="#333" stroke-width="1.4"/>
<text x="455.2" y="1584" font-size="14.5" text-anchor="end" font-family="&#39;Liberation Serif&#39;, &#39;Times New Roman&#39;, serif">Chemokine signaling pathway</text>
<line x1="458.8" y1="1600.55" x2="463.3" y2="1600.55" stroke="#333" stroke-width="1.4"/>
<text x="455.2" y="1605.35" font-size="14.5" text-anchor="end" font-family="&#39;Liberation Serif&#39;, &#39;Times New Roman&#39;, serif">Autophagy − animal</text>
<line x1="458.8" y1="1621.9" x2="463.3" y2="1621.9" stroke="#333" stroke-width="1.4"/>
<text x="455.2" y="1626.7" font-size="14.5" text-anchor="end" font-family="&#39;Liberation Serif&#39;, &#39;Times New Roman&#39;, serif">mTOR signaling pathway</text>
<line x1="458.8" y1="1643.24" x2="463.3" y2="1643.24" stroke="#333" stroke-width="1.4"/>
<text x="455.2" y="1648.04" font-size="14.5" text-anchor="end" font-family="&#39;Liberation Serif&#39;, &#39;Times New Roman&#39;, serif">JAK−STAT signaling pathway</text>
<line x1="458.8" y1="1664.59" x2="463.3" y2="1664.59" stroke="#333" stroke-width="1.4"/>
<text x="455.2" y="1669.39" font-size="14.5" text-anchor="end" font-family="&#39;Liberation Serif&#39;, &#39;Times New Roman&#39;, serif">Apoptosis</text>
<line x1="458.8" y1="1685.93" x2="463.3" y2="1685.93" stroke="#333" stroke-width="1.4"/>
<text x="455.2" y="1690.73" font-size="14.5" text-anchor="end" font-family="&#39;Liberation Serif&#39;, &#39;Times New Roman&#39;, serif">T cell receptor signaling pathway</text>
<line x1="458.8" y1="1707.28" x2="463.3" y2="1707.28" stroke="#333" stroke-width="1.4"/>
<text x="455.2" y="1712.08" font-size="14.5" text-anchor="end" font-family="&#39;Liberation Serif&#39;, &#39;Times New Roman&#39;, serif">Neurotrophin signaling pathway</text>
<line x1="458.8" y1="1728.62" x2="463.3" y2="1728.62" stroke="#333" stroke-width="1.4"/>
<text x="455.2" y="1733.42" font-size="14.5" text-anchor="end" font-family="&#39;Liberation Serif&#39;, &#39;Times New Roman&#39;, serif">IL−17 signaling pathway</text>
<line x1="458.8" y1="1749.97" x2="463.3" y2="1749.97" stroke="#333" stroke-width="1.4"/>
<text x="455.2" y="1754.77" font-size="14.5" text-anchor="end" font-family="&#39;Liberation Serif&#39;, &#39;Times New Roman&#39;, serif">ErbB signaling pathway</text>
<line x1="458.8" y1="1771.32" x2="463.3" y2="1771.32" stroke="#333" stroke-width="1.4"/>
<text x="455.2" y="1776.12" font-size="14.5" text-anchor="end" font-family="&#39;Liberation Serif&#39;, &#39;Times New Roman&#39;, serif">C−type lectin receptor signaling pathway</text>
<line x1="458.8" y1="1792.66" x2="463.3" y2="1792.66" stroke="#333" stroke-width="1.4"/>
<text x="455.2" y="1797.46" font-size="14.5" text-anchor="end" font-family="&#39;Liberation Serif&#39;, &#39;Times New Roman&#39;, serif">AMPK signaling pathway</text>
<line x1="458.8" y1="1814.01" x2="463.3" y2="1814.01" stroke="#333" stroke-width="1.4"/>
<text x="455.2" y="1818.81" font-size="14.5" text-anchor="end" font-family="&#39;Liberation Serif&#39;, &#39;Times New Roman&#39;, serif">Adipocytokine signaling pathway</text>
<line x1="458.8" y1="1835.35" x2="463.3" y2="1835.35" stroke="#333" stroke-width="1.4"/>
<text x="455.2" y="1840.15" font-size="14.5" text-anchor="end" font-family="&#39;Liberation Serif&#39;, &#39;Times New Roman&#39;, serif">PPAR signaling pathway</text>
<line x1="458.8" y1="1856.7" x2="463.3" y2="1856.7" stroke="#333" stroke-width="1.4"/>
<text x="455.2" y="1861.5" font-size="14.5" text-anchor="end" font-family="&#39;Liberation Serif&#39;, &#39;Times New Roman&#39;, serif">VEGF signaling pathway</text>
<line x1="519" y1="1868.6" x2="519" y2="1872.6" stroke="#333" stroke-width="1.4"/>
<text x="519" y="1887" font-size="14.5" text-anchor="middle" font-family="&#39;Liberation Serif&#39;, &#39;Times New Roman&#39;, serif" fill="#333">10</text>
<line x1="611.4" y1="1868.6" x2="611.4" y2="1872.6" stroke="#333" stroke-width="1.4"/>
<text x="611.4" y="1887" font-size="14.5" text-anchor="middle" font-family="&#39;Liberation Serif&#39;, &#39;Times New Roman&#39;, serif" fill="#333">20</text>
<line x1="703.8" y1="1868.6" x2="703.8" y2="1872.6" stroke="#333" stroke-width="1.4"/>
<text x="703.8" y="1887" font-size="14.5" text-anchor="middle" font-family="&#39;Liberation Serif&#39;, &#39;Times New Roman&#39;, serif" fill="#333">30</text>
<defs><linearGradient id="gE" x1="0" y1="1" x2="0" y2="0"><stop offset="0" stop-color="#8ffa38"/><stop offset="0.2" stop-color="#a5d931"/><stop offset="0.4" stop-color="#b8b82c"/><stop offset="0.6" stop-color="#c89a26"/><stop offset="0.75" stop-color="#d27a1f"/><stop offset="0.88" stop-color="#da5516"/><stop offset="1" stop-color="#e3140b"/></linearGradient></defs>
<text x="762.8" y="1436.5" font-size="14.3" font-family="&#39;Liberation Serif&#39;, &#39;Times New Roman&#39;, serif">−log<tspan font-size="10" dy="3.5">10</tspan><tspan dy="-3.5">(pvalue)</tspan></text>
<rect x="762.8" y="1447.1" width="25.3" height="125.6" fill="url(#gE)"/>
<line x1="762.8" y1="1451" x2="767.6" y2="1451" stroke="#ffffff" stroke-width="1"/>
<line x1="783.3" y1="1451" x2="788.1" y2="1451" stroke="#ffffff" stroke-width="1"/>
<text x="795.6" y="1455.6" font-size="13.2" font-family="&#39;Liberation Serif&#39;, &#39;Times New Roman&#39;, serif">15</text>
<line x1="762.8" y1="1481.3" x2="767.6" y2="1481.3" stroke="#ffffff" stroke-width="1"/>
<line x1="783.3" y1="1481.3" x2="788.1" y2="1481.3" stroke="#ffffff" stroke-width="1"/>
<text x="795.6" y="1485.9" font-size="13.2" font-family="&#39;Liberation Serif&#39;, &#39;Times New Roman&#39;, serif">12</text>
<line x1="762.8" y1="1511.6" x2="767.6" y2="1511.6" stroke="#ffffff" stroke-width="1"/>
<line x1="783.3" y1="1511.6" x2="788.1" y2="1511.6" stroke="#ffffff" stroke-width="1"/>
<text x="795.6" y="1516.2" font-size="13.2" font-family="&#39;Liberation Serif&#39;, &#39;Times New Roman&#39;, serif">9</text>
<line x1="762.8" y1="1542.2" x2="767.6" y2="1542.2" stroke="#ffffff" stroke-width="1"/>
<line x1="783.3" y1="1542.2" x2="788.1" y2="1542.2" stroke="#ffffff" stroke-width="1"/>
<text x="795.6" y="1546.8" font-size="13.2" font-family="&#39;Liberation Serif&#39;, &#39;Times New Roman&#39;, serif">6</text>
<line x1="762.8" y1="1572.7" x2="767.6" y2="1572.7" stroke="#ffffff" stroke-width="1"/>
<line x1="783.3" y1="1572.7" x2="788.1" y2="1572.7" stroke="#ffffff" stroke-width="1"/>
<text x="795.6" y="1577.3" font-size="13.2" font-family="&#39;Liberation Serif&#39;, &#39;Times New Roman&#39;, serif">3</text>
<text x="763" y="1617" font-size="14.3" font-family="&#39;Liberation Serif&#39;, &#39;Times New Roman&#39;, serif">count</text>
<circle cx="775.6" cy="1638.4" r="6.3" fill="#000"/>
<text x="795.6" y="1643" font-size="13.2" font-family="&#39;Liberation Serif&#39;, &#39;Times New Roman&#39;, serif">10</text>
<circle cx="775.6" cy="1663.3" r="7.7" fill="#000"/>
<text x="795.6" y="1667.9" font-size="13.2" font-family="&#39;Liberation Serif&#39;, &#39;Times New Roman&#39;, serif">15</text>
<circle cx="775.6" cy="1688.6" r="8.5" fill="#000"/>
<text x="795.6" y="1693.2" font-size="13.2" font-family="&#39;Liberation Serif&#39;, &#39;Times New Roman&#39;, serif">20</text>
<circle cx="775.6" cy="1714" r="9.5" fill="#000"/>
<text x="795.6" y="1718.6" font-size="13.2" font-family="&#39;Liberation Serif&#39;, &#39;Times New Roman&#39;, serif">25</text>
<circle cx="775.6" cy="1739.3" r="10.15" fill="#000"/>
<text x="795.6" y="1743.9" font-size="13.2" font-family="&#39;Liberation Serif&#39;, &#39;Times New Roman&#39;, serif">30</text>
<circle cx="775.6" cy="1764.2" r="11" fill="#000"/>
<text x="795.6" y="1768.8" font-size="13.2" font-family="&#39;Liberation Serif&#39;, &#39;Times New Roman&#39;, serif">35</text>
<text transform="translate(958 1332.7) scale(0.99 1)" font-size="62" font-family="&#39;Liberation Serif&#39;, &#39;Times New Roman&#39;, serif" fill="#000">F</text>
<g fill="none" stroke-opacity="0.42" stroke-width="2.2">
<path d="M1077.4 1331.4C1224.2 1331.4 1224.2 1538.81 1371 1538.81" stroke="#80bcd8"/>
<path d="M1077.4 1337C1224.2 1337 1224.2 1602.96 1371 1602.96" stroke="#d4e0a0"/>
<path d="M1077.4 1342.6C1224.2 1342.6 1224.2 1603.88 1371 1603.88" stroke="#d4e0a0"/>
<path d="M1077.4 1348.2C1224.2 1348.2 1224.2 1829.77 1371 1829.77" stroke="#c0b0d8"/>
<path d="M1077.4 1353.5C1224.2 1353.5 1224.2 1604.79 1371 1604.79" stroke="#d4e0a0"/>
<path d="M1077.4 1358.8C1224.2 1358.8 1224.2 1623.49 1371 1623.49" stroke="#b09a80"/>
<path d="M1077.4 1364.4C1224.2 1364.4 1224.2 1634.78 1371 1634.78" stroke="#4a7ab8"/>
<path d="M1077.4 1370C1224.2 1370 1224.2 1646.74 1371 1646.74" stroke="#e88830"/>
<path d="M1077.4 1375.6C1224.2 1375.6 1224.2 1558.39 1371 1558.39" stroke="#505e90"/>
<path d="M1077.4 1380.96C1224.2 1380.96 1224.2 1667.76 1371 1667.76" stroke="#c03030"/>
<path d="M1077.4 1381.84C1224.2 1381.84 1224.2 1691.45 1371 1691.45" stroke="#8a5a50"/>
<path d="M1077.4 1387.3C1224.2 1387.3 1224.2 1668.69 1371 1668.69" stroke="#c03030"/>
<path d="M1077.4 1392.72C1224.2 1392.72 1224.2 1635.74 1371 1635.74" stroke="#4a7ab8"/>
<path d="M1077.4 1393.6C1224.2 1393.6 1224.2 1734.56 1371 1734.56" stroke="#c0c030"/>
<path d="M1077.4 1394.48C1224.2 1394.48 1224.2 1830.72 1371 1830.72" stroke="#c0b0d8"/>
<path d="M1077.4 1399.7C1224.2 1399.7 1224.2 1678.57 1371 1678.57" stroke="#8860c0"/>
<path d="M1077.4 1405C1224.2 1405 1224.2 1679.5 1371 1679.5" stroke="#8860c0"/>
<path d="M1077.4 1410.4C1224.2 1410.4 1224.2 1692.35 1371 1692.35" stroke="#8a5a50"/>
<path d="M1077.4 1415.4C1224.2 1415.4 1224.2 1706.58 1371 1706.58" stroke="#d070c0"/>
<path d="M1077.4 1421C1224.2 1421 1224.2 1693.25 1371 1693.25" stroke="#8a5a50"/>
<path d="M1077.4 1426.4C1224.2 1426.4 1224.2 1719.66 1371 1719.66" stroke="#909090"/>
<path d="M1077.4 1431.4C1224.2 1431.4 1224.2 1735.48 1371 1735.48" stroke="#c0c030"/>
<path d="M1077.4 1436.87C1224.2 1436.87 1224.2 1580.17 1371 1580.17" stroke="#8c98bc"/>
<path d="M1077.4 1437.84C1224.2 1437.84 1224.2 1680.43 1371 1680.43" stroke="#8860c0"/>
<path d="M1077.4 1438.8C1224.2 1438.8 1224.2 1707.53 1371 1707.53" stroke="#d070c0"/>
<path d="M1077.4 1439.77C1224.2 1439.77 1224.2 1736.4 1371 1736.4" stroke="#c0c030"/>
<path d="M1077.4 1440.73C1224.2 1440.73 1224.2 1748.36 1371 1748.36" stroke="#60c0d0"/>
<path d="M1077.4 1445.9C1224.2 1445.9 1224.2 1749.29 1371 1749.29" stroke="#60c0d0"/>
<path d="M1077.4 1451.5C1224.2 1451.5 1224.2 1768.66 1371 1768.66" stroke="#b8c8e8"/>
<path d="M1077.4 1456.6C1224.2 1456.6 1224.2 1769.58 1371 1769.58" stroke="#b8c8e8"/>
<path d="M1077.4 1461.9C1224.2 1461.9 1224.2 1781.45 1371 1781.45" stroke="#f0b878"/>
<path d="M1077.4 1467.06C1224.2 1467.06 1224.2 1527.17 1371 1527.17" stroke="#cd5b45"/>
<path d="M1077.4 1468C1224.2 1468 1224.2 1708.49 1371 1708.49" stroke="#d070c0"/>
<path d="M1077.4 1468.94C1224.2 1468.94 1224.2 1750.22 1371 1750.22" stroke="#60c0d0"/>
<path d="M1077.4 1474.36C1224.2 1474.36 1224.2 1569.09 1371 1569.09" stroke="#e8967a"/>
<path d="M1077.4 1475.4C1224.2 1475.4 1224.2 1798.65 1371 1798.65" stroke="#b0e090"/>
<path d="M1077.4 1476.44C1224.2 1476.44 1224.2 1831.67 1371 1831.67" stroke="#c0b0d8"/>
<path d="M1077.4 1482C1224.2 1482 1224.2 1799.55 1371 1799.55" stroke="#b0e090"/>
<path d="M1077.4 1487.35C1224.2 1487.35 1224.2 1539.83 1371 1539.83" stroke="#80bcd8"/>
<path d="M1077.4 1488.26C1224.2 1488.26 1224.2 1559.38 1371 1559.38" stroke="#505e90"/>
<path d="M1077.4 1489.18C1224.2 1489.18 1224.2 1581.11 1371 1581.11" stroke="#8c98bc"/>
<path d="M1077.4 1490.1C1224.2 1490.1 1224.2 1636.71 1371 1636.71" stroke="#4a7ab8"/>
<path d="M1077.4 1491.02C1224.2 1491.02 1224.2 1770.51 1371 1770.51" stroke="#b8c8e8"/>
<path d="M1077.4 1491.94C1224.2 1491.94 1224.2 1800.45 1371 1800.45" stroke="#b0e090"/>
<path d="M1077.4 1492.85C1224.2 1492.85 1224.2 1832.61 1371 1832.61" stroke="#c0b0d8"/>
<path d="M1077.4 1498.24C1224.2 1498.24 1224.2 1751.15 1371 1751.15" stroke="#60c0d0"/>
<path d="M1077.4 1499.16C1224.2 1499.16 1224.2 1833.56 1371 1833.56" stroke="#c0b0d8"/>
<path d="M1077.4 1504.66C1224.2 1504.66 1224.2 1720.58 1371 1720.58" stroke="#909090"/>
<path d="M1077.4 1505.6C1224.2 1505.6 1224.2 1737.32 1371 1737.32" stroke="#c0c030"/>
<path d="M1077.4 1506.54C1224.2 1506.54 1224.2 1782.36 1371 1782.36" stroke="#f0b878"/>
<path d="M1077.4 1511.77C1224.2 1511.77 1224.2 1528.12 1371 1528.12" stroke="#cd5b45"/>
<path d="M1077.4 1512.74C1224.2 1512.74 1224.2 1560.36 1371 1560.36" stroke="#505e90"/>
<path d="M1077.4 1513.7C1224.2 1513.7 1224.2 1582.06 1371 1582.06" stroke="#8c98bc"/>
<path d="M1077.4 1514.67C1224.2 1514.67 1224.2 1694.15 1371 1694.15" stroke="#8a5a50"/>
<path d="M1077.4 1515.63C1224.2 1515.63 1224.2 1834.51 1371 1834.51" stroke="#c0b0d8"/>
<path d="M1077.4 1520.26C1224.2 1520.26 1224.2 1605.71 1371 1605.71" stroke="#d4e0a0"/>
<path d="M1077.4 1521.14C1224.2 1521.14 1224.2 1624.46 1371 1624.46" stroke="#b09a80"/>
<path d="M1077.4 1522.02C1224.2 1522.02 1224.2 1681.37 1371 1681.37" stroke="#8860c0"/>
<path d="M1077.4 1522.9C1224.2 1522.9 1224.2 1695.05 1371 1695.05" stroke="#8a5a50"/>
<path d="M1077.4 1523.78C1224.2 1523.78 1224.2 1801.35 1371 1801.35" stroke="#b0e090"/>
<path d="M1077.4 1524.66C1224.2 1524.66 1224.2 1813.08 1371 1813.08" stroke="#e89898"/>
<path d="M1077.4 1525.54C1224.2 1525.54 1224.2 1835.45 1371 1835.45" stroke="#c0b0d8"/>
<path d="M1077.4 1530.06C1224.2 1530.06 1224.2 1709.44 1371 1709.44" stroke="#d070c0"/>
<path d="M1077.4 1530.94C1224.2 1530.94 1224.2 1721.5 1371 1721.5" stroke="#909090"/>
<path d="M1077.4 1535.9C1224.2 1535.9 1224.2 1612.95 1371 1612.95" stroke="#7a5e48"/>
<path d="M1077.4 1536.78C1224.2 1536.78 1224.2 1657.54 1371 1657.54" stroke="#50a040"/>
<path d="M1077.4 1537.66C1224.2 1537.66 1224.2 1695.95 1371 1695.95" stroke="#8a5a50"/>
<path d="M1077.4 1538.54C1224.2 1538.54 1224.2 1710.4 1371 1710.4" stroke="#d070c0"/>
<path d="M1077.4 1539.42C1224.2 1539.42 1224.2 1752.08 1371 1752.08" stroke="#60c0d0"/>
<path d="M1077.4 1540.3C1224.2 1540.3 1224.2 1783.27 1371 1783.27" stroke="#f0b878"/>
<path d="M1077.4 1545.2C1224.2 1545.2 1224.2 1836.4 1371 1836.4" stroke="#c0b0d8"/>
<path d="M1077.4 1551.17C1224.2 1551.17 1224.2 1711.36 1371 1711.36" stroke="#d070c0"/>
<path d="M1077.4 1552.13C1224.2 1552.13 1224.2 1753.01 1371 1753.01" stroke="#60c0d0"/>
<path d="M1077.4 1553.1C1224.2 1553.1 1224.2 1771.43 1371 1771.43" stroke="#b8c8e8"/>
<path d="M1077.4 1554.07C1224.2 1554.07 1224.2 1814.04 1371 1814.04" stroke="#e89898"/>
<path d="M1077.4 1555.03C1224.2 1555.03 1224.2 1837.34 1371 1837.34" stroke="#c0b0d8"/>
<path d="M1077.4 1560.45C1224.2 1560.45 1224.2 1613.85 1371 1613.85" stroke="#7a5e48"/>
<path d="M1077.4 1561.48C1224.2 1561.48 1224.2 1647.61 1371 1647.61" stroke="#e88830"/>
<path d="M1077.4 1562.52C1224.2 1562.52 1224.2 1815 1371 1815" stroke="#e89898"/>
<path d="M1077.4 1563.55C1224.2 1563.55 1224.2 1838.29 1371 1838.29" stroke="#c0b0d8"/>
<path d="M1077.4 1568.8C1224.2 1568.8 1224.2 1529.08 1371 1529.08" stroke="#cd5b45"/>
<path d="M1077.4 1574.7C1224.2 1574.7 1224.2 1570.06 1371 1570.06" stroke="#e8967a"/>
<path d="M1077.4 1580.3C1224.2 1580.3 1224.2 1658.41 1371 1658.41" stroke="#50a040"/>
<path d="M1077.4 1586.24C1224.2 1586.24 1224.2 1530.03 1371 1530.03" stroke="#cd5b45"/>
<path d="M1077.4 1587.12C1224.2 1587.12 1224.2 1547.69 1371 1547.69" stroke="#4e9a84"/>
<path d="M1077.4 1588C1224.2 1588 1224.2 1561.35 1371 1561.35" stroke="#505e90"/>
<path d="M1077.4 1588.88C1224.2 1588.88 1224.2 1606.62 1371 1606.62" stroke="#d4e0a0"/>
<path d="M1077.4 1589.76C1224.2 1589.76 1224.2 1659.28 1371 1659.28" stroke="#50a040"/>
<path d="M1077.4 1590.64C1224.2 1590.64 1224.2 1682.3 1371 1682.3" stroke="#8860c0"/>
<path d="M1077.4 1591.52C1224.2 1591.52 1224.2 1772.35 1371 1772.35" stroke="#b8c8e8"/>
<path d="M1077.4 1592.4C1224.2 1592.4 1224.2 1802.25 1371 1802.25" stroke="#b0e090"/>
<path d="M1077.4 1593.28C1224.2 1593.28 1224.2 1815.97 1371 1815.97" stroke="#e89898"/>
<path d="M1077.4 1594.16C1224.2 1594.16 1224.2 1839.24 1371 1839.24" stroke="#c0b0d8"/>
<path d="M1077.4 1599.8C1224.2 1599.8 1224.2 1840.18 1371 1840.18" stroke="#c0b0d8"/>
<path d="M1077.4 1606.05C1224.2 1606.05 1224.2 1548.68 1371 1548.68" stroke="#4e9a84"/>
<path d="M1077.4 1606.97C1224.2 1606.97 1224.2 1562.34 1371 1562.34" stroke="#505e90"/>
<path d="M1077.4 1607.89C1224.2 1607.89 1224.2 1591.16 1371 1591.16" stroke="#a8d8c8"/>
<path d="M1077.4 1608.82C1224.2 1608.82 1224.2 1625.43 1371 1625.43" stroke="#b09a80"/>
<path d="M1077.4 1609.74C1224.2 1609.74 1224.2 1660.15 1371 1660.15" stroke="#50a040"/>
<path d="M1077.4 1610.66C1224.2 1610.66 1224.2 1683.23 1371 1683.23" stroke="#8860c0"/>
<path d="M1077.4 1611.58C1224.2 1611.58 1224.2 1738.24 1371 1738.24" stroke="#c0c030"/>
<path d="M1077.4 1612.51C1224.2 1612.51 1224.2 1773.27 1371 1773.27" stroke="#b8c8e8"/>
<path d="M1077.4 1613.43C1224.2 1613.43 1224.2 1816.93 1371 1816.93" stroke="#e89898"/>
<path d="M1077.4 1614.35C1224.2 1614.35 1224.2 1841.13 1371 1841.13" stroke="#c0b0d8"/>
<path d="M1077.4 1620.3C1224.2 1620.3 1224.2 1614.75 1371 1614.75" stroke="#7a5e48"/>
<path d="M1077.4 1625.18C1224.2 1625.18 1224.2 1540.85 1371 1540.85" stroke="#80bcd8"/>
<path d="M1077.4 1626.06C1224.2 1626.06 1224.2 1563.32 1371 1563.32" stroke="#505e90"/>
<path d="M1077.4 1626.94C1224.2 1626.94 1224.2 1571.03 1371 1571.03" stroke="#e8967a"/>
<path d="M1077.4 1627.82C1224.2 1627.82 1224.2 1583 1371 1583" stroke="#8c98bc"/>
<path d="M1077.4 1628.7C1224.2 1628.7 1224.2 1626.4 1371 1626.4" stroke="#b09a80"/>
<path d="M1077.4 1629.58C1224.2 1629.58 1224.2 1661.02 1371 1661.02" stroke="#50a040"/>
<path d="M1077.4 1630.46C1224.2 1630.46 1224.2 1774.19 1371 1774.19" stroke="#b8c8e8"/>
<path d="M1077.4 1631.34C1224.2 1631.34 1224.2 1784.17 1371 1784.17" stroke="#f0b878"/>
<path d="M1077.4 1632.22C1224.2 1632.22 1224.2 1842.08 1371 1842.08" stroke="#c0b0d8"/>
<path d="M1077.4 1637.12C1224.2 1637.12 1224.2 1572 1371 1572" stroke="#e8967a"/>
<path d="M1077.4 1638C1224.2 1638 1224.2 1592.07 1371 1592.07" stroke="#a8d8c8"/>
<path d="M1077.4 1638.88C1224.2 1638.88 1224.2 1615.65 1371 1615.65" stroke="#7a5e48"/>
<path d="M1077.4 1639.76C1224.2 1639.76 1224.2 1696.85 1371 1696.85" stroke="#8a5a50"/>
<path d="M1077.4 1640.64C1224.2 1640.64 1224.2 1722.41 1371 1722.41" stroke="#909090"/>
<path d="M1077.4 1641.52C1224.2 1641.52 1224.2 1753.94 1371 1753.94" stroke="#60c0d0"/>
<path d="M1077.4 1642.4C1224.2 1642.4 1224.2 1785.08 1371 1785.08" stroke="#f0b878"/>
<path d="M1077.4 1643.28C1224.2 1643.28 1224.2 1803.15 1371 1803.15" stroke="#b0e090"/>
<path d="M1077.4 1648.49C1224.2 1648.49 1224.2 1754.87 1371 1754.87" stroke="#60c0d0"/>
<path d="M1077.4 1649.51C1224.2 1649.51 1224.2 1785.99 1371 1785.99" stroke="#f0b878"/>
<path d="M1077.4 1655.3C1224.2 1655.3 1224.2 1843.02 1371 1843.02" stroke="#c0b0d8"/>
<path d="M1077.4 1660.94C1224.2 1660.94 1224.2 1684.17 1371 1684.17" stroke="#8860c0"/>
<path d="M1077.4 1661.86C1224.2 1661.86 1224.2 1817.89 1371 1817.89" stroke="#e89898"/>
<path d="M1077.4 1667.3C1224.2 1667.3 1224.2 1723.33 1371 1723.33" stroke="#909090"/>
<path d="M1077.4 1672.3C1224.2 1672.3 1224.2 1627.37 1371 1627.37" stroke="#b09a80"/>
<path d="M1077.4 1673.18C1224.2 1673.18 1224.2 1637.67 1371 1637.67" stroke="#4a7ab8"/>
<path d="M1077.4 1674.06C1224.2 1674.06 1224.2 1648.48 1371 1648.48" stroke="#e88830"/>
<path d="M1077.4 1674.94C1224.2 1674.94 1224.2 1697.75 1371 1697.75" stroke="#8a5a50"/>
<path d="M1077.4 1675.82C1224.2 1675.82 1224.2 1786.9 1371 1786.9" stroke="#f0b878"/>
<path d="M1077.4 1676.7C1224.2 1676.7 1224.2 1843.97 1371 1843.97" stroke="#c0b0d8"/>
<path d="M1077.4 1682.4C1224.2 1682.4 1224.2 1844.92 1371 1844.92" stroke="#c0b0d8"/>
<path d="M1077.4 1687.6C1224.2 1687.6 1224.2 1755.8 1371 1755.8" stroke="#60c0d0"/>
<path d="M1077.4 1693.04C1224.2 1693.04 1224.2 1607.54 1371 1607.54" stroke="#d4e0a0"/>
<path d="M1077.4 1693.94C1224.2 1693.94 1224.2 1669.62 1371 1669.62" stroke="#c03030"/>
<path d="M1077.4 1694.85C1224.2 1694.85 1224.2 1724.25 1371 1724.25" stroke="#909090"/>
<path d="M1077.4 1695.75C1224.2 1695.75 1224.2 1787.8 1371 1787.8" stroke="#f0b878"/>
<path d="M1077.4 1696.66C1224.2 1696.66 1224.2 1818.85 1371 1818.85" stroke="#e89898"/>
<path d="M1077.4 1697.56C1224.2 1697.56 1224.2 1845.86 1371 1845.86" stroke="#c0b0d8"/>
<path d="M1077.4 1703.16C1224.2 1703.16 1224.2 1530.97 1371 1530.97" stroke="#cd5b45"/>
<path d="M1077.4 1704.04C1224.2 1704.04 1224.2 1549.66 1371 1549.66" stroke="#4e9a84"/>
<path d="M1077.4 1704.92C1224.2 1704.92 1224.2 1583.94 1371 1583.94" stroke="#8c98bc"/>
<path d="M1077.4 1705.8C1224.2 1705.8 1224.2 1592.98 1371 1592.98" stroke="#a8d8c8"/>
<path d="M1077.4 1706.68C1224.2 1706.68 1224.2 1638.63 1371 1638.63" stroke="#4a7ab8"/>
<path d="M1077.4 1707.56C1224.2 1707.56 1224.2 1649.35 1371 1649.35" stroke="#e88830"/>
<path d="M1077.4 1708.44C1224.2 1708.44 1224.2 1661.89 1371 1661.89" stroke="#50a040"/>
<path d="M1077.4 1709.32C1224.2 1709.32 1224.2 1670.55 1371 1670.55" stroke="#c03030"/>
<path d="M1077.4 1710.2C1224.2 1710.2 1224.2 1685.1 1371 1685.1" stroke="#8860c0"/>
<path d="M1077.4 1711.08C1224.2 1711.08 1224.2 1698.65 1371 1698.65" stroke="#8a5a50"/>
<path d="M1077.4 1711.96C1224.2 1711.96 1224.2 1712.31 1371 1712.31" stroke="#d070c0"/>
<path d="M1077.4 1712.84C1224.2 1712.84 1224.2 1725.17 1371 1725.17" stroke="#909090"/>
<path d="M1077.4 1713.72C1224.2 1713.72 1224.2 1739.16 1371 1739.16" stroke="#c0c030"/>
<path d="M1077.4 1714.6C1224.2 1714.6 1224.2 1756.73 1371 1756.73" stroke="#60c0d0"/>
<path d="M1077.4 1715.48C1224.2 1715.48 1224.2 1788.71 1371 1788.71" stroke="#f0b878"/>
<path d="M1077.4 1716.36C1224.2 1716.36 1224.2 1819.81 1371 1819.81" stroke="#e89898"/>
<path d="M1077.4 1717.24C1224.2 1717.24 1224.2 1846.81 1371 1846.81" stroke="#c0b0d8"/>
<path d="M1077.4 1723.26C1224.2 1723.26 1224.2 1572.97 1371 1572.97" stroke="#e8967a"/>
<path d="M1077.4 1724.2C1224.2 1724.2 1224.2 1757.66 1371 1757.66" stroke="#60c0d0"/>
<path d="M1077.4 1725.14C1224.2 1725.14 1224.2 1847.76 1371 1847.76" stroke="#c0b0d8"/>
<path d="M1077.4 1730.5C1224.2 1730.5 1224.2 1662.76 1371 1662.76" stroke="#50a040"/>
<path d="M1077.4 1735.86C1224.2 1735.86 1224.2 1550.65 1371 1550.65" stroke="#4e9a84"/>
<path d="M1077.4 1736.8C1224.2 1736.8 1224.2 1593.89 1371 1593.89" stroke="#a8d8c8"/>
<path d="M1077.4 1737.74C1224.2 1737.74 1224.2 1616.55 1371 1616.55" stroke="#7a5e48"/>
<path d="M1077.4 1743.1C1224.2 1743.1 1224.2 1848.7 1371 1848.7" stroke="#c0b0d8"/>
<path d="M1077.4 1748.88C1224.2 1748.88 1224.2 1573.94 1371 1573.94" stroke="#e8967a"/>
<path d="M1077.4 1749.76C1224.2 1749.76 1224.2 1594.81 1371 1594.81" stroke="#a8d8c8"/>
<path d="M1077.4 1750.64C1224.2 1750.64 1224.2 1617.45 1371 1617.45" stroke="#7a5e48"/>
<path d="M1077.4 1751.52C1224.2 1751.52 1224.2 1639.59 1371 1639.59" stroke="#4a7ab8"/>
<path d="M1077.4 1752.4C1224.2 1752.4 1224.2 1758.59 1371 1758.59" stroke="#60c0d0"/>
<path d="M1077.4 1753.28C1224.2 1753.28 1224.2 1789.62 1371 1789.62" stroke="#f0b878"/>
<path d="M1077.4 1754.16C1224.2 1754.16 1224.2 1804.05 1371 1804.05" stroke="#b0e090"/>
<path d="M1077.4 1755.04C1224.2 1755.04 1224.2 1820.77 1371 1820.77" stroke="#e89898"/>
<path d="M1077.4 1755.92C1224.2 1755.92 1224.2 1849.65 1371 1849.65" stroke="#c0b0d8"/>
<path d="M1077.4 1761.48C1224.2 1761.48 1224.2 1531.92 1371 1531.92" stroke="#cd5b45"/>
<path d="M1077.4 1762.36C1224.2 1762.36 1224.2 1551.64 1371 1551.64" stroke="#4e9a84"/>
<path d="M1077.4 1763.25C1224.2 1763.25 1224.2 1618.35 1371 1618.35" stroke="#7a5e48"/>
<path d="M1077.4 1764.13C1224.2 1764.13 1224.2 1628.34 1371 1628.34" stroke="#b09a80"/>
<path d="M1077.4 1765.02C1224.2 1765.02 1224.2 1640.56 1371 1640.56" stroke="#4a7ab8"/>
<path d="M1077.4 1765.9C1224.2 1765.9 1224.2 1671.48 1371 1671.48" stroke="#c03030"/>
<path d="M1077.4 1766.78C1224.2 1766.78 1224.2 1740.08 1371 1740.08" stroke="#c0c030"/>
<path d="M1077.4 1767.67C1224.2 1767.67 1224.2 1759.52 1371 1759.52" stroke="#60c0d0"/>
<path d="M1077.4 1768.55C1224.2 1768.55 1224.2 1790.53 1371 1790.53" stroke="#f0b878"/>
<path d="M1077.4 1769.44C1224.2 1769.44 1224.2 1821.73 1371 1821.73" stroke="#e89898"/>
<path d="M1077.4 1770.32C1224.2 1770.32 1224.2 1850.59 1371 1850.59" stroke="#c0b0d8"/>
<path d="M1077.4 1776.09C1224.2 1776.09 1224.2 1584.89 1371 1584.89" stroke="#8c98bc"/>
<path d="M1077.4 1777C1224.2 1777 1224.2 1595.72 1371 1595.72" stroke="#a8d8c8"/>
<path d="M1077.4 1777.9C1224.2 1777.9 1224.2 1650.22 1371 1650.22" stroke="#e88830"/>
<path d="M1077.4 1778.81C1224.2 1778.81 1224.2 1760.45 1371 1760.45" stroke="#60c0d0"/>
<path d="M1077.4 1779.71C1224.2 1779.71 1224.2 1804.95 1371 1804.95" stroke="#b0e090"/>
<path d="M1077.4 1784.89C1224.2 1784.89 1224.2 1532.88 1371 1532.88" stroke="#cd5b45"/>
<path d="M1077.4 1785.8C1224.2 1785.8 1224.2 1541.87 1371 1541.87" stroke="#80bcd8"/>
<path d="M1077.4 1786.7C1224.2 1786.7 1224.2 1552.62 1371 1552.62" stroke="#4e9a84"/>
<path d="M1077.4 1787.61C1224.2 1787.61 1224.2 1585.83 1371 1585.83" stroke="#8c98bc"/>
<path d="M1077.4 1788.52C1224.2 1788.52 1224.2 1596.63 1371 1596.63" stroke="#a8d8c8"/>
<path d="M1077.4 1789.43C1224.2 1789.43 1224.2 1629.31 1371 1629.31" stroke="#b09a80"/>
<path d="M1077.4 1790.33C1224.2 1790.33 1224.2 1641.52 1371 1641.52" stroke="#4a7ab8"/>
<path d="M1077.4 1791.24C1224.2 1791.24 1224.2 1651.09 1371 1651.09" stroke="#e88830"/>
<path d="M1077.4 1792.15C1224.2 1792.15 1224.2 1672.41 1371 1672.41" stroke="#c03030"/>
<path d="M1077.4 1793.05C1224.2 1793.05 1224.2 1699.55 1371 1699.55" stroke="#8a5a50"/>
<path d="M1077.4 1793.96C1224.2 1793.96 1224.2 1713.27 1371 1713.27" stroke="#d070c0"/>
<path d="M1077.4 1794.87C1224.2 1794.87 1224.2 1726.09 1371 1726.09" stroke="#909090"/>
<path d="M1077.4 1795.77C1224.2 1795.77 1224.2 1741 1371 1741" stroke="#c0c030"/>
<path d="M1077.4 1796.68C1224.2 1796.68 1224.2 1761.38 1371 1761.38" stroke="#60c0d0"/>
<path d="M1077.4 1797.59C1224.2 1797.59 1224.2 1775.12 1371 1775.12" stroke="#b8c8e8"/>
<path d="M1077.4 1798.5C1224.2 1798.5 1224.2 1791.43 1371 1791.43" stroke="#f0b878"/>
<path d="M1077.4 1799.4C1224.2 1799.4 1224.2 1822.7 1371 1822.7" stroke="#e89898"/>
<path d="M1077.4 1800.31C1224.2 1800.31 1224.2 1851.54 1371 1851.54" stroke="#c0b0d8"/>
<path d="M1077.4 1805.58C1224.2 1805.58 1224.2 1533.83 1371 1533.83" stroke="#cd5b45"/>
<path d="M1077.4 1806.46C1224.2 1806.46 1224.2 1542.89 1371 1542.89" stroke="#80bcd8"/>
<path d="M1077.4 1807.34C1224.2 1807.34 1224.2 1553.61 1371 1553.61" stroke="#4e9a84"/>
<path d="M1077.4 1808.22C1224.2 1808.22 1224.2 1564.31 1371 1564.31" stroke="#505e90"/>
<path d="M1077.4 1809.1C1224.2 1809.1 1224.2 1574.91 1371 1574.91" stroke="#e8967a"/>
<path d="M1077.4 1809.98C1224.2 1809.98 1224.2 1597.54 1371 1597.54" stroke="#a8d8c8"/>
<path d="M1077.4 1810.86C1224.2 1810.86 1224.2 1651.96 1371 1651.96" stroke="#e88830"/>
<path d="M1077.4 1811.74C1224.2 1811.74 1224.2 1673.34 1371 1673.34" stroke="#c03030"/>
<path d="M1077.4 1812.62C1224.2 1812.62 1224.2 1686.03 1371 1686.03" stroke="#8860c0"/>
<path d="M1077.4 1813.5C1224.2 1813.5 1224.2 1700.45 1371 1700.45" stroke="#8a5a50"/>
<path d="M1077.4 1814.38C1224.2 1814.38 1224.2 1714.22 1371 1714.22" stroke="#d070c0"/>
<path d="M1077.4 1815.26C1224.2 1815.26 1224.2 1727 1371 1727" stroke="#909090"/>
<path d="M1077.4 1816.14C1224.2 1816.14 1224.2 1741.92 1371 1741.92" stroke="#c0c030"/>
<path d="M1077.4 1817.02C1224.2 1817.02 1224.2 1762.31 1371 1762.31" stroke="#60c0d0"/>
<path d="M1077.4 1817.9C1224.2 1817.9 1224.2 1776.04 1371 1776.04" stroke="#b8c8e8"/>
<path d="M1077.4 1818.78C1224.2 1818.78 1224.2 1792.34 1371 1792.34" stroke="#f0b878"/>
<path d="M1077.4 1819.66C1224.2 1819.66 1224.2 1805.85 1371 1805.85" stroke="#b0e090"/>
<path d="M1077.4 1820.54C1224.2 1820.54 1224.2 1823.66 1371 1823.66" stroke="#e89898"/>
<path d="M1077.4 1821.42C1224.2 1821.42 1224.2 1852.49 1371 1852.49" stroke="#c0b0d8"/>
<path d="M1077.4 1827.1C1224.2 1827.1 1224.2 1853.43 1371 1853.43" stroke="#c0b0d8"/>
<path d="M1077.4 1833C1224.2 1833 1224.2 1824.62 1371 1824.62" stroke="#e89898"/>
<path d="M1077.4 1838.36C1224.2 1838.36 1224.2 1727.92 1371 1727.92" stroke="#909090"/>
<path d="M1077.4 1839.3C1224.2 1839.3 1224.2 1806.75 1371 1806.75" stroke="#b0e090"/>
<path d="M1077.4 1840.24C1224.2 1840.24 1224.2 1854.38 1371 1854.38" stroke="#c0b0d8"/>
<path d="M1077.4 1845.6C1224.2 1845.6 1224.2 1701.35 1371 1701.35" stroke="#8a5a50"/>
<path d="M1077.4 1851.04C1224.2 1851.04 1224.2 1728.84 1371 1728.84" stroke="#909090"/>
<path d="M1077.4 1851.94C1224.2 1851.94 1224.2 1742.84 1371 1742.84" stroke="#c0c030"/>
<path d="M1077.4 1852.85C1224.2 1852.85 1224.2 1763.24 1371 1763.24" stroke="#60c0d0"/>
<path d="M1077.4 1853.75C1224.2 1853.75 1224.2 1793.25 1371 1793.25" stroke="#f0b878"/>
<path d="M1077.4 1854.66C1224.2 1854.66 1224.2 1807.65 1371 1807.65" stroke="#b0e090"/>
<path d="M1077.4 1855.56C1224.2 1855.56 1224.2 1855.33 1371 1855.33" stroke="#c0b0d8"/>
</g>
<rect x="1062.8" y="1330.84" width="14.6" height="1.12" fill="#fff6dc"/>
<rect x="1062.8" y="1336.44" width="14.6" height="1.12" fill="#eefcff"/>
<rect x="1062.8" y="1342.04" width="14.6" height="1.12" fill="#c87030"/>
<rect x="1062.8" y="1347.64" width="14.6" height="1.12" fill="#e890c0"/>
<rect x="1062.8" y="1352.94" width="14.6" height="1.12" fill="#c8c850"/>
<rect x="1062.8" y="1358.29" width="14.6" height="1.02" fill="#3040a0"/>
<rect x="1062.8" y="1363.84" width="14.6" height="1.12" fill="#80f080"/>
<rect x="1062.8" y="1369.49" width="14.6" height="1.02" fill="#904020"/>
<rect x="1062.8" y="1374.94" width="14.6" height="1.32" fill="#e8a020"/>
<rect x="1062.8" y="1380.52" width="14.6" height="1.76" fill="#9020e8"/>
<rect x="1062.8" y="1386.59" width="14.6" height="1.43" fill="#5890f0"/>
<rect x="1062.8" y="1392.28" width="14.6" height="2.64" fill="#ffff20"/>
<rect x="1062.8" y="1399.19" width="14.6" height="1.02" fill="#b07070"/>
<rect x="1062.8" y="1404.49" width="14.6" height="1.02" fill="#c050c0"/>
<rect x="1062.8" y="1409.84" width="14.6" height="1.12" fill="#3060b0"/>
<rect x="1062.8" y="1414.74" width="14.6" height="1.32" fill="#a03060"/>
<rect x="1062.8" y="1420.39" width="14.6" height="1.22" fill="#90c020"/>
<rect x="1062.8" y="1425.84" width="14.6" height="1.12" fill="#f8e0c0"/>
<rect x="1062.8" y="1430.89" width="14.6" height="1.02" fill="#e8e8e8"/>
<rect x="1062.8" y="1436.39" width="14.6" height="4.83" fill="#80f0f8"/>
<rect x="1062.8" y="1445.39" width="14.6" height="1.02" fill="#d8d8d8"/>
<rect x="1062.8" y="1450.99" width="14.6" height="1.02" fill="#eef6ff"/>
<rect x="1062.8" y="1456.04" width="14.6" height="1.12" fill="#408040"/>
<rect x="1062.8" y="1461.29" width="14.6" height="1.22" fill="#e83090"/>
<rect x="1062.8" y="1466.59" width="14.6" height="2.83" fill="#fff6ea"/>
<rect x="1062.8" y="1473.84" width="14.6" height="3.12" fill="#a0e080"/>
<rect x="1062.8" y="1481.44" width="14.6" height="1.12" fill="#305050"/>
<rect x="1062.8" y="1486.89" width="14.6" height="6.42" fill="#c8b098"/>
<rect x="1062.8" y="1497.79" width="14.6" height="1.82" fill="#60f020"/>
<rect x="1062.8" y="1504.19" width="14.6" height="2.83" fill="#f0b060"/>
<rect x="1062.8" y="1511.29" width="14.6" height="4.83" fill="#8060c0"/>
<rect x="1062.8" y="1519.82" width="14.6" height="6.16" fill="#fff0f4"/>
<rect x="1062.8" y="1529.62" width="14.6" height="1.76" fill="#60f080"/>
<rect x="1062.8" y="1535.46" width="14.6" height="5.28" fill="#f0dcb8"/>
<rect x="1062.8" y="1544.54" width="14.6" height="1.32" fill="#d8d890"/>
<rect x="1062.8" y="1550.69" width="14.6" height="4.83" fill="#b0a860"/>
<rect x="1062.8" y="1559.94" width="14.6" height="4.12" fill="#a8f890"/>
<rect x="1062.8" y="1568.24" width="14.6" height="1.12" fill="#b06060"/>
<rect x="1062.8" y="1574.14" width="14.6" height="1.12" fill="#8080f0"/>
<rect x="1062.8" y="1579.74" width="14.6" height="1.12" fill="#808080"/>
<rect x="1062.8" y="1585.8" width="14.6" height="8.8" fill="#b0c8f0"/>
<rect x="1062.8" y="1599.14" width="14.6" height="1.32" fill="#1010d0"/>
<rect x="1062.8" y="1605.59" width="14.6" height="9.22" fill="#5a9060"/>
<rect x="1062.8" y="1619.79" width="14.6" height="1.02" fill="#f09060"/>
<rect x="1062.8" y="1624.74" width="14.6" height="7.92" fill="#70a0a0"/>
<rect x="1062.8" y="1636.68" width="14.6" height="7.04" fill="#60c8c8"/>
<rect x="1062.8" y="1647.99" width="14.6" height="2.03" fill="#a0d0f0"/>
<rect x="1062.8" y="1654.79" width="14.6" height="1.02" fill="#b060f0"/>
<rect x="1062.8" y="1660.49" width="14.6" height="1.82" fill="#8050c0"/>
<rect x="1062.8" y="1666.79" width="14.6" height="1.02" fill="#f020f0"/>
<rect x="1062.8" y="1671.86" width="14.6" height="5.28" fill="#f0a0a0"/>
<rect x="1062.8" y="1681.84" width="14.6" height="1.12" fill="#a0e0f0"/>
<rect x="1062.8" y="1687.04" width="14.6" height="1.12" fill="#fff0d0"/>
<rect x="1062.8" y="1692.59" width="14.6" height="5.42" fill="#d0f0f8"/>
<rect x="1062.8" y="1702.72" width="14.6" height="14.96" fill="#60b8d0"/>
<rect x="1062.8" y="1722.79" width="14.6" height="2.83" fill="#d070c8"/>
<rect x="1062.8" y="1729.89" width="14.6" height="1.22" fill="#a06060"/>
<rect x="1062.8" y="1735.39" width="14.6" height="2.83" fill="#f0d020"/>
<rect x="1062.8" y="1742.54" width="14.6" height="1.12" fill="#5050f0"/>
<rect x="1062.8" y="1748.44" width="14.6" height="7.92" fill="#f8ece0"/>
<rect x="1062.8" y="1761.04" width="14.6" height="9.72" fill="#50a040"/>
<rect x="1062.8" y="1775.64" width="14.6" height="4.53" fill="#805048"/>
<rect x="1062.8" y="1784.44" width="14.6" height="16.32" fill="#5870e8"/>
<rect x="1062.8" y="1805.14" width="14.6" height="16.72" fill="#c0d8e8"/>
<rect x="1062.8" y="1826.44" width="14.6" height="1.32" fill="#40b0f0"/>
<rect x="1062.8" y="1832.49" width="14.6" height="1.02" fill="#c0a0e0"/>
<rect x="1062.8" y="1837.89" width="14.6" height="2.83" fill="#c02020"/>
<rect x="1062.8" y="1845.04" width="14.6" height="1.12" fill="#f08060"/>
<rect x="1062.8" y="1850.59" width="14.6" height="5.42" fill="#4090f0"/>
<text x="1060.5" y="1334.03" font-size="7.3" text-anchor="end" font-family="&#39;Liberation Serif&#39;, &#39;Times New Roman&#39;, serif" fill="#111" class="sls">SRC</text>
<text x="1060.5" y="1339.63" font-size="7.3" text-anchor="end" font-family="&#39;Liberation Serif&#39;, &#39;Times New Roman&#39;, serif" fill="#111" class="sls">NR1H3</text>
<text x="1060.5" y="1345.23" font-size="7.3" text-anchor="end" font-family="&#39;Liberation Serif&#39;, &#39;Times New Roman&#39;, serif" fill="#111" class="sls">APOA2</text>
<text x="1060.5" y="1350.83" font-size="7.3" text-anchor="end" font-family="&#39;Liberation Serif&#39;, &#39;Times New Roman&#39;, serif" fill="#111" class="sls">SCD</text>
<text x="1060.5" y="1356.13" font-size="7.3" text-anchor="end" font-family="&#39;Liberation Serif&#39;, &#39;Times New Roman&#39;, serif" fill="#111" class="sls">FABP6</text>
<text x="1060.5" y="1361.43" font-size="7.3" text-anchor="end" font-family="&#39;Liberation Serif&#39;, &#39;Times New Roman&#39;, serif" fill="#111" class="sls">PARP1</text>
<text x="1060.5" y="1367.03" font-size="7.3" text-anchor="end" font-family="&#39;Liberation Serif&#39;, &#39;Times New Roman&#39;, serif" fill="#111" class="sls">CTSB</text>
<text x="1060.5" y="1372.63" font-size="7.3" text-anchor="end" font-family="&#39;Liberation Serif&#39;, &#39;Times New Roman&#39;, serif" fill="#111" class="sls">LCN2</text>
<text x="1060.5" y="1378.23" font-size="7.3" text-anchor="end" font-family="&#39;Liberation Serif&#39;, &#39;Times New Roman&#39;, serif" fill="#111" class="sls">ACACB</text>
<text x="1060.5" y="1384.03" font-size="7.3" text-anchor="end" font-family="&#39;Liberation Serif&#39;, &#39;Times New Roman&#39;, serif" fill="#111" class="sls">PPARA</text>
<text x="1060.5" y="1389.93" font-size="7.3" text-anchor="end" font-family="&#39;Liberation Serif&#39;, &#39;Times New Roman&#39;, serif" fill="#111" class="sls">RXRB</text>
<text x="1060.5" y="1396.23" font-size="7.3" text-anchor="end" font-family="&#39;Liberation Serif&#39;, &#39;Times New Roman&#39;, serif" fill="#111" class="sls">CTSD</text>
<text x="1060.5" y="1402.33" font-size="7.3" text-anchor="end" font-family="&#39;Liberation Serif&#39;, &#39;Times New Roman&#39;, serif" fill="#111" class="sls">OPRM1</text>
<text x="1060.5" y="1407.63" font-size="7.3" text-anchor="end" font-family="&#39;Liberation Serif&#39;, &#39;Times New Roman&#39;, serif" fill="#111" class="sls">HSP90AA1</text>
<text x="1060.5" y="1413.03" font-size="7.3" text-anchor="end" font-family="&#39;Liberation Serif&#39;, &#39;Times New Roman&#39;, serif" fill="#111" class="sls">PLA2G2A</text>
<text x="1060.5" y="1418.03" font-size="7.3" text-anchor="end" font-family="&#39;Liberation Serif&#39;, &#39;Times New Roman&#39;, serif" fill="#111" class="sls">SOD2</text>
<text x="1060.5" y="1423.63" font-size="7.3" text-anchor="end" font-family="&#39;Liberation Serif&#39;, &#39;Times New Roman&#39;, serif" fill="#111" class="sls">GRIN1</text>
<text x="1060.5" y="1429.03" font-size="7.3" text-anchor="end" font-family="&#39;Liberation Serif&#39;, &#39;Times New Roman&#39;, serif" fill="#111" class="sls">ITGAL</text>
<text x="1060.5" y="1434.03" font-size="7.3" text-anchor="end" font-family="&#39;Liberation Serif&#39;, &#39;Times New Roman&#39;, serif" fill="#111" class="sls">LDHA</text>
<text x="1060.5" y="1441.43" font-size="7.3" text-anchor="end" font-family="&#39;Liberation Serif&#39;, &#39;Times New Roman&#39;, serif" fill="#111" class="sls">PDPK1</text>
<text x="1060.5" y="1448.53" font-size="7.3" text-anchor="end" font-family="&#39;Liberation Serif&#39;, &#39;Times New Roman&#39;, serif" fill="#111" class="sls">CHRM2</text>
<text x="1060.5" y="1454.13" font-size="7.3" text-anchor="end" font-family="&#39;Liberation Serif&#39;, &#39;Times New Roman&#39;, serif" fill="#111" class="sls">GCK</text>
<text x="1060.5" y="1459.23" font-size="7.3" text-anchor="end" font-family="&#39;Liberation Serif&#39;, &#39;Times New Roman&#39;, serif" fill="#111" class="sls">LDHA</text>
<text x="1060.5" y="1464.53" font-size="7.3" text-anchor="end" font-family="&#39;Liberation Serif&#39;, &#39;Times New Roman&#39;, serif" fill="#111" class="sls">PPP1CC</text>
<text x="1060.5" y="1470.63" font-size="7.3" text-anchor="end" font-family="&#39;Liberation Serif&#39;, &#39;Times New Roman&#39;, serif" fill="#111" class="sls">PDPK1</text>
<text x="1060.5" y="1478.03" font-size="7.3" text-anchor="end" font-family="&#39;Liberation Serif&#39;, &#39;Times New Roman&#39;, serif" fill="#111" class="sls">PRKCQ</text>
<text x="1060.5" y="1484.63" font-size="7.3" text-anchor="end" font-family="&#39;Liberation Serif&#39;, &#39;Times New Roman&#39;, serif" fill="#111" class="sls">CSNK2B</text>
<text x="1060.5" y="1492.73" font-size="7.3" text-anchor="end" font-family="&#39;Liberation Serif&#39;, &#39;Times New Roman&#39;, serif" fill="#111" class="sls">MAPK14</text>
<text x="1060.5" y="1501.33" font-size="7.3" text-anchor="end" font-family="&#39;Liberation Serif&#39;, &#39;Times New Roman&#39;, serif" fill="#111" class="sls">STAT1</text>
<text x="1060.5" y="1508.23" font-size="7.3" text-anchor="end" font-family="&#39;Liberation Serif&#39;, &#39;Times New Roman&#39;, serif" fill="#111" class="sls">EIF4E</text>
<text x="1060.5" y="1516.33" font-size="7.3" text-anchor="end" font-family="&#39;Liberation Serif&#39;, &#39;Times New Roman&#39;, serif" fill="#111" class="sls">KDR</text>
<text x="1060.5" y="1525.53" font-size="7.3" text-anchor="end" font-family="&#39;Liberation Serif&#39;, &#39;Times New Roman&#39;, serif" fill="#111" class="sls">SRC</text>
<text x="1060.5" y="1533.13" font-size="7.3" text-anchor="end" font-family="&#39;Liberation Serif&#39;, &#39;Times New Roman&#39;, serif" fill="#111" class="sls">GSK3B</text>
<text x="1060.5" y="1540.73" font-size="7.3" text-anchor="end" font-family="&#39;Liberation Serif&#39;, &#39;Times New Roman&#39;, serif" fill="#111" class="sls">PDGFRB</text>
<text x="1060.5" y="1547.83" font-size="7.3" text-anchor="end" font-family="&#39;Liberation Serif&#39;, &#39;Times New Roman&#39;, serif" fill="#111" class="sls">NFE2L2</text>
<text x="1060.5" y="1555.73" font-size="7.3" text-anchor="end" font-family="&#39;Liberation Serif&#39;, &#39;Times New Roman&#39;, serif" fill="#111" class="sls">MET</text>
<text x="1060.5" y="1564.63" font-size="7.3" text-anchor="end" font-family="&#39;Liberation Serif&#39;, &#39;Times New Roman&#39;, serif" fill="#111" class="sls">MDM2</text>
<text x="1060.5" y="1571.43" font-size="7.3" text-anchor="end" font-family="&#39;Liberation Serif&#39;, &#39;Times New Roman&#39;, serif" fill="#111" class="sls">RARA</text>
<text x="1060.5" y="1577.33" font-size="7.3" text-anchor="end" font-family="&#39;Liberation Serif&#39;, &#39;Times New Roman&#39;, serif" fill="#111" class="sls">GSTA1</text>
<text x="1060.5" y="1582.93" font-size="7.3" text-anchor="end" font-family="&#39;Liberation Serif&#39;, &#39;Times New Roman&#39;, serif" fill="#111" class="sls">CCNE1</text>
<text x="1060.5" y="1592.83" font-size="7.3" text-anchor="end" font-family="&#39;Liberation Serif&#39;, &#39;Times New Roman&#39;, serif" fill="#111" class="sls">NFKB1</text>
<text x="1060.5" y="1602.43" font-size="7.3" text-anchor="end" font-family="&#39;Liberation Serif&#39;, &#39;Times New Roman&#39;, serif" fill="#111" class="sls">ESR2</text>
<text x="1060.5" y="1612.83" font-size="7.3" text-anchor="end" font-family="&#39;Liberation Serif&#39;, &#39;Times New Roman&#39;, serif" fill="#111" class="sls">MTOR</text>
<text x="1060.5" y="1622.93" font-size="7.3" text-anchor="end" font-family="&#39;Liberation Serif&#39;, &#39;Times New Roman&#39;, serif" fill="#111" class="sls">F2</text>
<text x="1060.5" y="1631.33" font-size="7.3" text-anchor="end" font-family="&#39;Liberation Serif&#39;, &#39;Times New Roman&#39;, serif" fill="#111" class="sls">IGF1</text>
<text x="1060.5" y="1642.83" font-size="7.3" text-anchor="end" font-family="&#39;Liberation Serif&#39;, &#39;Times New Roman&#39;, serif" fill="#111" class="sls">STAT3</text>
<text x="1060.5" y="1651.63" font-size="7.3" text-anchor="end" font-family="&#39;Liberation Serif&#39;, &#39;Times New Roman&#39;, serif" fill="#111" class="sls">STAT1</text>
<text x="1060.5" y="1657.93" font-size="7.3" text-anchor="end" font-family="&#39;Liberation Serif&#39;, &#39;Times New Roman&#39;, serif" fill="#111" class="sls">GSTM1</text>
<text x="1060.5" y="1664.03" font-size="7.3" text-anchor="end" font-family="&#39;Liberation Serif&#39;, &#39;Times New Roman&#39;, serif" fill="#111" class="sls">HSP90AA1</text>
<text x="1060.5" y="1669.93" font-size="7.3" text-anchor="end" font-family="&#39;Liberation Serif&#39;, &#39;Times New Roman&#39;, serif" fill="#111" class="sls">GSTM2</text>
<text x="1060.5" y="1677.13" font-size="7.3" text-anchor="end" font-family="&#39;Liberation Serif&#39;, &#39;Times New Roman&#39;, serif" fill="#111" class="sls">PDGFRA</text>
<text x="1060.5" y="1685.03" font-size="7.3" text-anchor="end" font-family="&#39;Liberation Serif&#39;, &#39;Times New Roman&#39;, serif" fill="#111" class="sls">NQO1</text>
<text x="1060.5" y="1690.23" font-size="7.3" text-anchor="end" font-family="&#39;Liberation Serif&#39;, &#39;Times New Roman&#39;, serif" fill="#111" class="sls">PDGFRB</text>
<text x="1060.5" y="1697.93" font-size="7.3" text-anchor="end" font-family="&#39;Liberation Serif&#39;, &#39;Times New Roman&#39;, serif" fill="#111" class="sls">JAK2</text>
<text x="1060.5" y="1712.83" font-size="7.3" text-anchor="end" font-family="&#39;Liberation Serif&#39;, &#39;Times New Roman&#39;, serif" fill="#111" class="sls">MAPK1</text>
<text x="1060.5" y="1726.83" font-size="7.3" text-anchor="end" font-family="&#39;Liberation Serif&#39;, &#39;Times New Roman&#39;, serif" fill="#111" class="sls">ABL1</text>
<text x="1060.5" y="1733.13" font-size="7.3" text-anchor="end" font-family="&#39;Liberation Serif&#39;, &#39;Times New Roman&#39;, serif" fill="#111" class="sls">CTNNA1</text>
<text x="1060.5" y="1739.43" font-size="7.3" text-anchor="end" font-family="&#39;Liberation Serif&#39;, &#39;Times New Roman&#39;, serif" fill="#111" class="sls">CASP3</text>
<text x="1060.5" y="1745.73" font-size="7.3" text-anchor="end" font-family="&#39;Liberation Serif&#39;, &#39;Times New Roman&#39;, serif" fill="#111" class="sls">RXRB</text>
<text x="1060.5" y="1755.03" font-size="7.3" text-anchor="end" font-family="&#39;Liberation Serif&#39;, &#39;Times New Roman&#39;, serif" fill="#111" class="sls">IGF1R</text>
<text x="1060.5" y="1768.53" font-size="7.3" text-anchor="end" font-family="&#39;Liberation Serif&#39;, &#39;Times New Roman&#39;, serif" fill="#111" class="sls">EGFR</text>
<text x="1060.5" y="1780.53" font-size="7.3" text-anchor="end" font-family="&#39;Liberation Serif&#39;, &#39;Times New Roman&#39;, serif" fill="#111" class="sls">HIF1A</text>
<text x="1060.5" y="1795.23" font-size="7.3" text-anchor="end" font-family="&#39;Liberation Serif&#39;, &#39;Times New Roman&#39;, serif" fill="#111" class="sls">PIK3R1</text>
<text x="1060.5" y="1816.13" font-size="7.3" text-anchor="end" font-family="&#39;Liberation Serif&#39;, &#39;Times New Roman&#39;, serif" fill="#111" class="sls">PIK3CD</text>
<text x="1060.5" y="1829.73" font-size="7.3" text-anchor="end" font-family="&#39;Liberation Serif&#39;, &#39;Times New Roman&#39;, serif" fill="#111" class="sls">CXCR4</text>
<text x="1060.5" y="1835.63" font-size="7.3" text-anchor="end" font-family="&#39;Liberation Serif&#39;, &#39;Times New Roman&#39;, serif" fill="#111" class="sls">KEAP1</text>
<text x="1060.5" y="1841.93" font-size="7.3" text-anchor="end" font-family="&#39;Liberation Serif&#39;, &#39;Times New Roman&#39;, serif" fill="#111" class="sls">HSP90AB1</text>
<text x="1060.5" y="1848.23" font-size="7.3" text-anchor="end" font-family="&#39;Liberation Serif&#39;, &#39;Times New Roman&#39;, serif" fill="#111" class="sls">HDAC2</text>
<text x="1060.5" y="1855.93" font-size="7.3" text-anchor="end" font-family="&#39;Liberation Serif&#39;, &#39;Times New Roman&#39;, serif" fill="#111" class="sls">GSK3B</text>
<rect x="1371" y="1526.7" width="15.6" height="7.6" fill="#cd5b45"/>
<text transform="translate(1369 1533.24) scale(0.94 1)" font-size="7.6" text-anchor="end" font-family="&#39;Liberation Serif&#39;, &#39;Times New Roman&#39;, serif" fill="#111" class="sls">JAK-STAT signaling pathway</text>
<rect x="1371" y="1538.3" width="15.6" height="5.1" fill="#80bcd8"/>
<text transform="translate(1369 1543.59) scale(0.94 1)" font-size="7.6" text-anchor="end" font-family="&#39;Liberation Serif&#39;, &#39;Times New Roman&#39;, serif" fill="#111" class="sls">VEGF signaling pathway</text>
<rect x="1371" y="1547.2" width="15.6" height="6.9" fill="#4e9a84"/>
<text transform="translate(1369 1553.39) scale(0.94 1)" font-size="7.6" text-anchor="end" font-family="&#39;Liberation Serif&#39;, &#39;Times New Roman&#39;, serif" fill="#111" class="sls">T cell receptor signaling pathway</text>
<rect x="1371" y="1557.9" width="15.6" height="6.9" fill="#505e90"/>
<text transform="translate(1369 1564.09) scale(0.94 1)" font-size="7.6" text-anchor="end" font-family="&#39;Liberation Serif&#39;, &#39;Times New Roman&#39;, serif" fill="#111" class="sls">AMPK signaling pathway</text>
<rect x="1371" y="1568.6" width="15.6" height="6.8" fill="#e8967a"/>
<text transform="translate(1369 1574.74) scale(0.94 1)" font-size="7.6" text-anchor="end" font-family="&#39;Liberation Serif&#39;, &#39;Times New Roman&#39;, serif" fill="#111" class="sls">mTOR signaling pathway</text>
<rect x="1371" y="1579.7" width="15.6" height="6.6" fill="#8c98bc"/>
<text transform="translate(1369 1585.74) scale(0.94 1)" font-size="7.6" text-anchor="end" font-family="&#39;Liberation Serif&#39;, &#39;Times New Roman&#39;, serif" fill="#111" class="sls">Neurotrophin signaling pathway</text>
<rect x="1371" y="1590.7" width="15.6" height="7.3" fill="#a8d8c8"/>
<text transform="translate(1369 1597.09) scale(0.94 1)" font-size="7.6" text-anchor="end" font-family="&#39;Liberation Serif&#39;, &#39;Times New Roman&#39;, serif" fill="#111" class="sls">Chemokine signaling pathway</text>
<rect x="1371" y="1602.5" width="15.6" height="5.5" fill="#d4e0a0"/>
<text transform="translate(1369 1607.99) scale(0.94 1)" font-size="7.6" text-anchor="end" font-family="&#39;Liberation Serif&#39;, &#39;Times New Roman&#39;, serif" fill="#111" class="sls">PPAR signaling pathway</text>
<rect x="1371" y="1612.5" width="15.6" height="6.3" fill="#7a5e48"/>
<text transform="translate(1369 1618.39) scale(0.94 1)" font-size="7.6" text-anchor="end" font-family="&#39;Liberation Serif&#39;, &#39;Times New Roman&#39;, serif" fill="#111" class="sls">C-type lectin receptor signaling pathway</text>
<rect x="1371" y="1623" width="15.6" height="6.8" fill="#b09a80"/>
<text transform="translate(1369 1629.14) scale(0.94 1)" font-size="7.6" text-anchor="end" font-family="&#39;Liberation Serif&#39;, &#39;Times New Roman&#39;, serif" fill="#111" class="sls">Apoptosis</text>
<rect x="1371" y="1634.3" width="15.6" height="7.7" fill="#4a7ab8"/>
<text transform="translate(1369 1640.89) scale(0.94 1)" font-size="7.6" text-anchor="end" font-family="&#39;Liberation Serif&#39;, &#39;Times New Roman&#39;, serif" fill="#111" class="sls">Autophagy - animal</text>
<rect x="1371" y="1646.3" width="15.6" height="6.1" fill="#e88830"/>
<text transform="translate(1369 1652.09) scale(0.94 1)" font-size="7.6" text-anchor="end" font-family="&#39;Liberation Serif&#39;, &#39;Times New Roman&#39;, serif" fill="#111" class="sls">IL-17 signaling pathway</text>
<rect x="1371" y="1657.1" width="15.6" height="6.1" fill="#50a040"/>
<text transform="translate(1369 1662.89) scale(0.94 1)" font-size="7.6" text-anchor="end" font-family="&#39;Liberation Serif&#39;, &#39;Times New Roman&#39;, serif" fill="#111" class="sls">ErbB signaling pathway</text>
<rect x="1371" y="1667.3" width="15.6" height="6.5" fill="#c03030"/>
<text transform="translate(1369 1673.29) scale(0.94 1)" font-size="7.6" text-anchor="end" font-family="&#39;Liberation Serif&#39;, &#39;Times New Roman&#39;, serif" fill="#111" class="sls">Adipocytokine signaling pathway</text>
<rect x="1371" y="1678.1" width="15.6" height="8.4" fill="#8860c0"/>
<text transform="translate(1369 1685.04) scale(0.94 1)" font-size="7.6" text-anchor="end" font-family="&#39;Liberation Serif&#39;, &#39;Times New Roman&#39;, serif" fill="#111" class="sls">Estrogen signaling pathway</text>
<rect x="1371" y="1691" width="15.6" height="10.8" fill="#8a5a50"/>
<text transform="translate(1369 1699.14) scale(0.94 1)" font-size="7.6" text-anchor="end" font-family="&#39;Liberation Serif&#39;, &#39;Times New Roman&#39;, serif" fill="#111" class="sls">Ras signaling pathway</text>
<rect x="1371" y="1706.1" width="15.6" height="8.6" fill="#d070c0"/>
<text transform="translate(1369 1713.14) scale(0.94 1)" font-size="7.6" text-anchor="end" font-family="&#39;Liberation Serif&#39;, &#39;Times New Roman&#39;, serif" fill="#111" class="sls">FoxO signaling pathway</text>
<rect x="1371" y="1719.2" width="15.6" height="10.1" fill="#909090"/>
<text transform="translate(1369 1726.99) scale(0.94 1)" font-size="7.6" text-anchor="end" font-family="&#39;Liberation Serif&#39;, &#39;Times New Roman&#39;, serif" fill="#111" class="sls">Rap1 signaling pathway</text>
<rect x="1371" y="1734.1" width="15.6" height="9.2" fill="#c0c030"/>
<text transform="translate(1369 1741.44) scale(0.94 1)" font-size="7.6" text-anchor="end" font-family="&#39;Liberation Serif&#39;, &#39;Times New Roman&#39;, serif" fill="#111" class="sls">HIF-1 signaling pathway</text>
<rect x="1371" y="1747.9" width="15.6" height="15.8" fill="#60c0d0"/>
<text transform="translate(1369 1758.54) scale(0.94 1)" font-size="7.6" text-anchor="end" font-family="&#39;Liberation Serif&#39;, &#39;Times New Roman&#39;, serif" fill="#111" class="sls">PI3K-Akt signaling pathway</text>
<rect x="1371" y="1768.2" width="15.6" height="8.3" fill="#b8c8e8"/>
<text transform="translate(1369 1775.09) scale(0.94 1)" font-size="7.6" text-anchor="end" font-family="&#39;Liberation Serif&#39;, &#39;Times New Roman&#39;, serif" fill="#111" class="sls">Central carbon metabolism in cancer</text>
<rect x="1371" y="1781" width="15.6" height="12.7" fill="#f0b878"/>
<text transform="translate(1369 1790.09) scale(0.94 1)" font-size="7.6" text-anchor="end" font-family="&#39;Liberation Serif&#39;, &#39;Times New Roman&#39;, serif" fill="#111" class="sls">Proteoglycans in cancer</text>
<rect x="1371" y="1798.2" width="15.6" height="9.9" fill="#b0e090"/>
<text transform="translate(1369 1805.89) scale(0.94 1)" font-size="7.6" text-anchor="end" font-family="&#39;Liberation Serif&#39;, &#39;Times New Roman&#39;, serif" fill="#111" class="sls">PD-L1 expression and PD-1 checkpoint pathway in cancer</text>
<rect x="1371" y="1812.6" width="15.6" height="12.5" fill="#e89898"/>
<text transform="translate(1369 1821.59) scale(0.94 1)" font-size="7.6" text-anchor="end" font-family="&#39;Liberation Serif&#39;, &#39;Times New Roman&#39;, serif" fill="#111" class="sls">EGFR tyrosine kinase inhibitor resistance</text>
<rect x="1371" y="1829.3" width="15.6" height="26.5" fill="#c0b0d8"/>
<text transform="translate(1369 1845.29) scale(0.94 1)" font-size="7.6" text-anchor="end" font-family="&#39;Liberation Serif&#39;, &#39;Times New Roman&#39;, serif" fill="#111" class="sls">Pathways in cancer</text>
<defs><clipPath id="clipF"><rect x="1402.3" y="1527" width="229.2" height="328.6"/></clipPath></defs>
<g clip-path="url(#clipF)">
<circle cx="1434.6" cy="1530.8" r="5.3" fill="#0000ff"/>
<circle cx="1413" cy="1541.2" r="2.9" fill="#0000ff"/>
<circle cx="1427.3" cy="1550.9" r="5.1" fill="#0000ff"/>
<circle cx="1427.3" cy="1561.5" r="5.1" fill="#0000ff"/>
<circle cx="1434.6" cy="1572.4" r="5.75" fill="#0000ff"/>
<circle cx="1427.3" cy="1583.2" r="5.1" fill="#0000ff"/>
<circle cx="1441.7" cy="1594.5" r="6.4" fill="#0000ff"/>
<circle cx="1420" cy="1605.6" r="4.2" fill="#0000ff"/>
<circle cx="1427.3" cy="1615.8" r="5.1" fill="#0000ff"/>
<circle cx="1434.6" cy="1626.4" r="5.75" fill="#0000ff"/>
<circle cx="1441.7" cy="1638.3" r="6.4" fill="#0000ff"/>
<circle cx="1427.3" cy="1649.6" r="5.1" fill="#0000ff"/>
<circle cx="1427.3" cy="1660.2" r="5.1" fill="#0000ff"/>
<circle cx="1427.3" cy="1670.8" r="5.1" fill="#1800e8"/>
<circle cx="1449" cy="1682.3" r="6.85" fill="#2000e0"/>
<circle cx="1470.5" cy="1696.5" r="8.2" fill="#2800d8"/>
<circle cx="1449" cy="1710.4" r="6.85" fill="#2800d8"/>
<circle cx="1470.5" cy="1724.4" r="8.2" fill="#3000d0"/>
<circle cx="1455.9" cy="1738.8" r="7.3" fill="#5000a8"/>
<circle cx="1520.5" cy="1755.6" r="10.6" fill="#580098"/>
<circle cx="1449" cy="1772.4" r="6.85" fill="#5800a0"/>
<circle cx="1491.7" cy="1787.4" r="9.3" fill="#600090"/>
<circle cx="1463.2" cy="1803.4" r="7.75" fill="#700080"/>
<circle cx="1484.6" cy="1818.8" r="9.05" fill="#c00030"/>
<circle cx="1620.3" cy="1842.5" r="11.5" fill="#e00000"/>
</g>
<rect x="1402.3" y="1527" width="229.2" height="328.6" fill="none" stroke="#222" stroke-width="1.3"/>
<line x1="1454.8" y1="1855.6" x2="1454.8" y2="1859.6" stroke="#222" stroke-width="1.1"/>
<text x="1454.8" y="1877" font-size="15" text-anchor="middle" font-family="&#39;Liberation Serif&#39;, &#39;Times New Roman&#39;, serif" fill="#222">10</text>
<line x1="1538" y1="1855.6" x2="1538" y2="1859.6" stroke="#222" stroke-width="1.1"/>
<text x="1538" y="1877" font-size="15" text-anchor="middle" font-family="&#39;Liberation Serif&#39;, &#39;Times New Roman&#39;, serif" fill="#222">20</text>
<line x1="1621.2" y1="1855.6" x2="1621.2" y2="1859.6" stroke="#222" stroke-width="1.1"/>
<text x="1621.2" y="1877" font-size="15" text-anchor="middle" font-family="&#39;Liberation Serif&#39;, &#39;Times New Roman&#39;, serif" fill="#222">30</text>
<text x="1516.7" y="1899.5" font-size="20.6" text-anchor="middle" font-family="&#39;Liberation Serif&#39;, &#39;Times New Roman&#39;, serif" fill="#111">Gene.Ratio</text>
<text x="1657.7" y="1552.5" font-size="19.3" font-family="&#39;Liberation Serif&#39;, &#39;Times New Roman&#39;, serif" fill="#111">-log<tspan font-size="13" dy="5">10</tspan><tspan dy="-5">(Pvalue)</tspan></text>
<rect x="1654.8" y="1560.9" width="6.2" height="115" fill="url(#gBR)" stroke="#222" stroke-width="0.8"/>
<line x1="1661" y1="1564.2" x2="1664.5" y2="1564.2" stroke="#222" stroke-width="1"/>
<text x="1669.8" y="1569.2" font-size="14.5" font-family="&#39;Liberation Serif&#39;, &#39;Times New Roman&#39;, serif" fill="#222">15</text>
<line x1="1661" y1="1610.7" x2="1664.5" y2="1610.7" stroke="#222" stroke-width="1"/>
<text x="1669.8" y="1615.7" font-size="14.5" font-family="&#39;Liberation Serif&#39;, &#39;Times New Roman&#39;, serif" fill="#222">10</text>
<line x1="1661" y1="1657.3" x2="1664.5" y2="1657.3" stroke="#222" stroke-width="1"/>
<text x="1669.8" y="1662.3" font-size="14.5" font-family="&#39;Liberation Serif&#39;, &#39;Times New Roman&#39;, serif" fill="#222">5</text>
<text x="1675.8" y="1705" font-size="19.3" font-family="&#39;Liberation Serif&#39;, &#39;Times New Roman&#39;, serif" fill="#111">Count</text>
<circle cx="1668" cy="1727.3" r="3.3" fill="#000"/>
<text x="1690.8" y="1731.9" font-size="13.3" font-family="&#39;Liberation Serif&#39;, &#39;Times New Roman&#39;, serif" fill="#222">6</text>
<circle cx="1668" cy="1751.6" r="7.3" fill="#000"/>
<text x="1690.8" y="1756.2" font-size="13.3" font-family="&#39;Liberation Serif&#39;, &#39;Times New Roman&#39;, serif" fill="#222">13</text>
<circle cx="1668" cy="1776.6" r="10.2" fill="#000"/>
<text x="1690.8" y="1781.2" font-size="13.3" font-family="&#39;Liberation Serif&#39;, &#39;Times New Roman&#39;, serif" fill="#222">20</text>
<circle cx="1668" cy="1801.6" r="12.7" fill="#000"/>
<text x="1690.8" y="1806.2" font-size="13.3" font-family="&#39;Liberation Serif&#39;, &#39;Times New Roman&#39;, serif" fill="#222">27</text>
</svg>
</body></html>
